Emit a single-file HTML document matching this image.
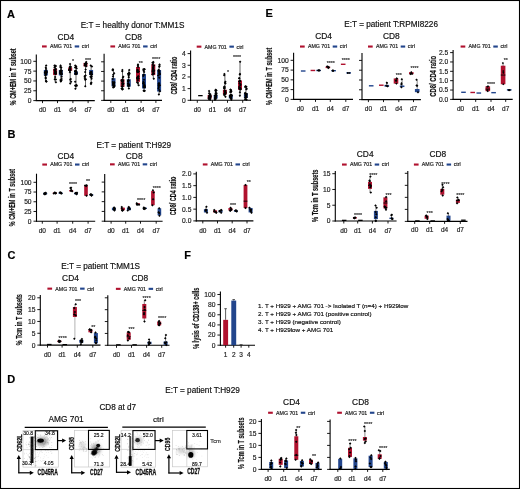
<!DOCTYPE html>
<html><head><meta charset="utf-8"><style>
html,body{margin:0;padding:0;background:#fff;}
svg{display:block;font-family:"Liberation Sans", sans-serif;will-change:transform;}
</style></head><body>
<svg width="520" height="489" viewBox="0 0 520 489">
<rect x="0.5" y="0.5" width="519" height="488" fill="none" stroke="#000" stroke-width="1.1"/>
<text x="7.00" y="17.80" font-size="11" text-anchor="start" font-weight="bold" fill="#000" stroke="#000" stroke-width="0.18">A</text>
<text x="132.50" y="28.00" font-size="8.2" text-anchor="middle" fill="#111" stroke="#111" stroke-width="0.18">E:T = healthy donor T:MM1S</text>
<text x="65.80" y="39.90" font-size="8.4" text-anchor="middle" fill="#111" stroke="#111" stroke-width="0.18">CD4</text>
<text x="133.50" y="39.90" font-size="8.4" text-anchor="middle" fill="#111" stroke="#111" stroke-width="0.18">CD8</text>
<rect x="42.00" y="45.40" width="4.70" height="2.10" fill="#b0112e"/>
<text x="49.90" y="48.30" font-size="5.25" text-anchor="start" fill="#222" stroke="#222" stroke-width="0.18">AMG 701</text>
<rect x="74.70" y="45.40" width="4.50" height="2.10" fill="#22458c"/>
<text x="81.80" y="48.30" font-size="5.25" text-anchor="start" fill="#222" stroke="#222" stroke-width="0.18">ctrl</text>
<rect x="110.40" y="45.40" width="4.70" height="2.10" fill="#b0112e"/>
<text x="118.30" y="48.30" font-size="5.25" text-anchor="start" fill="#222" stroke="#222" stroke-width="0.18">AMG 701</text>
<rect x="143.10" y="45.40" width="4.50" height="2.10" fill="#22458c"/>
<text x="150.20" y="48.30" font-size="5.25" text-anchor="start" fill="#222" stroke="#222" stroke-width="0.18">ctrl</text>
<rect x="196.70" y="45.60" width="4.70" height="2.10" fill="#b0112e"/>
<text x="204.60" y="48.50" font-size="5.25" text-anchor="start" fill="#222" stroke="#222" stroke-width="0.18">AMG 701</text>
<rect x="229.40" y="45.60" width="4.50" height="2.10" fill="#22458c"/>
<text x="236.50" y="48.50" font-size="5.25" text-anchor="start" fill="#222" stroke="#222" stroke-width="0.18">ctrl</text>
<text x="0.00" y="0.00" font-size="8.4" text-anchor="middle" font-weight="bold" fill="#111" transform="translate(15.52,76.80) rotate(-90) scale(0.655,1)" stroke="#111" stroke-width="0.18">% CM+EM in T subset</text>
<line x1="36.30" y1="54.40" x2="36.30" y2="101.10" stroke="#000" stroke-width="1.1"/>
<line x1="35.75" y1="100.60" x2="94.80" y2="100.60" stroke="#000" stroke-width="1.1"/>
<line x1="33.30" y1="100.60" x2="36.30" y2="100.60" stroke="#000" stroke-width="0.9"/>
<text x="31.40" y="103.01" font-size="6.7" text-anchor="end" fill="#222" stroke="#222" stroke-width="0.18">0</text>
<line x1="33.30" y1="90.77" x2="36.30" y2="90.77" stroke="#000" stroke-width="0.9"/>
<text x="31.40" y="93.19" font-size="6.7" text-anchor="end" fill="#222" stroke="#222" stroke-width="0.18">25</text>
<line x1="33.30" y1="80.95" x2="36.30" y2="80.95" stroke="#000" stroke-width="0.9"/>
<text x="31.40" y="83.36" font-size="6.7" text-anchor="end" fill="#222" stroke="#222" stroke-width="0.18">50</text>
<line x1="33.30" y1="71.12" x2="36.30" y2="71.12" stroke="#000" stroke-width="0.9"/>
<text x="31.40" y="73.54" font-size="6.7" text-anchor="end" fill="#222" stroke="#222" stroke-width="0.18">75</text>
<line x1="33.30" y1="61.30" x2="36.30" y2="61.30" stroke="#000" stroke-width="0.9"/>
<text x="31.40" y="63.71" font-size="6.7" text-anchor="end" fill="#222" stroke="#222" stroke-width="0.18">100</text>
<line x1="42.50" y1="100.60" x2="42.50" y2="103.10" stroke="#000" stroke-width="0.9"/>
<text x="42.50" y="112.00" font-size="6.5" text-anchor="middle" fill="#222" stroke="#222" stroke-width="0.18">d0</text>
<line x1="57.50" y1="100.60" x2="57.50" y2="103.10" stroke="#000" stroke-width="0.9"/>
<text x="57.50" y="112.00" font-size="6.5" text-anchor="middle" fill="#222" stroke="#222" stroke-width="0.18">d1</text>
<line x1="72.90" y1="100.60" x2="72.90" y2="103.10" stroke="#000" stroke-width="0.9"/>
<text x="72.90" y="112.00" font-size="6.5" text-anchor="middle" fill="#222" stroke="#222" stroke-width="0.18">d4</text>
<line x1="88.10" y1="100.60" x2="88.10" y2="103.10" stroke="#000" stroke-width="0.9"/>
<text x="88.10" y="112.00" font-size="6.5" text-anchor="middle" fill="#222" stroke="#222" stroke-width="0.18">d7</text>
<line x1="45.80" y1="65.62" x2="45.80" y2="81.50" stroke="#333" stroke-width="0.75"/>
<rect x="43.80" y="69.95" width="4.00" height="5.50" fill="#22458c"/>
<path d="M44.95 81.50L46.20 80.25L47.45 81.50L46.20 82.75Z" fill="#000"/>
<path d="M44.93 65.62L46.18 64.37L47.43 65.62L46.18 66.87Z" fill="#000"/>
<path d="M45.34 71.21L46.59 69.96L47.84 71.21L46.59 72.46Z" fill="#000"/>
<path d="M44.41 77.45L45.66 76.20L46.91 77.45L45.66 78.70Z" fill="#000"/>
<path d="M45.14 72.46L46.39 71.21L47.64 72.46L46.39 73.71Z" fill="#000"/>
<path d="M44.86 68.98L46.11 67.73L47.36 68.98L46.11 70.23Z" fill="#000"/>
<path d="M44.20 73.79L45.45 72.54L46.70 73.79L45.45 75.04Z" fill="#000"/>
<path d="M44.71 74.63L45.96 73.38L47.21 74.63L45.96 75.88Z" fill="#000"/>
<path d="M45.24 81.47L46.49 80.22L47.74 81.47L46.49 82.72Z" fill="#000"/>
<path d="M45.17 71.61L46.42 70.36L47.67 71.61L46.42 72.86Z" fill="#000"/>
<path d="M44.56 70.90L45.81 69.65L47.06 70.90L45.81 72.15Z" fill="#000"/>
<path d="M44.71 81.01L45.96 79.76L47.21 81.01L45.96 82.26Z" fill="#000"/>
<path d="M43.71 72.17L44.96 70.92L46.21 72.17L44.96 73.42Z" fill="#000"/>
<path d="M44.09 75.45L45.34 74.20L46.59 75.45L45.34 76.70Z" fill="#000"/>
<path d="M45.09 72.55L46.34 71.30L47.59 72.55L46.34 73.80Z" fill="#000"/>
<path d="M44.40 73.18L45.65 71.93L46.90 73.18L45.65 74.43Z" fill="#000"/>
<path d="M43.96 72.32L45.21 71.07L46.46 72.32L45.21 73.57Z" fill="#000"/>
<path d="M44.64 73.15L45.89 71.90L47.14 73.15L45.89 74.40Z" fill="#000"/>
<path d="M44.92 72.43L46.17 71.18L47.42 72.43L46.17 73.68Z" fill="#000"/>
<path d="M44.86 73.81L46.11 72.56L47.36 73.81L46.11 75.06Z" fill="#000"/>
<path d="M44.32 72.67L45.57 71.42L46.82 72.67L45.57 73.92Z" fill="#000"/>
<path d="M44.44 78.55L45.69 77.30L46.94 78.55L45.69 79.80Z" fill="#000"/>
<path d="M44.57 67.85L45.82 66.60L47.07 67.85L45.82 69.10Z" fill="#000"/>
<path d="M45.05 72.83L46.30 71.58L47.55 72.83L46.30 74.08Z" fill="#000"/>
<line x1="55.10" y1="65.62" x2="55.10" y2="82.13" stroke="#333" stroke-width="0.75"/>
<rect x="53.10" y="68.77" width="4.00" height="6.29" fill="#b0112e"/>
<path d="M54.68 82.13L55.93 80.88L57.18 82.13L55.93 83.38Z" fill="#000"/>
<path d="M53.24 65.62L54.49 64.37L55.74 65.62L54.49 66.87Z" fill="#000"/>
<path d="M54.31 66.48L55.56 65.23L56.81 66.48L55.56 67.73Z" fill="#000"/>
<path d="M54.24 73.54L55.49 72.29L56.74 73.54L55.49 74.79Z" fill="#000"/>
<path d="M53.78 69.98L55.03 68.73L56.28 69.98L55.03 71.23Z" fill="#000"/>
<path d="M53.90 77.04L55.15 75.79L56.40 77.04L55.15 78.29Z" fill="#000"/>
<path d="M53.83 72.11L55.08 70.86L56.33 72.11L55.08 73.36Z" fill="#000"/>
<path d="M54.61 79.51L55.86 78.26L57.11 79.51L55.86 80.76Z" fill="#000"/>
<path d="M53.85 72.33L55.10 71.08L56.35 72.33L55.10 73.58Z" fill="#000"/>
<path d="M54.45 65.71L55.70 64.46L56.95 65.71L55.70 66.96Z" fill="#000"/>
<path d="M53.59 73.15L54.84 71.90L56.09 73.15L54.84 74.40Z" fill="#000"/>
<path d="M54.54 72.82L55.79 71.57L57.04 72.82L55.79 74.07Z" fill="#000"/>
<path d="M54.57 73.77L55.82 72.52L57.07 73.77L55.82 75.02Z" fill="#000"/>
<path d="M53.78 72.62L55.03 71.37L56.28 72.62L55.03 73.87Z" fill="#000"/>
<path d="M53.97 70.37L55.22 69.12L56.47 70.37L55.22 71.62Z" fill="#000"/>
<path d="M54.61 71.67L55.86 70.42L57.11 71.67L55.86 72.92Z" fill="#000"/>
<path d="M54.25 73.78L55.50 72.53L56.75 73.78L55.50 75.03Z" fill="#000"/>
<path d="M53.83 73.34L55.08 72.09L56.33 73.34L55.08 74.59Z" fill="#000"/>
<path d="M53.35 69.95L54.60 68.70L55.85 69.95L54.60 71.20Z" fill="#000"/>
<path d="M53.53 79.13L54.78 77.88L56.03 79.13L54.78 80.38Z" fill="#000"/>
<path d="M54.21 68.98L55.46 67.73L56.71 68.98L55.46 70.23Z" fill="#000"/>
<path d="M53.25 67.16L54.50 65.91L55.75 67.16L54.50 68.41Z" fill="#000"/>
<path d="M54.58 69.09L55.83 67.84L57.08 69.09L55.83 70.34Z" fill="#000"/>
<path d="M53.43 70.02L54.68 68.77L55.93 70.02L54.68 71.27Z" fill="#000"/>
<line x1="60.80" y1="65.62" x2="60.80" y2="81.50" stroke="#333" stroke-width="0.75"/>
<rect x="58.80" y="69.95" width="4.00" height="5.50" fill="#22458c"/>
<path d="M59.56 81.50L60.81 80.25L62.06 81.50L60.81 82.75Z" fill="#000"/>
<path d="M59.34 65.62L60.59 64.37L61.84 65.62L60.59 66.87Z" fill="#000"/>
<path d="M59.28 71.74L60.53 70.49L61.78 71.74L60.53 72.99Z" fill="#000"/>
<path d="M59.70 71.50L60.95 70.25L62.20 71.50L60.95 72.75Z" fill="#000"/>
<path d="M59.70 80.46L60.95 79.21L62.20 80.46L60.95 81.71Z" fill="#000"/>
<path d="M60.28 70.58L61.53 69.33L62.78 70.58L61.53 71.83Z" fill="#000"/>
<path d="M59.88 72.96L61.13 71.71L62.38 72.96L61.13 74.21Z" fill="#000"/>
<path d="M60.32 74.03L61.57 72.78L62.82 74.03L61.57 75.28Z" fill="#000"/>
<path d="M60.19 73.94L61.44 72.69L62.69 73.94L61.44 75.19Z" fill="#000"/>
<path d="M60.43 79.11L61.68 77.86L62.93 79.11L61.68 80.36Z" fill="#000"/>
<path d="M59.86 67.72L61.11 66.47L62.36 67.72L61.11 68.97Z" fill="#000"/>
<path d="M58.94 70.96L60.19 69.71L61.44 70.96L60.19 72.21Z" fill="#000"/>
<path d="M60.20 80.48L61.45 79.23L62.70 80.48L61.45 81.73Z" fill="#000"/>
<path d="M60.39 72.12L61.64 70.87L62.89 72.12L61.64 73.37Z" fill="#000"/>
<path d="M60.28 73.75L61.53 72.50L62.78 73.75L61.53 75.00Z" fill="#000"/>
<path d="M59.67 73.99L60.92 72.74L62.17 73.99L60.92 75.24Z" fill="#000"/>
<path d="M59.93 67.55L61.18 66.30L62.43 67.55L61.18 68.80Z" fill="#000"/>
<path d="M59.03 66.88L60.28 65.63L61.53 66.88L60.28 68.13Z" fill="#000"/>
<path d="M60.15 70.73L61.40 69.48L62.65 70.73L61.40 71.98Z" fill="#000"/>
<path d="M59.68 70.20L60.93 68.95L62.18 70.20L60.93 71.45Z" fill="#000"/>
<path d="M59.16 79.95L60.41 78.70L61.66 79.95L60.41 81.20Z" fill="#000"/>
<path d="M58.76 73.02L60.01 71.77L61.26 73.02L60.01 74.27Z" fill="#000"/>
<path d="M60.19 74.58L61.44 73.33L62.69 74.58L61.44 75.83Z" fill="#000"/>
<path d="M60.43 76.72L61.68 75.47L62.93 76.72L61.68 77.97Z" fill="#000"/>
<line x1="70.20" y1="64.05" x2="70.20" y2="83.39" stroke="#333" stroke-width="0.75"/>
<rect x="68.20" y="67.59" width="4.00" height="3.14" fill="#b0112e"/>
<path d="M68.97 83.39L70.22 82.14L71.47 83.39L70.22 84.64Z" fill="#000"/>
<path d="M68.80 64.05L70.05 62.80L71.30 64.05L70.05 65.30Z" fill="#000"/>
<path d="M69.13 70.33L70.38 69.08L71.63 70.33L70.38 71.58Z" fill="#000"/>
<path d="M68.83 70.12L70.08 68.87L71.33 70.12L70.08 71.37Z" fill="#000"/>
<path d="M68.34 69.15L69.59 67.90L70.84 69.15L69.59 70.40Z" fill="#000"/>
<path d="M68.60 67.91L69.85 66.66L71.10 67.91L69.85 69.16Z" fill="#000"/>
<path d="M69.51 79.10L70.76 77.85L72.01 79.10L70.76 80.35Z" fill="#000"/>
<path d="M68.13 69.64L69.38 68.39L70.63 69.64L69.38 70.89Z" fill="#000"/>
<path d="M68.13 70.31L69.38 69.06L70.63 70.31L69.38 71.56Z" fill="#000"/>
<path d="M69.18 67.09L70.43 65.84L71.68 67.09L70.43 68.34Z" fill="#000"/>
<path d="M68.55 67.79L69.80 66.54L71.05 67.79L69.80 69.04Z" fill="#000"/>
<path d="M69.01 79.65L70.26 78.40L71.51 79.65L70.26 80.90Z" fill="#000"/>
<path d="M68.90 68.27L70.15 67.02L71.40 68.27L70.15 69.52Z" fill="#000"/>
<path d="M68.67 66.86L69.92 65.61L71.17 66.86L69.92 68.11Z" fill="#000"/>
<path d="M69.85 81.71L71.10 80.46L72.35 81.71L71.10 82.96Z" fill="#000"/>
<path d="M68.40 70.40L69.65 69.15L70.90 70.40L69.65 71.65Z" fill="#000"/>
<path d="M68.79 70.03L70.04 68.78L71.29 70.03L70.04 71.28Z" fill="#000"/>
<path d="M68.41 70.38L69.66 69.13L70.91 70.38L69.66 71.63Z" fill="#000"/>
<path d="M69.19 66.65L70.44 65.40L71.69 66.65L70.44 67.90Z" fill="#000"/>
<path d="M68.55 69.55L69.80 68.30L71.05 69.55L69.80 70.80Z" fill="#000"/>
<path d="M68.69 72.32L69.94 71.07L71.19 72.32L69.94 73.57Z" fill="#000"/>
<path d="M69.39 66.99L70.64 65.74L71.89 66.99L70.64 68.24Z" fill="#000"/>
<line x1="76.00" y1="65.62" x2="76.00" y2="88.69" stroke="#333" stroke-width="0.75"/>
<rect x="74.00" y="71.52" width="4.00" height="3.14" fill="#22458c"/>
<path d="M74.11 88.69L75.36 87.44L76.61 88.69L75.36 89.94Z" fill="#000"/>
<path d="M73.97 65.62L75.22 64.37L76.47 65.62L75.22 66.87Z" fill="#000"/>
<path d="M74.39 71.58L75.64 70.33L76.89 71.58L75.64 72.83Z" fill="#000"/>
<path d="M74.94 66.95L76.19 65.70L77.44 66.95L76.19 68.20Z" fill="#000"/>
<path d="M73.86 67.41L75.11 66.16L76.36 67.41L75.11 68.66Z" fill="#000"/>
<path d="M75.07 72.83L76.32 71.58L77.57 72.83L76.32 74.08Z" fill="#000"/>
<path d="M74.46 73.72L75.71 72.47L76.96 73.72L75.71 74.97Z" fill="#000"/>
<path d="M74.41 86.08L75.66 84.83L76.91 86.08L75.66 87.33Z" fill="#000"/>
<path d="M75.32 73.69L76.57 72.44L77.82 73.69L76.57 74.94Z" fill="#000"/>
<path d="M74.72 72.41L75.97 71.16L77.22 72.41L75.97 73.66Z" fill="#000"/>
<path d="M74.42 73.81L75.67 72.56L76.92 73.81L75.67 75.06Z" fill="#000"/>
<path d="M74.72 71.06L75.97 69.81L77.22 71.06L75.97 72.31Z" fill="#000"/>
<path d="M75.12 85.01L76.37 83.76L77.62 85.01L76.37 86.26Z" fill="#000"/>
<path d="M73.95 85.49L75.20 84.24L76.45 85.49L75.20 86.74Z" fill="#000"/>
<path d="M75.61 85.77L76.86 84.52L78.11 85.77L76.86 87.02Z" fill="#000"/>
<path d="M73.89 71.24L75.14 69.99L76.39 71.24L75.14 72.49Z" fill="#000"/>
<path d="M75.20 73.82L76.45 72.57L77.70 73.82L76.45 75.07Z" fill="#000"/>
<path d="M75.37 68.57L76.62 67.32L77.87 68.57L76.62 69.82Z" fill="#000"/>
<path d="M73.88 70.88L75.13 69.63L76.38 70.88L75.13 72.13Z" fill="#000"/>
<path d="M75.27 72.00L76.52 70.75L77.77 72.00L76.52 73.25Z" fill="#000"/>
<path d="M74.51 70.96L75.76 69.71L77.01 70.96L75.76 72.21Z" fill="#000"/>
<path d="M74.89 66.39L76.14 65.14L77.39 66.39L76.14 67.64Z" fill="#000"/>
<path d="M73.87 81.80L75.12 80.55L76.37 81.80L75.12 83.05Z" fill="#000"/>
<path d="M73.93 74.01L75.18 72.76L76.43 74.01L75.18 75.26Z" fill="#000"/>
<line x1="85.50" y1="61.89" x2="85.50" y2="86.22" stroke="#333" stroke-width="0.75"/>
<rect x="83.50" y="62.87" width="4.00" height="3.54" fill="#b0112e"/>
<path d="M84.00 86.22L85.25 84.97L86.50 86.22L85.25 87.47Z" fill="#000"/>
<path d="M85.03 61.89L86.28 60.64L87.53 61.89L86.28 63.14Z" fill="#000"/>
<path d="M84.99 66.22L86.24 64.97L87.49 66.22L86.24 67.47Z" fill="#000"/>
<path d="M84.28 65.19L85.53 63.94L86.78 65.19L85.53 66.44Z" fill="#000"/>
<path d="M84.51 63.93L85.76 62.68L87.01 63.93L85.76 65.18Z" fill="#000"/>
<path d="M84.61 63.63L85.86 62.38L87.11 63.63L85.86 64.88Z" fill="#000"/>
<path d="M84.80 63.59L86.05 62.34L87.30 63.59L86.05 64.84Z" fill="#000"/>
<path d="M85.11 63.49L86.36 62.24L87.61 63.49L86.36 64.74Z" fill="#000"/>
<path d="M83.40 76.14L84.65 74.89L85.90 76.14L84.65 77.39Z" fill="#000"/>
<path d="M84.00 63.87L85.25 62.62L86.50 63.87L85.25 65.12Z" fill="#000"/>
<path d="M84.43 64.28L85.68 63.03L86.93 64.28L85.68 65.53Z" fill="#000"/>
<path d="M83.90 79.76L85.15 78.51L86.40 79.76L85.15 81.01Z" fill="#000"/>
<path d="M84.41 69.54L85.66 68.29L86.91 69.54L85.66 70.79Z" fill="#000"/>
<path d="M83.51 78.05L84.76 76.80L86.01 78.05L84.76 79.30Z" fill="#000"/>
<path d="M84.93 63.50L86.18 62.25L87.43 63.50L86.18 64.75Z" fill="#000"/>
<path d="M84.30 75.39L85.55 74.14L86.80 75.39L85.55 76.64Z" fill="#000"/>
<path d="M83.56 65.40L84.81 64.15L86.06 65.40L84.81 66.65Z" fill="#000"/>
<path d="M84.54 79.13L85.79 77.88L87.04 79.13L85.79 80.38Z" fill="#000"/>
<path d="M83.91 71.90L85.16 70.65L86.41 71.90L85.16 73.15Z" fill="#000"/>
<path d="M83.70 63.96L84.95 62.71L86.20 63.96L84.95 65.21Z" fill="#000"/>
<line x1="91.10" y1="65.62" x2="91.10" y2="84.09" stroke="#333" stroke-width="0.75"/>
<rect x="89.10" y="69.95" width="4.00" height="5.11" fill="#22458c"/>
<path d="M89.77 84.09L91.02 82.84L92.27 84.09L91.02 85.34Z" fill="#000"/>
<path d="M89.49 65.62L90.74 64.37L91.99 65.62L90.74 66.87Z" fill="#000"/>
<path d="M90.38 74.19L91.63 72.94L92.88 74.19L91.63 75.44Z" fill="#000"/>
<path d="M90.21 82.76L91.46 81.51L92.71 82.76L91.46 84.01Z" fill="#000"/>
<path d="M89.39 73.51L90.64 72.26L91.89 73.51L90.64 74.76Z" fill="#000"/>
<path d="M89.98 73.07L91.23 71.82L92.48 73.07L91.23 74.32Z" fill="#000"/>
<path d="M89.90 73.30L91.15 72.05L92.40 73.30L91.15 74.55Z" fill="#000"/>
<path d="M90.53 74.38L91.78 73.13L93.03 74.38L91.78 75.63Z" fill="#000"/>
<path d="M90.26 72.06L91.51 70.81L92.76 72.06L91.51 73.31Z" fill="#000"/>
<path d="M89.47 73.96L90.72 72.71L91.97 73.96L90.72 75.21Z" fill="#000"/>
<path d="M90.71 66.59L91.96 65.34L93.21 66.59L91.96 67.84Z" fill="#000"/>
<path d="M89.16 76.77L90.41 75.52L91.66 76.77L90.41 78.02Z" fill="#000"/>
<path d="M89.70 83.23L90.95 81.98L92.20 83.23L90.95 84.48Z" fill="#000"/>
<path d="M90.31 78.74L91.56 77.49L92.81 78.74L91.56 79.99Z" fill="#000"/>
<path d="M89.22 74.29L90.47 73.04L91.72 74.29L90.47 75.54Z" fill="#000"/>
<path d="M89.83 72.10L91.08 70.85L92.33 72.10L91.08 73.35Z" fill="#000"/>
<path d="M89.02 72.83L90.27 71.58L91.52 72.83L90.27 74.08Z" fill="#000"/>
<path d="M90.15 77.22L91.40 75.97L92.65 77.22L91.40 78.47Z" fill="#000"/>
<path d="M90.33 74.46L91.58 73.21L92.83 74.46L91.58 75.71Z" fill="#000"/>
<path d="M89.98 74.01L91.23 72.76L92.48 74.01L91.23 75.26Z" fill="#000"/>
<path d="M90.53 76.20L91.78 74.95L93.03 76.20L91.78 77.45Z" fill="#000"/>
<path d="M89.51 72.82L90.76 71.57L92.01 72.82L90.76 74.07Z" fill="#000"/>
<text x="73.10" y="62.70" font-size="5.3" text-anchor="middle" fill="#333" stroke="#333" stroke-width="0.18">*</text>
<text x="88.10" y="61.60" font-size="5.3" text-anchor="middle" fill="#333" stroke="#333" stroke-width="0.18">***</text>
<line x1="104.10" y1="53.80" x2="104.10" y2="100.90" stroke="#000" stroke-width="1.1"/>
<line x1="103.55" y1="100.40" x2="162.00" y2="100.40" stroke="#000" stroke-width="1.1"/>
<line x1="101.10" y1="100.40" x2="104.10" y2="100.40" stroke="#000" stroke-width="0.9"/>
<line x1="101.10" y1="90.75" x2="104.10" y2="90.75" stroke="#000" stroke-width="0.9"/>
<line x1="101.10" y1="81.10" x2="104.10" y2="81.10" stroke="#000" stroke-width="0.9"/>
<line x1="101.10" y1="71.45" x2="104.10" y2="71.45" stroke="#000" stroke-width="0.9"/>
<line x1="101.10" y1="61.80" x2="104.10" y2="61.80" stroke="#000" stroke-width="0.9"/>
<line x1="110.80" y1="100.40" x2="110.80" y2="102.90" stroke="#000" stroke-width="0.9"/>
<text x="110.80" y="112.00" font-size="6.5" text-anchor="middle" fill="#222" stroke="#222" stroke-width="0.18">d0</text>
<line x1="125.60" y1="100.40" x2="125.60" y2="102.90" stroke="#000" stroke-width="0.9"/>
<text x="125.60" y="112.00" font-size="6.5" text-anchor="middle" fill="#222" stroke="#222" stroke-width="0.18">d1</text>
<line x1="141.10" y1="100.40" x2="141.10" y2="102.90" stroke="#000" stroke-width="0.9"/>
<text x="141.10" y="112.00" font-size="6.5" text-anchor="middle" fill="#222" stroke="#222" stroke-width="0.18">d4</text>
<line x1="155.90" y1="100.40" x2="155.90" y2="102.90" stroke="#000" stroke-width="0.9"/>
<text x="155.90" y="112.00" font-size="6.5" text-anchor="middle" fill="#222" stroke="#222" stroke-width="0.18">d7</text>
<line x1="113.50" y1="69.52" x2="113.50" y2="87.43" stroke="#333" stroke-width="0.75"/>
<rect x="111.50" y="78.17" width="4.00" height="8.18" fill="#22458c"/>
<path d="M111.92 87.43L113.17 86.18L114.42 87.43L113.17 88.68Z" fill="#000"/>
<path d="M111.76 69.52L113.01 68.27L114.26 69.52L113.01 70.77Z" fill="#000"/>
<path d="M111.87 83.48L113.12 82.23L114.37 83.48L113.12 84.73Z" fill="#000"/>
<path d="M111.48 79.09L112.73 77.84L113.98 79.09L112.73 80.34Z" fill="#000"/>
<path d="M112.73 83.33L113.98 82.08L115.23 83.33L113.98 84.58Z" fill="#000"/>
<path d="M112.07 83.74L113.32 82.49L114.57 83.74L113.32 84.99Z" fill="#000"/>
<path d="M112.87 73.23L114.12 71.98L115.37 73.23L114.12 74.48Z" fill="#000"/>
<path d="M112.05 84.86L113.30 83.61L114.55 84.86L113.30 86.11Z" fill="#000"/>
<path d="M113.07 82.13L114.32 80.88L115.57 82.13L114.32 83.38Z" fill="#000"/>
<path d="M112.88 86.68L114.13 85.43L115.38 86.68L114.13 87.93Z" fill="#000"/>
<path d="M111.35 70.15L112.60 68.90L113.85 70.15L112.60 71.40Z" fill="#000"/>
<path d="M111.73 76.41L112.98 75.16L114.23 76.41L112.98 77.66Z" fill="#000"/>
<path d="M112.99 86.42L114.24 85.17L115.49 86.42L114.24 87.67Z" fill="#000"/>
<path d="M112.20 86.18L113.45 84.93L114.70 86.18L113.45 87.43Z" fill="#000"/>
<path d="M113.11 85.20L114.36 83.95L115.61 85.20L114.36 86.45Z" fill="#000"/>
<path d="M112.07 84.00L113.32 82.75L114.57 84.00L113.32 85.25Z" fill="#000"/>
<path d="M111.48 81.95L112.73 80.70L113.98 81.95L112.73 83.20Z" fill="#000"/>
<path d="M112.48 83.04L113.73 81.79L114.98 83.04L113.73 84.29Z" fill="#000"/>
<path d="M112.75 82.92L114.00 81.67L115.25 82.92L114.00 84.17Z" fill="#000"/>
<path d="M111.84 85.00L113.09 83.75L114.34 85.00L113.09 86.25Z" fill="#000"/>
<path d="M111.51 69.60L112.76 68.35L114.01 69.60L112.76 70.85Z" fill="#000"/>
<path d="M111.95 74.75L113.20 73.50L114.45 74.75L113.20 76.00Z" fill="#000"/>
<line x1="122.50" y1="70.10" x2="122.50" y2="89.44" stroke="#333" stroke-width="0.75"/>
<rect x="120.50" y="79.25" width="4.00" height="7.60" fill="#b0112e"/>
<path d="M121.07 89.44L122.32 88.19L123.57 89.44L122.32 90.69Z" fill="#000"/>
<path d="M121.10 70.10L122.35 68.85L123.60 70.10L122.35 71.35Z" fill="#000"/>
<path d="M121.42 81.85L122.67 80.60L123.92 81.85L122.67 83.10Z" fill="#000"/>
<path d="M121.21 86.68L122.46 85.43L123.71 86.68L122.46 87.93Z" fill="#000"/>
<path d="M121.04 84.00L122.29 82.75L123.54 84.00L122.29 85.25Z" fill="#000"/>
<path d="M120.40 80.69L121.65 79.44L122.90 80.69L121.65 81.94Z" fill="#000"/>
<path d="M121.66 77.81L122.91 76.56L124.16 77.81L122.91 79.06Z" fill="#000"/>
<path d="M122.09 76.65L123.34 75.40L124.59 76.65L123.34 77.90Z" fill="#000"/>
<path d="M122.11 83.51L123.36 82.26L124.61 83.51L123.36 84.76Z" fill="#000"/>
<path d="M121.54 79.96L122.79 78.71L124.04 79.96L122.79 81.21Z" fill="#000"/>
<path d="M120.99 80.62L122.24 79.37L123.49 80.62L122.24 81.87Z" fill="#000"/>
<path d="M121.00 81.63L122.25 80.38L123.50 81.63L122.25 82.88Z" fill="#000"/>
<path d="M121.59 83.77L122.84 82.52L124.09 83.77L122.84 85.02Z" fill="#000"/>
<path d="M121.56 89.08L122.81 87.83L124.06 89.08L122.81 90.33Z" fill="#000"/>
<path d="M120.55 79.89L121.80 78.64L123.05 79.89L121.80 81.14Z" fill="#000"/>
<path d="M120.77 86.16L122.02 84.91L123.27 86.16L122.02 87.41Z" fill="#000"/>
<path d="M121.00 71.13L122.25 69.88L123.50 71.13L122.25 72.38Z" fill="#000"/>
<path d="M121.27 83.63L122.52 82.38L123.77 83.63L122.52 84.88Z" fill="#000"/>
<path d="M121.81 84.47L123.06 83.22L124.31 84.47L123.06 85.72Z" fill="#000"/>
<path d="M121.25 86.28L122.50 85.03L123.75 86.28L122.50 87.53Z" fill="#000"/>
<path d="M120.40 88.44L121.65 87.19L122.90 88.44L121.65 89.69Z" fill="#000"/>
<path d="M121.83 80.65L123.08 79.40L124.33 80.65L123.08 81.90Z" fill="#000"/>
<line x1="128.80" y1="70.10" x2="128.80" y2="88.43" stroke="#333" stroke-width="0.75"/>
<rect x="126.80" y="79.25" width="4.00" height="7.45" fill="#22458c"/>
<path d="M127.65 88.43L128.90 87.18L130.15 88.43L128.90 89.68Z" fill="#000"/>
<path d="M128.00 70.10L129.25 68.85L130.50 70.10L129.25 71.35Z" fill="#000"/>
<path d="M126.89 81.59L128.14 80.34L129.39 81.59L128.14 82.84Z" fill="#000"/>
<path d="M127.87 72.86L129.12 71.61L130.37 72.86L129.12 74.11Z" fill="#000"/>
<path d="M127.45 84.98L128.70 83.73L129.95 84.98L128.70 86.23Z" fill="#000"/>
<path d="M126.97 85.02L128.22 83.77L129.47 85.02L128.22 86.27Z" fill="#000"/>
<path d="M127.01 86.05L128.26 84.80L129.51 86.05L128.26 87.30Z" fill="#000"/>
<path d="M127.59 85.10L128.84 83.85L130.09 85.10L128.84 86.35Z" fill="#000"/>
<path d="M127.11 83.48L128.36 82.23L129.61 83.48L128.36 84.73Z" fill="#000"/>
<path d="M127.48 77.28L128.73 76.03L129.98 77.28L128.73 78.53Z" fill="#000"/>
<path d="M127.74 84.64L128.99 83.39L130.24 84.64L128.99 85.89Z" fill="#000"/>
<path d="M127.36 80.21L128.61 78.96L129.86 80.21L128.61 81.46Z" fill="#000"/>
<path d="M126.89 73.66L128.14 72.41L129.39 73.66L128.14 74.91Z" fill="#000"/>
<path d="M127.53 74.78L128.78 73.53L130.03 74.78L128.78 76.03Z" fill="#000"/>
<path d="M127.07 73.88L128.32 72.63L129.57 73.88L128.32 75.13Z" fill="#000"/>
<path d="M127.07 80.37L128.32 79.12L129.57 80.37L128.32 81.62Z" fill="#000"/>
<path d="M127.00 81.07L128.25 79.82L129.50 81.07L128.25 82.32Z" fill="#000"/>
<path d="M127.31 80.56L128.56 79.31L129.81 80.56L128.56 81.81Z" fill="#000"/>
<path d="M126.78 83.49L128.03 82.24L129.28 83.49L128.03 84.74Z" fill="#000"/>
<path d="M127.82 85.82L129.07 84.57L130.32 85.82L129.07 87.07Z" fill="#000"/>
<path d="M128.37 73.80L129.62 72.55L130.87 73.80L129.62 75.05Z" fill="#000"/>
<path d="M127.35 75.77L128.60 74.52L129.85 75.77L128.60 77.02Z" fill="#000"/>
<line x1="138.00" y1="64.39" x2="138.00" y2="85.35" stroke="#333" stroke-width="0.75"/>
<rect x="136.00" y="66.97" width="4.00" height="14.78" fill="#b0112e"/>
<path d="M137.42 85.35L138.67 84.10L139.92 85.35L138.67 86.60Z" fill="#000"/>
<path d="M136.77 64.39L138.02 63.14L139.27 64.39L138.02 65.64Z" fill="#000"/>
<path d="M136.20 71.37L137.45 70.12L138.70 71.37L137.45 72.62Z" fill="#000"/>
<path d="M136.66 65.64L137.91 64.39L139.16 65.64L137.91 66.89Z" fill="#000"/>
<path d="M136.24 77.97L137.49 76.72L138.74 77.97L137.49 79.22Z" fill="#000"/>
<path d="M137.29 71.55L138.54 70.30L139.79 71.55L138.54 72.80Z" fill="#000"/>
<path d="M136.75 71.64L138.00 70.39L139.25 71.64L138.00 72.89Z" fill="#000"/>
<path d="M136.03 70.26L137.28 69.01L138.53 70.26L137.28 71.51Z" fill="#000"/>
<path d="M137.32 78.46L138.57 77.21L139.82 78.46L138.57 79.71Z" fill="#000"/>
<path d="M136.01 77.84L137.26 76.59L138.51 77.84L137.26 79.09Z" fill="#000"/>
<path d="M136.36 69.87L137.61 68.62L138.86 69.87L137.61 71.12Z" fill="#000"/>
<path d="M135.90 82.21L137.15 80.96L138.40 82.21L137.15 83.46Z" fill="#000"/>
<path d="M137.18 71.43L138.43 70.18L139.68 71.43L138.43 72.68Z" fill="#000"/>
<path d="M136.05 72.12L137.30 70.87L138.55 72.12L137.30 73.37Z" fill="#000"/>
<path d="M136.80 76.77L138.05 75.52L139.30 76.77L138.05 78.02Z" fill="#000"/>
<path d="M136.02 78.73L137.27 77.48L138.52 78.73L137.27 79.98Z" fill="#000"/>
<path d="M136.71 76.89L137.96 75.64L139.21 76.89L137.96 78.14Z" fill="#000"/>
<path d="M137.08 76.15L138.33 74.90L139.58 76.15L138.33 77.40Z" fill="#000"/>
<path d="M136.81 67.06L138.06 65.81L139.31 67.06L138.06 68.31Z" fill="#000"/>
<path d="M136.67 83.01L137.92 81.76L139.17 83.01L137.92 84.26Z" fill="#000"/>
<path d="M136.72 72.06L137.97 70.81L139.22 72.06L137.97 73.31Z" fill="#000"/>
<path d="M136.64 80.36L137.89 79.11L139.14 80.36L137.89 81.61Z" fill="#000"/>
<line x1="144.00" y1="69.13" x2="144.00" y2="91.02" stroke="#333" stroke-width="0.75"/>
<rect x="142.00" y="74.07" width="4.00" height="14.36" fill="#22458c"/>
<path d="M143.09 91.02L144.34 89.77L145.59 91.02L144.34 92.27Z" fill="#000"/>
<path d="M143.14 69.13L144.39 67.88L145.64 69.13L144.39 70.38Z" fill="#000"/>
<path d="M142.37 90.77L143.62 89.52L144.87 90.77L143.62 92.02Z" fill="#000"/>
<path d="M142.74 87.56L143.99 86.31L145.24 87.56L143.99 88.81Z" fill="#000"/>
<path d="M143.45 90.65L144.70 89.40L145.95 90.65L144.70 91.90Z" fill="#000"/>
<path d="M142.03 76.11L143.28 74.86L144.53 76.11L143.28 77.36Z" fill="#000"/>
<path d="M142.06 69.14L143.31 67.89L144.56 69.14L143.31 70.39Z" fill="#000"/>
<path d="M141.94 83.58L143.19 82.33L144.44 83.58L143.19 84.83Z" fill="#000"/>
<path d="M142.69 84.88L143.94 83.63L145.19 84.88L143.94 86.13Z" fill="#000"/>
<path d="M143.36 85.15L144.61 83.90L145.86 85.15L144.61 86.40Z" fill="#000"/>
<path d="M142.85 71.88L144.10 70.63L145.35 71.88L144.10 73.13Z" fill="#000"/>
<path d="M142.57 86.13L143.82 84.88L145.07 86.13L143.82 87.38Z" fill="#000"/>
<path d="M142.75 79.83L144.00 78.58L145.25 79.83L144.00 81.08Z" fill="#000"/>
<path d="M142.17 81.89L143.42 80.64L144.67 81.89L143.42 83.14Z" fill="#000"/>
<path d="M143.56 87.30L144.81 86.05L146.06 87.30L144.81 88.55Z" fill="#000"/>
<path d="M142.49 83.14L143.74 81.89L144.99 83.14L143.74 84.39Z" fill="#000"/>
<path d="M142.27 70.66L143.52 69.41L144.77 70.66L143.52 71.91Z" fill="#000"/>
<path d="M142.41 82.15L143.66 80.90L144.91 82.15L143.66 83.40Z" fill="#000"/>
<path d="M143.33 69.24L144.58 67.99L145.83 69.24L144.58 70.49Z" fill="#000"/>
<path d="M142.42 74.86L143.67 73.61L144.92 74.86L143.67 76.11Z" fill="#000"/>
<path d="M143.48 86.42L144.73 85.17L145.98 86.42L144.73 87.67Z" fill="#000"/>
<path d="M142.46 74.96L143.71 73.71L144.96 74.96L143.71 76.21Z" fill="#000"/>
<line x1="153.30" y1="61.92" x2="153.30" y2="78.78" stroke="#333" stroke-width="0.75"/>
<rect x="151.30" y="64.39" width="4.00" height="10.69" fill="#b0112e"/>
<path d="M152.57 78.78L153.82 77.53L155.07 78.78L153.82 80.03Z" fill="#000"/>
<path d="M152.09 61.92L153.34 60.67L154.59 61.92L153.34 63.17Z" fill="#000"/>
<path d="M151.57 69.94L152.82 68.69L154.07 69.94L152.82 71.19Z" fill="#000"/>
<path d="M151.43 70.30L152.68 69.05L153.93 70.30L152.68 71.55Z" fill="#000"/>
<path d="M151.70 68.05L152.95 66.80L154.20 68.05L152.95 69.30Z" fill="#000"/>
<path d="M151.98 68.29L153.23 67.04L154.48 68.29L153.23 69.54Z" fill="#000"/>
<path d="M151.27 71.85L152.52 70.60L153.77 71.85L152.52 73.10Z" fill="#000"/>
<path d="M152.41 73.56L153.66 72.31L154.91 73.56L153.66 74.81Z" fill="#000"/>
<path d="M152.46 73.55L153.71 72.30L154.96 73.55L153.71 74.80Z" fill="#000"/>
<path d="M151.17 62.65L152.42 61.40L153.67 62.65L152.42 63.90Z" fill="#000"/>
<path d="M152.67 65.52L153.92 64.27L155.17 65.52L153.92 66.77Z" fill="#000"/>
<path d="M152.03 67.53L153.28 66.28L154.53 67.53L153.28 68.78Z" fill="#000"/>
<path d="M152.80 70.19L154.05 68.94L155.30 70.19L154.05 71.44Z" fill="#000"/>
<path d="M152.01 73.79L153.26 72.54L154.51 73.79L153.26 75.04Z" fill="#000"/>
<path d="M152.58 71.77L153.83 70.52L155.08 71.77L153.83 73.02Z" fill="#000"/>
<path d="M151.97 66.65L153.22 65.40L154.47 66.65L153.22 67.90Z" fill="#000"/>
<path d="M152.25 70.55L153.50 69.30L154.75 70.55L153.50 71.80Z" fill="#000"/>
<path d="M152.05 62.79L153.30 61.54L154.55 62.79L153.30 64.04Z" fill="#000"/>
<path d="M151.19 74.61L152.44 73.36L153.69 74.61L152.44 75.86Z" fill="#000"/>
<path d="M151.41 64.74L152.66 63.49L153.91 64.74L152.66 65.99Z" fill="#000"/>
<line x1="159.10" y1="64.39" x2="159.10" y2="94.53" stroke="#333" stroke-width="0.75"/>
<rect x="157.10" y="70.06" width="4.00" height="21.46" fill="#22458c"/>
<path d="M157.62 94.53L158.87 93.28L160.12 94.53L158.87 95.78Z" fill="#000"/>
<path d="M158.34 64.39L159.59 63.14L160.84 64.39L159.59 65.64Z" fill="#000"/>
<path d="M158.51 74.21L159.76 72.96L161.01 74.21L159.76 75.46Z" fill="#000"/>
<path d="M157.38 85.80L158.63 84.55L159.88 85.80L158.63 87.05Z" fill="#000"/>
<path d="M157.95 73.30L159.20 72.05L160.45 73.30L159.20 74.55Z" fill="#000"/>
<path d="M158.67 91.21L159.92 89.96L161.17 91.21L159.92 92.46Z" fill="#000"/>
<path d="M157.90 83.28L159.15 82.03L160.40 83.28L159.15 84.53Z" fill="#000"/>
<path d="M157.60 86.92L158.85 85.67L160.10 86.92L158.85 88.17Z" fill="#000"/>
<path d="M157.43 84.71L158.68 83.46L159.93 84.71L158.68 85.96Z" fill="#000"/>
<path d="M158.37 66.04L159.62 64.79L160.87 66.04L159.62 67.29Z" fill="#000"/>
<path d="M157.30 70.09L158.55 68.84L159.80 70.09L158.55 71.34Z" fill="#000"/>
<path d="M158.04 74.08L159.29 72.83L160.54 74.08L159.29 75.33Z" fill="#000"/>
<path d="M157.95 89.98L159.20 88.73L160.45 89.98L159.20 91.23Z" fill="#000"/>
<path d="M157.95 77.68L159.20 76.43L160.45 77.68L159.20 78.93Z" fill="#000"/>
<path d="M157.18 88.20L158.43 86.95L159.68 88.20L158.43 89.45Z" fill="#000"/>
<path d="M158.14 72.58L159.39 71.33L160.64 72.58L159.39 73.83Z" fill="#000"/>
<path d="M158.60 85.21L159.85 83.96L161.10 85.21L159.85 86.46Z" fill="#000"/>
<path d="M157.52 71.35L158.77 70.10L160.02 71.35L158.77 72.60Z" fill="#000"/>
<path d="M157.55 70.14L158.80 68.89L160.05 70.14L158.80 71.39Z" fill="#000"/>
<path d="M158.59 74.09L159.84 72.84L161.09 74.09L159.84 75.34Z" fill="#000"/>
<path d="M157.99 66.80L159.24 65.55L160.49 66.80L159.24 68.05Z" fill="#000"/>
<path d="M157.44 83.53L158.69 82.28L159.94 83.53L158.69 84.78Z" fill="#000"/>
<path d="M156.97 75.38L158.22 74.13L159.47 75.38L158.22 76.63Z" fill="#000"/>
<path d="M158.31 70.93L159.56 69.68L160.81 70.93L159.56 72.18Z" fill="#000"/>
<text x="140.70" y="64.90" font-size="5.3" text-anchor="middle" fill="#333" stroke="#333" stroke-width="0.18">**</text>
<text x="156.10" y="60.80" font-size="5.3" text-anchor="middle" fill="#333" stroke="#333" stroke-width="0.18">****</text>
<text x="0.00" y="0.00" font-size="8.4" text-anchor="middle" font-weight="bold" fill="#111" transform="translate(176.72,75.60) rotate(-90) scale(0.643,1)" stroke="#111" stroke-width="0.18">CD8/ CD4 ratio</text>
<line x1="190.60" y1="50.60" x2="190.60" y2="100.80" stroke="#000" stroke-width="1.1"/>
<line x1="190.05" y1="100.30" x2="251.00" y2="100.30" stroke="#000" stroke-width="1.1"/>
<line x1="187.60" y1="100.30" x2="190.60" y2="100.30" stroke="#000" stroke-width="0.9"/>
<text x="185.70" y="102.71" font-size="6.7" text-anchor="end" fill="#222" stroke="#222" stroke-width="0.18">0</text>
<line x1="187.60" y1="88.62" x2="190.60" y2="88.62" stroke="#000" stroke-width="0.9"/>
<text x="185.70" y="91.04" font-size="6.7" text-anchor="end" fill="#222" stroke="#222" stroke-width="0.18">1</text>
<line x1="187.60" y1="76.95" x2="190.60" y2="76.95" stroke="#000" stroke-width="0.9"/>
<text x="185.70" y="79.36" font-size="6.7" text-anchor="end" fill="#222" stroke="#222" stroke-width="0.18">2</text>
<line x1="187.60" y1="65.28" x2="190.60" y2="65.28" stroke="#000" stroke-width="0.9"/>
<text x="185.70" y="67.69" font-size="6.7" text-anchor="end" fill="#222" stroke="#222" stroke-width="0.18">3</text>
<line x1="187.60" y1="53.60" x2="190.60" y2="53.60" stroke="#000" stroke-width="0.9"/>
<text x="185.70" y="56.01" font-size="6.7" text-anchor="end" fill="#222" stroke="#222" stroke-width="0.18">4</text>
<line x1="197.30" y1="100.30" x2="197.30" y2="102.80" stroke="#000" stroke-width="0.9"/>
<text x="197.30" y="112.00" font-size="6.5" text-anchor="middle" fill="#222" stroke="#222" stroke-width="0.18">d0</text>
<line x1="212.40" y1="100.30" x2="212.40" y2="102.80" stroke="#000" stroke-width="0.9"/>
<text x="212.40" y="112.00" font-size="6.5" text-anchor="middle" fill="#222" stroke="#222" stroke-width="0.18">d1</text>
<line x1="227.50" y1="100.30" x2="227.50" y2="102.80" stroke="#000" stroke-width="0.9"/>
<text x="227.50" y="112.00" font-size="6.5" text-anchor="middle" fill="#222" stroke="#222" stroke-width="0.18">d4</text>
<line x1="242.70" y1="100.30" x2="242.70" y2="102.80" stroke="#000" stroke-width="0.9"/>
<text x="242.70" y="112.00" font-size="6.5" text-anchor="middle" fill="#222" stroke="#222" stroke-width="0.18">d7</text>
<line x1="198.15" y1="95.63" x2="202.65" y2="95.63" stroke="#000" stroke-width="1.3"/>
<line x1="209.60" y1="90.96" x2="209.60" y2="99.72" stroke="#333" stroke-width="0.75"/>
<rect x="207.60" y="95.05" width="4.00" height="3.50" fill="#b0112e"/>
<path d="M208.85 99.72L210.10 98.47L211.35 99.72L210.10 100.97Z" fill="#000"/>
<path d="M207.83 90.96L209.08 89.71L210.33 90.96L209.08 92.21Z" fill="#000"/>
<path d="M209.19 96.13L210.44 94.88L211.69 96.13L210.44 97.38Z" fill="#000"/>
<path d="M209.06 95.52L210.31 94.27L211.56 95.52L210.31 96.77Z" fill="#000"/>
<path d="M208.81 95.77L210.06 94.52L211.31 95.77L210.06 97.02Z" fill="#000"/>
<path d="M208.82 95.23L210.07 93.98L211.32 95.23L210.07 96.48Z" fill="#000"/>
<path d="M208.50 97.72L209.75 96.47L211.00 97.72L209.75 98.97Z" fill="#000"/>
<path d="M208.76 97.25L210.01 96.00L211.26 97.25L210.01 98.50Z" fill="#000"/>
<path d="M207.67 99.11L208.92 97.86L210.17 99.11L208.92 100.36Z" fill="#000"/>
<path d="M208.31 97.68L209.56 96.43L210.81 97.68L209.56 98.93Z" fill="#000"/>
<path d="M208.94 98.40L210.19 97.15L211.44 98.40L210.19 99.65Z" fill="#000"/>
<path d="M207.81 93.25L209.06 92.00L210.31 93.25L209.06 94.50Z" fill="#000"/>
<path d="M209.11 94.32L210.36 93.07L211.61 94.32L210.36 95.57Z" fill="#000"/>
<path d="M209.05 97.40L210.30 96.15L211.55 97.40L210.30 98.65Z" fill="#000"/>
<path d="M208.19 98.14L209.44 96.89L210.69 98.14L209.44 99.39Z" fill="#000"/>
<path d="M208.11 96.49L209.36 95.24L210.61 96.49L209.36 97.74Z" fill="#000"/>
<path d="M208.26 95.69L209.51 94.44L210.76 95.69L209.51 96.94Z" fill="#000"/>
<path d="M208.14 95.30L209.39 94.05L210.64 95.30L209.39 96.55Z" fill="#000"/>
<path d="M209.24 96.62L210.49 95.37L211.74 96.62L210.49 97.87Z" fill="#000"/>
<path d="M208.15 96.85L209.40 95.60L210.65 96.85L209.40 98.10Z" fill="#000"/>
<path d="M207.50 98.42L208.75 97.17L210.00 98.42L208.75 99.67Z" fill="#000"/>
<path d="M207.62 97.66L208.87 96.41L210.12 97.66L208.87 98.91Z" fill="#000"/>
<line x1="215.70" y1="89.79" x2="215.70" y2="99.72" stroke="#333" stroke-width="0.75"/>
<rect x="213.70" y="95.05" width="4.00" height="3.50" fill="#22458c"/>
<path d="M213.64 99.72L214.89 98.47L216.14 99.72L214.89 100.97Z" fill="#000"/>
<path d="M214.51 89.79L215.76 88.54L217.01 89.79L215.76 91.04Z" fill="#000"/>
<path d="M213.61 98.32L214.86 97.07L216.11 98.32L214.86 99.57Z" fill="#000"/>
<path d="M215.22 95.05L216.47 93.80L217.72 95.05L216.47 96.30Z" fill="#000"/>
<path d="M214.46 98.13L215.71 96.88L216.96 98.13L215.71 99.38Z" fill="#000"/>
<path d="M214.48 96.29L215.73 95.04L216.98 96.29L215.73 97.54Z" fill="#000"/>
<path d="M214.29 97.42L215.54 96.17L216.79 97.42L215.54 98.67Z" fill="#000"/>
<path d="M214.74 96.55L215.99 95.30L217.24 96.55L215.99 97.80Z" fill="#000"/>
<path d="M215.20 90.47L216.45 89.22L217.70 90.47L216.45 91.72Z" fill="#000"/>
<path d="M214.10 90.55L215.35 89.30L216.60 90.55L215.35 91.80Z" fill="#000"/>
<path d="M214.22 99.24L215.47 97.99L216.72 99.24L215.47 100.49Z" fill="#000"/>
<path d="M214.60 93.87L215.85 92.62L217.10 93.87L215.85 95.12Z" fill="#000"/>
<path d="M214.09 97.88L215.34 96.63L216.59 97.88L215.34 99.13Z" fill="#000"/>
<path d="M214.62 93.93L215.87 92.68L217.12 93.93L215.87 95.18Z" fill="#000"/>
<path d="M214.53 92.04L215.78 90.79L217.03 92.04L215.78 93.29Z" fill="#000"/>
<path d="M214.33 94.10L215.58 92.85L216.83 94.10L215.58 95.35Z" fill="#000"/>
<path d="M214.76 93.64L216.01 92.39L217.26 93.64L216.01 94.89Z" fill="#000"/>
<path d="M214.50 95.20L215.75 93.95L217.00 95.20L215.75 96.45Z" fill="#000"/>
<path d="M213.71 95.81L214.96 94.56L216.21 95.81L214.96 97.06Z" fill="#000"/>
<path d="M215.34 93.26L216.59 92.01L217.84 93.26L216.59 94.51Z" fill="#000"/>
<path d="M214.19 95.66L215.44 94.41L216.69 95.66L215.44 96.91Z" fill="#000"/>
<path d="M214.33 97.88L215.58 96.63L216.83 97.88L215.58 99.13Z" fill="#000"/>
<line x1="224.90" y1="74.03" x2="224.90" y2="96.80" stroke="#333" stroke-width="0.75"/>
<rect x="222.90" y="89.79" width="4.00" height="4.67" fill="#b0112e"/>
<path d="M224.22 96.80L225.47 95.55L226.72 96.80L225.47 98.05Z" fill="#000"/>
<path d="M223.10 74.03L224.35 72.78L225.60 74.03L224.35 75.28Z" fill="#000"/>
<path d="M222.96 75.20L224.21 73.95L225.46 75.20L224.21 76.45Z" fill="#000"/>
<path d="M222.93 94.90L224.18 93.65L225.43 94.90L224.18 96.15Z" fill="#000"/>
<path d="M222.82 87.15L224.07 85.90L225.32 87.15L224.07 88.40Z" fill="#000"/>
<path d="M223.25 93.85L224.50 92.60L225.75 93.85L224.50 95.10Z" fill="#000"/>
<path d="M223.78 92.39L225.03 91.14L226.28 92.39L225.03 93.64Z" fill="#000"/>
<path d="M224.23 92.34L225.48 91.09L226.73 92.34L225.48 93.59Z" fill="#000"/>
<path d="M223.35 94.06L224.60 92.81L225.85 94.06L224.60 95.31Z" fill="#000"/>
<path d="M223.42 87.21L224.67 85.96L225.92 87.21L224.67 88.46Z" fill="#000"/>
<path d="M223.27 91.03L224.52 89.78L225.77 91.03L224.52 92.28Z" fill="#000"/>
<path d="M223.30 94.19L224.55 92.94L225.80 94.19L224.55 95.44Z" fill="#000"/>
<path d="M224.15 83.39L225.40 82.14L226.65 83.39L225.40 84.64Z" fill="#000"/>
<path d="M223.74 82.66L224.99 81.41L226.24 82.66L224.99 83.91Z" fill="#000"/>
<path d="M223.22 88.54L224.47 87.29L225.72 88.54L224.47 89.79Z" fill="#000"/>
<path d="M222.94 88.40L224.19 87.15L225.44 88.40L224.19 89.65Z" fill="#000"/>
<path d="M224.16 81.76L225.41 80.51L226.66 81.76L225.41 83.01Z" fill="#000"/>
<path d="M224.02 94.06L225.27 92.81L226.52 94.06L225.27 95.31Z" fill="#000"/>
<path d="M224.24 91.11L225.49 89.86L226.74 91.11L225.49 92.36Z" fill="#000"/>
<path d="M223.18 86.61L224.43 85.36L225.68 86.61L224.43 87.86Z" fill="#000"/>
<path d="M223.73 92.65L224.98 91.40L226.23 92.65L224.98 93.90Z" fill="#000"/>
<path d="M224.40 92.95L225.65 91.70L226.90 92.95L225.65 94.20Z" fill="#000"/>
<line x1="230.80" y1="89.79" x2="230.80" y2="99.72" stroke="#333" stroke-width="0.75"/>
<rect x="228.80" y="95.05" width="4.00" height="3.50" fill="#22458c"/>
<path d="M230.20 99.72L231.45 98.47L232.70 99.72L231.45 100.97Z" fill="#000"/>
<path d="M229.13 89.79L230.38 88.54L231.63 89.79L230.38 91.04Z" fill="#000"/>
<path d="M229.99 91.38L231.24 90.13L232.49 91.38L231.24 92.63Z" fill="#000"/>
<path d="M230.31 95.05L231.56 93.80L232.81 95.05L231.56 96.30Z" fill="#000"/>
<path d="M228.82 96.20L230.07 94.95L231.32 96.20L230.07 97.45Z" fill="#000"/>
<path d="M229.54 95.89L230.79 94.64L232.04 95.89L230.79 97.14Z" fill="#000"/>
<path d="M228.93 96.07L230.18 94.82L231.43 96.07L230.18 97.32Z" fill="#000"/>
<path d="M228.91 92.12L230.16 90.87L231.41 92.12L230.16 93.37Z" fill="#000"/>
<path d="M229.51 95.52L230.76 94.27L232.01 95.52L230.76 96.77Z" fill="#000"/>
<path d="M229.86 98.57L231.11 97.32L232.36 98.57L231.11 99.82Z" fill="#000"/>
<path d="M230.40 95.19L231.65 93.94L232.90 95.19L231.65 96.44Z" fill="#000"/>
<path d="M228.89 95.31L230.14 94.06L231.39 95.31L230.14 96.56Z" fill="#000"/>
<path d="M229.56 95.21L230.81 93.96L232.06 95.21L230.81 96.46Z" fill="#000"/>
<path d="M230.45 95.88L231.70 94.63L232.95 95.88L231.70 97.13Z" fill="#000"/>
<path d="M230.03 98.15L231.28 96.90L232.53 98.15L231.28 99.40Z" fill="#000"/>
<path d="M229.61 97.48L230.86 96.23L232.11 97.48L230.86 98.73Z" fill="#000"/>
<path d="M229.09 97.26L230.34 96.01L231.59 97.26L230.34 98.51Z" fill="#000"/>
<path d="M229.79 90.54L231.04 89.29L232.29 90.54L231.04 91.79Z" fill="#000"/>
<path d="M229.12 95.41L230.37 94.16L231.62 95.41L230.37 96.66Z" fill="#000"/>
<path d="M229.81 98.21L231.06 96.96L232.31 98.21L231.06 99.46Z" fill="#000"/>
<path d="M229.82 91.79L231.07 90.54L232.32 91.79L231.07 93.04Z" fill="#000"/>
<path d="M229.35 89.87L230.60 88.62L231.85 89.87L230.60 91.12Z" fill="#000"/>
<line x1="240.00" y1="61.77" x2="240.00" y2="95.63" stroke="#333" stroke-width="0.75"/>
<rect x="238.00" y="80.45" width="4.00" height="9.34" fill="#b0112e"/>
<path d="M238.61 95.63L239.86 94.38L241.11 95.63L239.86 96.88Z" fill="#000"/>
<path d="M238.86 61.77L240.11 60.52L241.36 61.77L240.11 63.02Z" fill="#000"/>
<path d="M238.63 81.14L239.88 79.89L241.13 81.14L239.88 82.39Z" fill="#000"/>
<path d="M238.74 88.38L239.99 87.13L241.24 88.38L239.99 89.63Z" fill="#000"/>
<path d="M238.76 74.08L240.01 72.83L241.26 74.08L240.01 75.33Z" fill="#000"/>
<path d="M238.72 80.89L239.97 79.64L241.22 80.89L239.97 82.14Z" fill="#000"/>
<path d="M237.95 86.94L239.20 85.69L240.45 86.94L239.20 88.19Z" fill="#000"/>
<path d="M239.32 84.30L240.57 83.05L241.82 84.30L240.57 85.55Z" fill="#000"/>
<path d="M238.36 83.38L239.61 82.13L240.86 83.38L239.61 84.63Z" fill="#000"/>
<path d="M237.94 78.28L239.19 77.03L240.44 78.28L239.19 79.53Z" fill="#000"/>
<path d="M238.58 74.47L239.83 73.22L241.08 74.47L239.83 75.72Z" fill="#000"/>
<path d="M239.32 89.50L240.57 88.25L241.82 89.50L240.57 90.75Z" fill="#000"/>
<path d="M238.98 85.41L240.23 84.16L241.48 85.41L240.23 86.66Z" fill="#000"/>
<path d="M238.67 80.70L239.92 79.45L241.17 80.70L239.92 81.95Z" fill="#000"/>
<path d="M238.71 92.30L239.96 91.05L241.21 92.30L239.96 93.55Z" fill="#000"/>
<path d="M238.25 81.60L239.50 80.35L240.75 81.60L239.50 82.85Z" fill="#000"/>
<path d="M238.96 88.29L240.21 87.04L241.46 88.29L240.21 89.54Z" fill="#000"/>
<path d="M238.48 89.14L239.73 87.89L240.98 89.14L239.73 90.39Z" fill="#000"/>
<path d="M237.97 78.20L239.22 76.95L240.47 78.20L239.22 79.45Z" fill="#000"/>
<path d="M238.08 81.62L239.33 80.37L240.58 81.62L239.33 82.87Z" fill="#000"/>
<path d="M238.02 88.19L239.27 86.94L240.52 88.19L239.27 89.44Z" fill="#000"/>
<path d="M239.08 88.15L240.33 86.90L241.58 88.15L240.33 89.40Z" fill="#000"/>
<line x1="245.90" y1="86.29" x2="245.90" y2="99.72" stroke="#333" stroke-width="0.75"/>
<rect x="243.90" y="93.30" width="4.00" height="4.67" fill="#22458c"/>
<path d="M245.34 99.72L246.59 98.47L247.84 99.72L246.59 100.97Z" fill="#000"/>
<path d="M244.20 86.29L245.45 85.04L246.70 86.29L245.45 87.54Z" fill="#000"/>
<path d="M245.44 96.99L246.69 95.74L247.94 96.99L246.69 98.24Z" fill="#000"/>
<path d="M244.44 95.16L245.69 93.91L246.94 95.16L245.69 96.41Z" fill="#000"/>
<path d="M244.52 94.34L245.77 93.09L247.02 94.34L245.77 95.59Z" fill="#000"/>
<path d="M244.68 99.16L245.93 97.91L247.18 99.16L245.93 100.41Z" fill="#000"/>
<path d="M243.86 92.97L245.11 91.72L246.36 92.97L245.11 94.22Z" fill="#000"/>
<path d="M243.88 86.91L245.13 85.66L246.38 86.91L245.13 88.16Z" fill="#000"/>
<path d="M244.73 94.22L245.98 92.97L247.23 94.22L245.98 95.47Z" fill="#000"/>
<path d="M245.04 89.16L246.29 87.91L247.54 89.16L246.29 90.41Z" fill="#000"/>
<path d="M243.83 99.33L245.08 98.08L246.33 99.33L245.08 100.58Z" fill="#000"/>
<path d="M244.48 96.73L245.73 95.48L246.98 96.73L245.73 97.98Z" fill="#000"/>
<path d="M244.42 95.17L245.67 93.92L246.92 95.17L245.67 96.42Z" fill="#000"/>
<path d="M245.16 86.87L246.41 85.62L247.66 86.87L246.41 88.12Z" fill="#000"/>
<path d="M245.53 94.10L246.78 92.85L248.03 94.10L246.78 95.35Z" fill="#000"/>
<path d="M243.91 93.44L245.16 92.19L246.41 93.44L245.16 94.69Z" fill="#000"/>
<path d="M244.73 95.43L245.98 94.18L247.23 95.43L245.98 96.68Z" fill="#000"/>
<path d="M243.94 97.76L245.19 96.51L246.44 97.76L245.19 99.01Z" fill="#000"/>
<path d="M245.16 95.16L246.41 93.91L247.66 95.16L246.41 96.41Z" fill="#000"/>
<path d="M245.45 88.76L246.70 87.51L247.95 88.76L246.70 90.01Z" fill="#000"/>
<path d="M245.02 94.03L246.27 92.78L247.52 94.03L246.27 95.28Z" fill="#000"/>
<path d="M244.80 97.02L246.05 95.77L247.30 97.02L246.05 98.27Z" fill="#000"/>
<text x="228.00" y="74.00" font-size="5.3" text-anchor="middle" fill="#333" stroke="#333" stroke-width="0.18">*</text>
<text x="237.00" y="59.30" font-size="5.3" text-anchor="middle" fill="#333" stroke="#333" stroke-width="0.18">****</text>
<text x="7.50" y="138.30" font-size="11" text-anchor="start" font-weight="bold" fill="#000" stroke="#000" stroke-width="0.18">B</text>
<text x="133.80" y="148.10" font-size="8.2" text-anchor="middle" fill="#111" stroke="#111" stroke-width="0.18">E:T = patient T:H929</text>
<text x="65.80" y="158.70" font-size="8.4" text-anchor="middle" fill="#111" stroke="#111" stroke-width="0.18">CD4</text>
<text x="134.20" y="158.50" font-size="8.4" text-anchor="middle" fill="#111" stroke="#111" stroke-width="0.18">CD8</text>
<rect x="42.30" y="163.50" width="4.70" height="2.10" fill="#b0112e"/>
<text x="50.20" y="166.40" font-size="5.25" text-anchor="start" fill="#222" stroke="#222" stroke-width="0.18">AMG 701</text>
<rect x="75.00" y="163.50" width="4.50" height="2.10" fill="#22458c"/>
<text x="82.10" y="166.40" font-size="5.25" text-anchor="start" fill="#222" stroke="#222" stroke-width="0.18">ctrl</text>
<rect x="110.00" y="163.30" width="4.70" height="2.10" fill="#b0112e"/>
<text x="117.90" y="166.20" font-size="5.25" text-anchor="start" fill="#222" stroke="#222" stroke-width="0.18">AMG 701</text>
<rect x="142.70" y="163.30" width="4.50" height="2.10" fill="#22458c"/>
<text x="149.80" y="166.20" font-size="5.25" text-anchor="start" fill="#222" stroke="#222" stroke-width="0.18">ctrl</text>
<rect x="202.80" y="163.40" width="4.70" height="2.10" fill="#b0112e"/>
<text x="210.70" y="166.30" font-size="5.25" text-anchor="start" fill="#222" stroke="#222" stroke-width="0.18">AMG 701</text>
<rect x="235.50" y="163.40" width="4.50" height="2.10" fill="#22458c"/>
<text x="242.60" y="166.30" font-size="5.25" text-anchor="start" fill="#222" stroke="#222" stroke-width="0.18">ctrl</text>
<text x="0.00" y="0.00" font-size="8.4" text-anchor="middle" font-weight="bold" fill="#111" transform="translate(14.92,197.50) rotate(-90) scale(0.659,1)" stroke="#111" stroke-width="0.18">% CM+EM in T subset</text>
<line x1="36.50" y1="173.70" x2="36.50" y2="221.70" stroke="#000" stroke-width="1.1"/>
<line x1="35.95" y1="221.20" x2="95.20" y2="221.20" stroke="#000" stroke-width="1.1"/>
<line x1="33.50" y1="221.20" x2="36.50" y2="221.20" stroke="#000" stroke-width="0.9"/>
<text x="31.60" y="223.61" font-size="6.7" text-anchor="end" fill="#222" stroke="#222" stroke-width="0.18">0</text>
<line x1="33.50" y1="211.47" x2="36.50" y2="211.47" stroke="#000" stroke-width="0.9"/>
<text x="31.60" y="213.89" font-size="6.7" text-anchor="end" fill="#222" stroke="#222" stroke-width="0.18">25</text>
<line x1="33.50" y1="201.75" x2="36.50" y2="201.75" stroke="#000" stroke-width="0.9"/>
<text x="31.60" y="204.16" font-size="6.7" text-anchor="end" fill="#222" stroke="#222" stroke-width="0.18">50</text>
<line x1="33.50" y1="192.03" x2="36.50" y2="192.03" stroke="#000" stroke-width="0.9"/>
<text x="31.60" y="194.44" font-size="6.7" text-anchor="end" fill="#222" stroke="#222" stroke-width="0.18">75</text>
<line x1="33.50" y1="182.30" x2="36.50" y2="182.30" stroke="#000" stroke-width="0.9"/>
<text x="31.60" y="184.71" font-size="6.7" text-anchor="end" fill="#222" stroke="#222" stroke-width="0.18">100</text>
<line x1="42.30" y1="221.20" x2="42.30" y2="223.70" stroke="#000" stroke-width="0.9"/>
<text x="42.30" y="232.60" font-size="6.5" text-anchor="middle" fill="#222" stroke="#222" stroke-width="0.18">d0</text>
<line x1="57.10" y1="221.20" x2="57.10" y2="223.70" stroke="#000" stroke-width="0.9"/>
<text x="57.10" y="232.60" font-size="6.5" text-anchor="middle" fill="#222" stroke="#222" stroke-width="0.18">d1</text>
<line x1="72.70" y1="221.20" x2="72.70" y2="223.70" stroke="#000" stroke-width="0.9"/>
<text x="72.70" y="232.60" font-size="6.5" text-anchor="middle" fill="#222" stroke="#222" stroke-width="0.18">d4</text>
<line x1="88.10" y1="221.20" x2="88.10" y2="223.70" stroke="#000" stroke-width="0.9"/>
<text x="88.10" y="232.60" font-size="6.5" text-anchor="middle" fill="#222" stroke="#222" stroke-width="0.18">d7</text>
<line x1="45.20" y1="192.80" x2="45.20" y2="194.36" stroke="#666" stroke-width="0.75"/>
<rect x="43.20" y="192.88" width="4.00" height="1.40" fill="#22458c"/>
<path d="M43.10 194.36L44.35 193.11L45.60 194.36L44.35 195.61Z" fill="#000"/>
<path d="M44.53 192.80L45.78 191.55L47.03 192.80L45.78 194.05Z" fill="#000"/>
<path d="M44.34 194.03L45.59 192.78L46.84 194.03L45.59 195.28Z" fill="#000"/>
<path d="M43.08 193.37L44.33 192.12L45.58 193.37L44.33 194.62Z" fill="#000"/>
<path d="M44.04 194.03L45.29 192.78L46.54 194.03L45.29 195.28Z" fill="#000"/>
<path d="M43.82 193.28L45.07 192.03L46.32 193.28L45.07 194.53Z" fill="#000"/>
<line x1="54.80" y1="192.41" x2="54.80" y2="193.58" stroke="#666" stroke-width="0.75"/>
<rect x="52.80" y="192.49" width="4.00" height="1.40" fill="#b0112e"/>
<path d="M52.59 193.58L53.84 192.33L55.09 193.58L53.84 194.83Z" fill="#000"/>
<path d="M53.57 192.41L54.82 191.16L56.07 192.41L54.82 193.66Z" fill="#000"/>
<path d="M54.37 193.41L55.62 192.16L56.87 193.41L55.62 194.66Z" fill="#000"/>
<path d="M53.60 192.88L54.85 191.63L56.10 192.88L54.85 194.13Z" fill="#000"/>
<path d="M54.62 193.02L55.87 191.77L57.12 193.02L55.87 194.27Z" fill="#000"/>
<line x1="60.60" y1="192.41" x2="60.60" y2="193.58" stroke="#666" stroke-width="0.75"/>
<rect x="58.60" y="192.49" width="4.00" height="1.40" fill="#22458c"/>
<path d="M60.33 193.58L61.58 192.33L62.83 193.58L61.58 194.83Z" fill="#000"/>
<path d="M58.60 192.41L59.85 191.16L61.10 192.41L59.85 193.66Z" fill="#000"/>
<path d="M59.71 192.84L60.96 191.59L62.21 192.84L60.96 194.09Z" fill="#000"/>
<path d="M59.63 193.26L60.88 192.01L62.13 193.26L60.88 194.51Z" fill="#000"/>
<path d="M59.36 192.54L60.61 191.29L61.86 192.54L60.61 193.79Z" fill="#000"/>
<line x1="71.20" y1="187.75" x2="71.20" y2="191.25" stroke="#666" stroke-width="0.75"/>
<rect x="69.20" y="190.06" width="4.00" height="1.40" fill="#b0112e"/>
<path d="M70.85 191.25L72.10 190.00L73.35 191.25L72.10 192.50Z" fill="#000"/>
<path d="M69.80 187.75L71.05 186.50L72.30 187.75L71.05 189.00Z" fill="#000"/>
<path d="M69.56 190.64L70.81 189.39L72.06 190.64L70.81 191.89Z" fill="#000"/>
<path d="M69.14 188.10L70.39 186.85L71.64 188.10L70.39 189.35Z" fill="#000"/>
<path d="M69.97 189.97L71.22 188.72L72.47 189.97L71.22 191.22Z" fill="#000"/>
<line x1="76.00" y1="192.80" x2="76.00" y2="194.36" stroke="#666" stroke-width="0.75"/>
<rect x="74.00" y="192.88" width="4.00" height="1.40" fill="#22458c"/>
<path d="M75.36 194.36L76.61 193.11L77.86 194.36L76.61 195.61Z" fill="#000"/>
<path d="M75.78 192.80L77.03 191.55L78.28 192.80L77.03 194.05Z" fill="#000"/>
<path d="M74.21 193.29L75.46 192.04L76.71 193.29L75.46 194.54Z" fill="#000"/>
<path d="M74.43 193.01L75.68 191.76L76.93 193.01L75.68 194.26Z" fill="#000"/>
<path d="M75.27 193.04L76.52 191.79L77.77 193.04L76.52 194.29Z" fill="#000"/>
<path d="M74.95 193.20L76.20 191.95L77.45 193.20L76.20 194.45Z" fill="#000"/>
<line x1="86.00" y1="185.22" x2="86.00" y2="195.80" stroke="#666" stroke-width="0.75"/>
<rect x="84.20" y="185.22" width="3.60" height="10.58" fill="#b0112e"/>
<path d="M85.27 195.80L86.52 194.55L87.77 195.80L86.52 197.05Z" fill="#000"/>
<path d="M85.43 185.22L86.68 183.97L87.93 185.22L86.68 186.47Z" fill="#000"/>
<path d="M83.85 185.40L85.10 184.15L86.35 185.40L85.10 186.65Z" fill="#000"/>
<path d="M84.98 186.08L86.23 184.83L87.48 186.08L86.23 187.33Z" fill="#000"/>
<line x1="91.30" y1="194.16" x2="91.30" y2="195.53" stroke="#666" stroke-width="0.75"/>
<rect x="89.30" y="194.24" width="4.00" height="1.40" fill="#22458c"/>
<path d="M90.36 195.53L91.61 194.28L92.86 195.53L91.61 196.78Z" fill="#000"/>
<path d="M89.74 194.16L90.99 192.91L92.24 194.16L90.99 195.41Z" fill="#000"/>
<path d="M90.12 195.40L91.37 194.15L92.62 195.40L91.37 196.65Z" fill="#000"/>
<path d="M89.11 194.38L90.36 193.13L91.61 194.38L90.36 195.63Z" fill="#000"/>
<path d="M90.49 194.82L91.74 193.57L92.99 194.82L91.74 196.07Z" fill="#000"/>
<text x="73.00" y="186.30" font-size="5.3" text-anchor="middle" fill="#333" stroke="#333" stroke-width="0.18">****</text>
<text x="88.00" y="183.00" font-size="5.3" text-anchor="middle" fill="#333" stroke="#333" stroke-width="0.18">**</text>
<line x1="104.70" y1="174.00" x2="104.70" y2="221.70" stroke="#000" stroke-width="1.1"/>
<line x1="104.15" y1="221.20" x2="162.60" y2="221.20" stroke="#000" stroke-width="1.1"/>
<line x1="101.70" y1="221.20" x2="104.70" y2="221.20" stroke="#000" stroke-width="0.9"/>
<line x1="101.70" y1="211.42" x2="104.70" y2="211.42" stroke="#000" stroke-width="0.9"/>
<line x1="101.70" y1="201.65" x2="104.70" y2="201.65" stroke="#000" stroke-width="0.9"/>
<line x1="101.70" y1="191.88" x2="104.70" y2="191.88" stroke="#000" stroke-width="0.9"/>
<line x1="101.70" y1="182.10" x2="104.70" y2="182.10" stroke="#000" stroke-width="0.9"/>
<line x1="111.10" y1="221.20" x2="111.10" y2="223.70" stroke="#000" stroke-width="0.9"/>
<text x="111.10" y="232.60" font-size="6.5" text-anchor="middle" fill="#222" stroke="#222" stroke-width="0.18">d0</text>
<line x1="125.70" y1="221.20" x2="125.70" y2="223.70" stroke="#000" stroke-width="0.9"/>
<text x="125.70" y="232.60" font-size="6.5" text-anchor="middle" fill="#222" stroke="#222" stroke-width="0.18">d1</text>
<line x1="140.50" y1="221.20" x2="140.50" y2="223.70" stroke="#000" stroke-width="0.9"/>
<text x="140.50" y="232.60" font-size="6.5" text-anchor="middle" fill="#222" stroke="#222" stroke-width="0.18">d4</text>
<line x1="156.20" y1="221.20" x2="156.20" y2="223.70" stroke="#000" stroke-width="0.9"/>
<text x="156.20" y="232.60" font-size="6.5" text-anchor="middle" fill="#222" stroke="#222" stroke-width="0.18">d7</text>
<line x1="113.90" y1="207.51" x2="113.90" y2="210.49" stroke="#666" stroke-width="0.75"/>
<rect x="111.90" y="207.67" width="4.00" height="2.58" fill="#22458c"/>
<path d="M113.21 210.49L114.46 209.24L115.71 210.49L114.46 211.74Z" fill="#000"/>
<path d="M112.83 207.51L114.08 206.26L115.33 207.51L114.08 208.76Z" fill="#000"/>
<path d="M113.32 209.66L114.57 208.41L115.82 209.66L114.57 210.91Z" fill="#000"/>
<path d="M113.04 207.89L114.29 206.64L115.54 207.89L114.29 209.14Z" fill="#000"/>
<path d="M113.46 208.44L114.71 207.19L115.96 208.44L114.71 209.69Z" fill="#000"/>
<path d="M112.50 209.35L113.75 208.10L115.00 209.35L113.75 210.60Z" fill="#000"/>
<line x1="122.90" y1="207.12" x2="122.90" y2="210.49" stroke="#666" stroke-width="0.75"/>
<rect x="120.90" y="207.67" width="4.00" height="2.58" fill="#b0112e"/>
<path d="M121.46 210.49L122.71 209.24L123.96 210.49L122.71 211.74Z" fill="#000"/>
<path d="M120.52 207.12L121.77 205.87L123.02 207.12L121.77 208.37Z" fill="#000"/>
<path d="M120.97 210.40L122.22 209.15L123.47 210.40L122.22 211.65Z" fill="#000"/>
<path d="M121.66 209.68L122.91 208.43L124.16 209.68L122.91 210.93Z" fill="#000"/>
<path d="M120.51 208.21L121.76 206.96L123.01 208.21L121.76 209.46Z" fill="#000"/>
<path d="M120.93 210.19L122.18 208.94L123.43 210.19L122.18 211.44Z" fill="#000"/>
<line x1="128.90" y1="207.12" x2="128.90" y2="210.49" stroke="#666" stroke-width="0.75"/>
<rect x="126.90" y="207.51" width="4.00" height="2.74" fill="#22458c"/>
<path d="M126.50 210.49L127.75 209.24L129.00 210.49L127.75 211.74Z" fill="#000"/>
<path d="M127.49 207.12L128.74 205.87L129.99 207.12L128.74 208.37Z" fill="#000"/>
<path d="M127.34 208.35L128.59 207.10L129.84 208.35L128.59 209.60Z" fill="#000"/>
<path d="M128.50 208.99L129.75 207.74L131.00 208.99L129.75 210.24Z" fill="#000"/>
<path d="M127.76 207.82L129.01 206.57L130.26 207.82L129.01 209.07Z" fill="#000"/>
<path d="M128.26 208.89L129.51 207.64L130.76 208.89L129.51 210.14Z" fill="#000"/>
<line x1="137.90" y1="203.21" x2="137.90" y2="204.78" stroke="#666" stroke-width="0.75"/>
<rect x="135.90" y="203.21" width="4.00" height="1.56" fill="#b0112e"/>
<path d="M135.73 204.78L136.98 203.53L138.23 204.78L136.98 206.03Z" fill="#000"/>
<path d="M135.47 203.21L136.72 201.96L137.97 203.21L136.72 204.46Z" fill="#000"/>
<path d="M135.83 203.93L137.08 202.68L138.33 203.93L137.08 205.18Z" fill="#000"/>
<path d="M136.68 204.50L137.93 203.25L139.18 204.50L137.93 205.75Z" fill="#000"/>
<path d="M137.82 204.73L139.07 203.48L140.32 204.73L139.07 205.98Z" fill="#000"/>
<line x1="144.80" y1="207.51" x2="144.80" y2="209.08" stroke="#666" stroke-width="0.75"/>
<rect x="142.80" y="207.60" width="4.00" height="1.40" fill="#22458c"/>
<path d="M143.03 209.08L144.28 207.83L145.53 209.08L144.28 210.33Z" fill="#000"/>
<path d="M142.63 207.51L143.88 206.26L145.13 207.51L143.88 208.76Z" fill="#000"/>
<path d="M143.10 208.31L144.35 207.06L145.60 208.31L144.35 209.56Z" fill="#000"/>
<path d="M144.13 208.49L145.38 207.24L146.63 208.49L145.38 209.74Z" fill="#000"/>
<path d="M142.44 208.87L143.69 207.62L144.94 208.87L143.69 210.12Z" fill="#000"/>
<line x1="152.90" y1="190.31" x2="152.90" y2="205.17" stroke="#666" stroke-width="0.75"/>
<rect x="151.10" y="191.09" width="3.60" height="14.08" fill="#b0112e"/>
<path d="M151.16 205.17L152.41 203.92L153.66 205.17L152.41 206.42Z" fill="#000"/>
<path d="M151.68 190.31L152.93 189.06L154.18 190.31L152.93 191.56Z" fill="#000"/>
<path d="M151.80 199.23L153.05 197.98L154.30 199.23L153.05 200.48Z" fill="#000"/>
<path d="M152.45 192.39L153.70 191.14L154.95 192.39L153.70 193.64Z" fill="#000"/>
<line x1="159.40" y1="208.30" x2="159.40" y2="215.73" stroke="#666" stroke-width="0.75"/>
<rect x="157.60" y="208.30" width="3.60" height="7.04" fill="#22458c"/>
<path d="M158.17 215.73L159.42 214.48L160.67 215.73L159.42 216.98Z" fill="#000"/>
<path d="M157.96 208.30L159.21 207.05L160.46 208.30L159.21 209.55Z" fill="#000"/>
<path d="M157.32 212.31L158.57 211.06L159.82 212.31L158.57 213.56Z" fill="#000"/>
<path d="M158.00 212.92L159.25 211.67L160.50 212.92L159.25 214.17Z" fill="#000"/>
<text x="141.10" y="201.70" font-size="5.3" text-anchor="middle" fill="#333" stroke="#333" stroke-width="0.18">****</text>
<text x="156.80" y="190.10" font-size="5.3" text-anchor="middle" fill="#333" stroke="#333" stroke-width="0.18">****</text>
<text x="0.00" y="0.00" font-size="8.4" text-anchor="middle" font-weight="bold" fill="#111" transform="translate(176.32,196.00) rotate(-90) scale(0.658,1)" stroke="#111" stroke-width="0.18">CD8/ CD4 ratio</text>
<line x1="196.30" y1="171.70" x2="196.30" y2="221.40" stroke="#000" stroke-width="1.1"/>
<line x1="195.75" y1="220.90" x2="253.40" y2="220.90" stroke="#000" stroke-width="1.1"/>
<line x1="193.30" y1="220.90" x2="196.30" y2="220.90" stroke="#000" stroke-width="0.9"/>
<text x="191.40" y="223.31" font-size="6.7" text-anchor="end" fill="#222" stroke="#222" stroke-width="0.18">0.0</text>
<line x1="193.30" y1="209.15" x2="196.30" y2="209.15" stroke="#000" stroke-width="0.9"/>
<text x="191.40" y="211.56" font-size="6.7" text-anchor="end" fill="#222" stroke="#222" stroke-width="0.18">0.5</text>
<line x1="193.30" y1="197.40" x2="196.30" y2="197.40" stroke="#000" stroke-width="0.9"/>
<text x="191.40" y="199.81" font-size="6.7" text-anchor="end" fill="#222" stroke="#222" stroke-width="0.18">1.0</text>
<line x1="193.30" y1="185.65" x2="196.30" y2="185.65" stroke="#000" stroke-width="0.9"/>
<text x="191.40" y="188.06" font-size="6.7" text-anchor="end" fill="#222" stroke="#222" stroke-width="0.18">1.5</text>
<line x1="193.30" y1="173.90" x2="196.30" y2="173.90" stroke="#000" stroke-width="0.9"/>
<text x="191.40" y="176.31" font-size="6.7" text-anchor="end" fill="#222" stroke="#222" stroke-width="0.18">2.0</text>
<line x1="202.80" y1="220.90" x2="202.80" y2="223.40" stroke="#000" stroke-width="0.9"/>
<text x="202.80" y="232.60" font-size="6.5" text-anchor="middle" fill="#222" stroke="#222" stroke-width="0.18">d0</text>
<line x1="217.50" y1="220.90" x2="217.50" y2="223.40" stroke="#000" stroke-width="0.9"/>
<text x="217.50" y="232.60" font-size="6.5" text-anchor="middle" fill="#222" stroke="#222" stroke-width="0.18">d1</text>
<line x1="232.20" y1="220.90" x2="232.20" y2="223.40" stroke="#000" stroke-width="0.9"/>
<text x="232.20" y="232.60" font-size="6.5" text-anchor="middle" fill="#222" stroke="#222" stroke-width="0.18">d4</text>
<line x1="247.00" y1="220.90" x2="247.00" y2="223.40" stroke="#000" stroke-width="0.9"/>
<text x="247.00" y="232.60" font-size="6.5" text-anchor="middle" fill="#222" stroke="#222" stroke-width="0.18">d7</text>
<line x1="205.90" y1="206.80" x2="205.90" y2="212.68" stroke="#666" stroke-width="0.75"/>
<rect x="203.90" y="209.15" width="4.00" height="3.29" fill="#22458c"/>
<path d="M205.77 212.68L207.02 211.43L208.27 212.68L207.02 213.93Z" fill="#000"/>
<path d="M205.21 206.80L206.46 205.55L207.71 206.80L206.46 208.05Z" fill="#000"/>
<path d="M204.77 210.79L206.02 209.54L207.27 210.79L206.02 212.04Z" fill="#000"/>
<path d="M204.96 209.74L206.21 208.49L207.46 209.74L206.21 210.99Z" fill="#000"/>
<path d="M204.86 210.62L206.11 209.37L207.36 210.62L206.11 211.87Z" fill="#000"/>
<path d="M204.31 210.34L205.56 209.09L206.81 210.34L205.56 211.59Z" fill="#000"/>
<line x1="215.10" y1="210.09" x2="215.10" y2="212.68" stroke="#666" stroke-width="0.75"/>
<rect x="213.10" y="210.33" width="4.00" height="2.11" fill="#b0112e"/>
<path d="M214.86 212.68L216.11 211.43L217.36 212.68L216.11 213.93Z" fill="#000"/>
<path d="M213.03 210.09L214.28 208.84L215.53 210.09L214.28 211.34Z" fill="#000"/>
<path d="M215.04 212.53L216.29 211.28L217.54 212.53L216.29 213.78Z" fill="#000"/>
<path d="M213.64 211.42L214.89 210.17L216.14 211.42L214.89 212.67Z" fill="#000"/>
<path d="M213.09 211.62L214.34 210.37L215.59 211.62L214.34 212.87Z" fill="#000"/>
<line x1="220.60" y1="210.09" x2="220.60" y2="212.68" stroke="#666" stroke-width="0.75"/>
<rect x="218.60" y="210.33" width="4.00" height="2.11" fill="#22458c"/>
<path d="M219.91 212.68L221.16 211.43L222.41 212.68L221.16 213.93Z" fill="#000"/>
<path d="M219.90 210.09L221.15 208.84L222.40 210.09L221.15 211.34Z" fill="#000"/>
<path d="M220.21 210.37L221.46 209.12L222.71 210.37L221.46 211.62Z" fill="#000"/>
<path d="M218.24 210.94L219.49 209.69L220.74 210.94L219.49 212.19Z" fill="#000"/>
<path d="M218.56 211.33L219.81 210.08L221.06 211.33L219.81 212.58Z" fill="#000"/>
<line x1="230.40" y1="207.74" x2="230.40" y2="210.80" stroke="#666" stroke-width="0.75"/>
<rect x="228.40" y="207.97" width="4.00" height="2.59" fill="#b0112e"/>
<path d="M229.02 210.80L230.27 209.55L231.52 210.80L230.27 212.05Z" fill="#000"/>
<path d="M229.34 207.74L230.59 206.49L231.84 207.74L230.59 208.99Z" fill="#000"/>
<path d="M228.87 210.38L230.12 209.13L231.37 210.38L230.12 211.63Z" fill="#000"/>
<path d="M230.14 209.32L231.39 208.07L232.64 209.32L231.39 210.57Z" fill="#000"/>
<path d="M230.06 209.63L231.31 208.38L232.56 209.63L231.31 210.88Z" fill="#000"/>
<line x1="235.90" y1="210.56" x2="235.90" y2="211.50" stroke="#666" stroke-width="0.75"/>
<rect x="233.90" y="210.33" width="4.00" height="1.40" fill="#22458c"/>
<path d="M235.47 211.50L236.72 210.25L237.97 211.50L236.72 212.75Z" fill="#000"/>
<path d="M235.24 210.56L236.49 209.31L237.74 210.56L236.49 211.81Z" fill="#000"/>
<path d="M234.17 210.61L235.42 209.36L236.67 210.61L235.42 211.86Z" fill="#000"/>
<path d="M234.29 210.80L235.54 209.55L236.79 210.80L235.54 212.05Z" fill="#000"/>
<line x1="245.50" y1="184.94" x2="245.50" y2="207.97" stroke="#666" stroke-width="0.75"/>
<rect x="243.60" y="184.94" width="3.80" height="23.03" fill="#b0112e"/>
<line x1="243.60" y1="201.16" x2="247.40" y2="201.16" stroke="#000" stroke-width="0.9"/>
<path d="M244.20 207.97L245.50 206.67L246.80 207.97L245.50 209.28Z" fill="#000"/>
<path d="M244.20 184.94L245.50 183.64L246.80 184.94L245.50 186.25Z" fill="#000"/>
<line x1="250.60" y1="207.74" x2="250.60" y2="212.68" stroke="#666" stroke-width="0.75"/>
<rect x="248.60" y="207.97" width="4.00" height="4.47" fill="#22458c"/>
<path d="M250.27 212.68L251.52 211.43L252.77 212.68L251.52 213.93Z" fill="#000"/>
<path d="M248.20 207.74L249.45 206.49L250.70 207.74L249.45 208.99Z" fill="#000"/>
<path d="M249.92 209.81L251.17 208.56L252.42 209.81L251.17 211.06Z" fill="#000"/>
<path d="M249.39 210.14L250.64 208.89L251.89 210.14L250.64 211.39Z" fill="#000"/>
<path d="M249.60 211.24L250.85 209.99L252.10 211.24L250.85 212.49Z" fill="#000"/>
<path d="M249.06 209.54L250.31 208.29L251.56 209.54L250.31 210.79Z" fill="#000"/>
<text x="233.10" y="206.60" font-size="5.3" text-anchor="middle" fill="#333" stroke="#333" stroke-width="0.18">***</text>
<text x="248.80" y="184.30" font-size="5.3" text-anchor="middle" fill="#333" stroke="#333" stroke-width="0.18">**</text>
<text x="7.50" y="258.70" font-size="11" text-anchor="start" font-weight="bold" fill="#000" stroke="#000" stroke-width="0.18">C</text>
<text x="61.30" y="269.10" font-size="8.2" text-anchor="start" fill="#111" stroke="#111" stroke-width="0.18">E:T = patient T:MM1S</text>
<text x="70.50" y="281.40" font-size="8.4" text-anchor="middle" fill="#111" stroke="#111" stroke-width="0.18">CD4</text>
<text x="139.80" y="281.30" font-size="8.4" text-anchor="middle" fill="#111" stroke="#111" stroke-width="0.18">CD8</text>
<rect x="47.40" y="287.60" width="4.70" height="2.10" fill="#b0112e"/>
<text x="55.30" y="290.50" font-size="5.25" text-anchor="start" fill="#222" stroke="#222" stroke-width="0.18">AMG 701</text>
<rect x="80.10" y="287.60" width="4.50" height="2.10" fill="#22458c"/>
<text x="87.20" y="290.50" font-size="5.25" text-anchor="start" fill="#222" stroke="#222" stroke-width="0.18">ctrl</text>
<rect x="115.90" y="287.80" width="4.70" height="2.10" fill="#b0112e"/>
<text x="123.80" y="290.70" font-size="5.25" text-anchor="start" fill="#222" stroke="#222" stroke-width="0.18">AMG 701</text>
<rect x="148.60" y="287.80" width="4.50" height="2.10" fill="#22458c"/>
<text x="155.70" y="290.70" font-size="5.25" text-anchor="start" fill="#222" stroke="#222" stroke-width="0.18">ctrl</text>
<text x="0.00" y="0.00" font-size="8.4" text-anchor="middle" font-weight="bold" fill="#111" transform="translate(21.82,319.70) rotate(-90) scale(0.658,1)" stroke="#111" stroke-width="0.18">% Tcm in T subsets</text>
<line x1="40.30" y1="295.10" x2="40.30" y2="345.60" stroke="#000" stroke-width="1.1"/>
<line x1="39.75" y1="345.10" x2="100.50" y2="345.10" stroke="#000" stroke-width="1.1"/>
<line x1="37.30" y1="345.10" x2="40.30" y2="345.10" stroke="#000" stroke-width="0.9"/>
<text x="35.40" y="347.51" font-size="6.7" text-anchor="end" fill="#222" stroke="#222" stroke-width="0.18">0</text>
<line x1="37.30" y1="333.28" x2="40.30" y2="333.28" stroke="#000" stroke-width="0.9"/>
<text x="35.40" y="335.69" font-size="6.7" text-anchor="end" fill="#222" stroke="#222" stroke-width="0.18">5</text>
<line x1="37.30" y1="321.45" x2="40.30" y2="321.45" stroke="#000" stroke-width="0.9"/>
<text x="35.40" y="323.86" font-size="6.7" text-anchor="end" fill="#222" stroke="#222" stroke-width="0.18">10</text>
<line x1="37.30" y1="309.62" x2="40.30" y2="309.62" stroke="#000" stroke-width="0.9"/>
<text x="35.40" y="312.04" font-size="6.7" text-anchor="end" fill="#222" stroke="#222" stroke-width="0.18">15</text>
<line x1="37.30" y1="297.80" x2="40.30" y2="297.80" stroke="#000" stroke-width="0.9"/>
<text x="35.40" y="300.21" font-size="6.7" text-anchor="end" fill="#222" stroke="#222" stroke-width="0.18">20</text>
<line x1="47.50" y1="345.10" x2="47.50" y2="347.60" stroke="#000" stroke-width="0.9"/>
<text x="47.50" y="357.00" font-size="6.5" text-anchor="middle" fill="#222" stroke="#222" stroke-width="0.18">d0</text>
<line x1="62.10" y1="345.10" x2="62.10" y2="347.60" stroke="#000" stroke-width="0.9"/>
<text x="62.10" y="357.00" font-size="6.5" text-anchor="middle" fill="#222" stroke="#222" stroke-width="0.18">d1</text>
<line x1="77.30" y1="345.10" x2="77.30" y2="347.60" stroke="#000" stroke-width="0.9"/>
<text x="77.30" y="357.00" font-size="6.5" text-anchor="middle" fill="#222" stroke="#222" stroke-width="0.18">d4</text>
<line x1="92.80" y1="345.10" x2="92.80" y2="347.60" stroke="#000" stroke-width="0.9"/>
<text x="92.80" y="357.00" font-size="6.5" text-anchor="middle" fill="#222" stroke="#222" stroke-width="0.18">d7</text>
<line x1="47.05" y1="344.51" x2="51.55" y2="344.51" stroke="#000" stroke-width="1.3"/>
<line x1="59.40" y1="340.61" x2="59.40" y2="342.03" stroke="#666" stroke-width="0.75"/>
<rect x="57.40" y="340.68" width="4.00" height="1.40" fill="#b0112e"/>
<path d="M57.92 342.03L59.17 340.78L60.42 342.03L59.17 343.28Z" fill="#000"/>
<path d="M57.74 340.61L58.99 339.36L60.24 340.61L58.99 341.86Z" fill="#000"/>
<path d="M57.35 341.31L58.60 340.06L59.85 341.31L58.60 342.56Z" fill="#000"/>
<path d="M58.47 341.57L59.72 340.32L60.97 341.57L59.72 342.82Z" fill="#000"/>
<path d="M59.10 341.17L60.35 339.92L61.60 341.17L60.35 342.42Z" fill="#000"/>
<path d="M58.60 341.52L59.85 340.27L61.10 341.52L59.85 342.77Z" fill="#000"/>
<line x1="62.55" y1="344.63" x2="67.05" y2="344.63" stroke="#000" stroke-width="1.3"/>
<line x1="74.90" y1="304.19" x2="74.90" y2="338.71" stroke="#999" stroke-width="0.75"/>
<rect x="72.90" y="307.02" width="4.00" height="9.93" fill="#b0112e"/>
<path d="M73.04 338.71L74.29 337.46L75.54 338.71L74.29 339.96Z" fill="#000"/>
<path d="M74.48 304.19L75.73 302.94L76.98 304.19L75.73 305.44Z" fill="#000"/>
<path d="M74.52 315.24L75.77 313.99L77.02 315.24L75.77 316.49Z" fill="#000"/>
<path d="M73.06 314.59L74.31 313.34L75.56 314.59L74.31 315.84Z" fill="#000"/>
<path d="M72.97 308.04L74.22 306.79L75.47 308.04L74.22 309.29Z" fill="#000"/>
<path d="M73.60 311.91L74.85 310.66L76.10 311.91L74.85 313.16Z" fill="#000"/>
<line x1="81.30" y1="338.95" x2="81.30" y2="344.15" stroke="#666" stroke-width="0.75"/>
<rect x="79.30" y="339.90" width="4.00" height="2.84" fill="#22458c"/>
<path d="M79.55 344.15L80.80 342.90L82.05 344.15L80.80 345.40Z" fill="#000"/>
<path d="M80.67 338.95L81.92 337.70L83.17 338.95L81.92 340.20Z" fill="#000"/>
<path d="M80.72 341.90L81.97 340.65L83.22 341.90L81.97 343.15Z" fill="#000"/>
<path d="M79.74 341.63L80.99 340.38L82.24 341.63L80.99 342.88Z" fill="#000"/>
<path d="M79.64 340.61L80.89 339.36L82.14 340.61L80.89 341.86Z" fill="#000"/>
<path d="M80.36 342.16L81.61 340.91L82.86 342.16L81.61 343.41Z" fill="#000"/>
<path d="M80.90 340.95L82.15 339.70L83.40 340.95L82.15 342.20Z" fill="#000"/>
<path d="M80.79 340.97L82.04 339.72L83.29 340.97L82.04 342.22Z" fill="#000"/>
<line x1="90.40" y1="329.49" x2="90.40" y2="332.33" stroke="#666" stroke-width="0.75"/>
<rect x="88.40" y="329.49" width="4.00" height="2.84" fill="#b0112e"/>
<path d="M89.88 332.33L91.13 331.08L92.38 332.33L91.13 333.58Z" fill="#000"/>
<path d="M88.43 329.49L89.68 328.24L90.93 329.49L89.68 330.74Z" fill="#000"/>
<path d="M89.92 330.54L91.17 329.29L92.42 330.54L91.17 331.79Z" fill="#000"/>
<path d="M89.52 329.72L90.77 328.47L92.02 329.72L90.77 330.97Z" fill="#000"/>
<path d="M88.30 329.53L89.55 328.28L90.80 329.53L89.55 330.78Z" fill="#000"/>
<path d="M90.02 330.05L91.27 328.80L92.52 330.05L91.27 331.30Z" fill="#000"/>
<line x1="95.90" y1="332.57" x2="95.90" y2="343.21" stroke="#666" stroke-width="0.75"/>
<rect x="93.90" y="333.04" width="4.00" height="10.17" fill="#22458c"/>
<path d="M94.76 343.21L96.01 341.96L97.26 343.21L96.01 344.46Z" fill="#000"/>
<path d="M94.23 332.57L95.48 331.32L96.73 332.57L95.48 333.82Z" fill="#000"/>
<path d="M94.93 340.28L96.18 339.03L97.43 340.28L96.18 341.53Z" fill="#000"/>
<path d="M94.87 338.49L96.12 337.24L97.37 338.49L96.12 339.74Z" fill="#000"/>
<path d="M93.83 337.60L95.08 336.35L96.33 337.60L95.08 338.85Z" fill="#000"/>
<path d="M93.95 336.70L95.20 335.45L96.45 336.70L95.20 337.95Z" fill="#000"/>
<path d="M94.70 342.44L95.95 341.19L97.20 342.44L95.95 343.69Z" fill="#000"/>
<text x="62.70" y="340.10" font-size="5.3" text-anchor="middle" fill="#333" stroke="#333" stroke-width="0.18">****</text>
<text x="78.00" y="303.10" font-size="5.3" text-anchor="middle" fill="#333" stroke="#333" stroke-width="0.18">***</text>
<text x="93.20" y="328.70" font-size="5.3" text-anchor="middle" fill="#333" stroke="#333" stroke-width="0.18">**</text>
<line x1="107.80" y1="295.20" x2="107.80" y2="345.80" stroke="#000" stroke-width="1.1"/>
<line x1="107.25" y1="345.30" x2="169.50" y2="345.30" stroke="#000" stroke-width="1.1"/>
<line x1="104.80" y1="345.30" x2="107.80" y2="345.30" stroke="#000" stroke-width="0.9"/>
<line x1="104.80" y1="333.43" x2="107.80" y2="333.43" stroke="#000" stroke-width="0.9"/>
<line x1="104.80" y1="321.55" x2="107.80" y2="321.55" stroke="#000" stroke-width="0.9"/>
<line x1="104.80" y1="309.68" x2="107.80" y2="309.68" stroke="#000" stroke-width="0.9"/>
<line x1="104.80" y1="297.80" x2="107.80" y2="297.80" stroke="#000" stroke-width="0.9"/>
<line x1="116.50" y1="345.30" x2="116.50" y2="347.80" stroke="#000" stroke-width="0.9"/>
<text x="116.50" y="357.00" font-size="6.5" text-anchor="middle" fill="#222" stroke="#222" stroke-width="0.18">d0</text>
<line x1="131.50" y1="345.30" x2="131.50" y2="347.80" stroke="#000" stroke-width="0.9"/>
<text x="131.50" y="357.00" font-size="6.5" text-anchor="middle" fill="#222" stroke="#222" stroke-width="0.18">d1</text>
<line x1="146.60" y1="345.30" x2="146.60" y2="347.80" stroke="#000" stroke-width="0.9"/>
<text x="146.60" y="357.00" font-size="6.5" text-anchor="middle" fill="#222" stroke="#222" stroke-width="0.18">d4</text>
<line x1="161.70" y1="345.30" x2="161.70" y2="347.80" stroke="#000" stroke-width="0.9"/>
<text x="161.70" y="357.00" font-size="6.5" text-anchor="middle" fill="#222" stroke="#222" stroke-width="0.18">d7</text>
<line x1="116.15" y1="344.82" x2="120.65" y2="344.82" stroke="#000" stroke-width="1.3"/>
<line x1="128.70" y1="332.00" x2="128.70" y2="340.55" stroke="#666" stroke-width="0.75"/>
<rect x="126.70" y="332.48" width="4.00" height="7.36" fill="#b0112e"/>
<line x1="126.70" y1="336.75" x2="130.70" y2="336.75" stroke="#000" stroke-width="0.9"/>
<path d="M126.65 340.55L127.90 339.30L129.15 340.55L127.90 341.80Z" fill="#000"/>
<path d="M126.90 332.00L128.15 330.75L129.40 332.00L128.15 333.25Z" fill="#000"/>
<path d="M126.59 335.27L127.84 334.02L129.09 335.27L127.84 336.52Z" fill="#000"/>
<path d="M127.80 332.60L129.05 331.35L130.30 332.60L129.05 333.85Z" fill="#000"/>
<path d="M127.21 332.01L128.46 330.76L129.71 332.01L128.46 333.26Z" fill="#000"/>
<path d="M128.02 338.37L129.27 337.12L130.52 338.37L129.27 339.62Z" fill="#000"/>
<line x1="132.35" y1="344.82" x2="136.85" y2="344.82" stroke="#000" stroke-width="1.3"/>
<line x1="144.30" y1="300.18" x2="144.30" y2="321.55" stroke="#666" stroke-width="0.75"/>
<rect x="142.30" y="303.98" width="4.00" height="14.49" fill="#b0112e"/>
<line x1="142.30" y1="310.39" x2="146.30" y2="310.39" stroke="#000" stroke-width="0.9"/>
<path d="M143.23 321.55L144.48 320.30L145.73 321.55L144.48 322.80Z" fill="#000"/>
<path d="M143.91 300.18L145.16 298.93L146.41 300.18L145.16 301.43Z" fill="#000"/>
<path d="M143.42 309.85L144.67 308.60L145.92 309.85L144.67 311.10Z" fill="#000"/>
<path d="M142.77 314.20L144.02 312.95L145.27 314.20L144.02 315.45Z" fill="#000"/>
<path d="M142.83 313.04L144.08 311.79L145.33 313.04L144.08 314.29Z" fill="#000"/>
<path d="M143.29 306.90L144.54 305.65L145.79 306.90L144.54 308.15Z" fill="#000"/>
<line x1="149.50" y1="339.60" x2="149.50" y2="344.82" stroke="#666" stroke-width="0.75"/>
<rect x="147.50" y="341.74" width="4.00" height="2.38" fill="#22458c"/>
<path d="M147.55 344.82L148.80 343.57L150.05 344.82L148.80 346.07Z" fill="#000"/>
<path d="M147.81 339.60L149.06 338.35L150.31 339.60L149.06 340.85Z" fill="#000"/>
<path d="M148.75 342.92L150.00 341.67L151.25 342.92L150.00 344.17Z" fill="#000"/>
<path d="M147.40 342.42L148.65 341.17L149.90 342.42L148.65 343.67Z" fill="#000"/>
<path d="M147.98 342.28L149.23 341.03L150.48 342.28L149.23 343.53Z" fill="#000"/>
<path d="M148.11 343.63L149.36 342.38L150.61 343.63L149.36 344.88Z" fill="#000"/>
<line x1="159.20" y1="321.07" x2="159.20" y2="325.35" stroke="#666" stroke-width="0.75"/>
<rect x="157.20" y="321.55" width="4.00" height="3.80" fill="#b0112e"/>
<path d="M157.81 325.35L159.06 324.10L160.31 325.35L159.06 326.60Z" fill="#000"/>
<path d="M157.85 321.07L159.10 319.82L160.35 321.07L159.10 322.32Z" fill="#000"/>
<path d="M158.97 323.15L160.22 321.90L161.47 323.15L160.22 324.40Z" fill="#000"/>
<path d="M157.82 324.89L159.07 323.64L160.32 324.89L159.07 326.14Z" fill="#000"/>
<path d="M157.50 322.02L158.75 320.77L160.00 322.02L158.75 323.27Z" fill="#000"/>
<path d="M157.96 323.85L159.21 322.60L160.46 323.85L159.21 325.10Z" fill="#000"/>
<line x1="165.60" y1="335.09" x2="165.60" y2="345.06" stroke="#666" stroke-width="0.75"/>
<rect x="163.60" y="341.50" width="4.00" height="3.32" fill="#22458c"/>
<path d="M165.04 345.06L166.29 343.81L167.54 345.06L166.29 346.31Z" fill="#000"/>
<path d="M164.70 335.09L165.95 333.84L167.20 335.09L165.95 336.34Z" fill="#000"/>
<path d="M164.07 343.37L165.32 342.12L166.57 343.37L165.32 344.62Z" fill="#000"/>
<path d="M165.07 342.27L166.32 341.02L167.57 342.27L166.32 343.52Z" fill="#000"/>
<path d="M164.02 338.37L165.27 337.12L166.52 338.37L165.27 339.62Z" fill="#000"/>
<path d="M163.60 342.59L164.85 341.34L166.10 342.59L164.85 343.84Z" fill="#000"/>
<text x="131.50" y="331.40" font-size="5.3" text-anchor="middle" fill="#333" stroke="#333" stroke-width="0.18">***</text>
<text x="146.60" y="300.40" font-size="5.3" text-anchor="middle" fill="#333" stroke="#333" stroke-width="0.18">****</text>
<text x="162.10" y="319.80" font-size="5.3" text-anchor="middle" fill="#333" stroke="#333" stroke-width="0.18">****</text>
<text x="184.30" y="258.90" font-size="11" text-anchor="start" font-weight="bold" fill="#000" stroke="#000" stroke-width="0.18">F</text>
<text x="0.00" y="0.00" font-size="8.4" text-anchor="middle" font-weight="bold" fill="#111" transform="translate(199.12,318.20) rotate(-90) scale(0.658,1)" stroke="#111" stroke-width="0.18">% lysis of CD138+ cells</text>
<line x1="220.40" y1="291.50" x2="220.40" y2="345.70" stroke="#000" stroke-width="1.1"/>
<line x1="219.85" y1="345.20" x2="255.00" y2="345.20" stroke="#000" stroke-width="1.1"/>
<line x1="217.40" y1="345.20" x2="220.40" y2="345.20" stroke="#000" stroke-width="0.9"/>
<text x="215.50" y="347.61" font-size="6.7" text-anchor="end" fill="#222" stroke="#222" stroke-width="0.18">0</text>
<line x1="217.40" y1="335.06" x2="220.40" y2="335.06" stroke="#000" stroke-width="0.9"/>
<text x="215.50" y="337.47" font-size="6.7" text-anchor="end" fill="#222" stroke="#222" stroke-width="0.18">20</text>
<line x1="217.40" y1="324.92" x2="220.40" y2="324.92" stroke="#000" stroke-width="0.9"/>
<text x="215.50" y="327.33" font-size="6.7" text-anchor="end" fill="#222" stroke="#222" stroke-width="0.18">40</text>
<line x1="217.40" y1="314.78" x2="220.40" y2="314.78" stroke="#000" stroke-width="0.9"/>
<text x="215.50" y="317.19" font-size="6.7" text-anchor="end" fill="#222" stroke="#222" stroke-width="0.18">60</text>
<line x1="217.40" y1="304.64" x2="220.40" y2="304.64" stroke="#000" stroke-width="0.9"/>
<text x="215.50" y="307.05" font-size="6.7" text-anchor="end" fill="#222" stroke="#222" stroke-width="0.18">80</text>
<line x1="217.40" y1="294.50" x2="220.40" y2="294.50" stroke="#000" stroke-width="0.9"/>
<text x="215.50" y="296.91" font-size="6.7" text-anchor="end" fill="#222" stroke="#222" stroke-width="0.18">100</text>
<line x1="225.60" y1="345.20" x2="225.60" y2="347.70" stroke="#000" stroke-width="0.9"/>
<text x="225.60" y="357.00" font-size="6.5" text-anchor="middle" fill="#222" stroke="#222" stroke-width="0.18">1</text>
<line x1="233.70" y1="345.20" x2="233.70" y2="347.70" stroke="#000" stroke-width="0.9"/>
<text x="233.70" y="357.00" font-size="6.5" text-anchor="middle" fill="#222" stroke="#222" stroke-width="0.18">2</text>
<line x1="241.10" y1="345.20" x2="241.10" y2="347.70" stroke="#000" stroke-width="0.9"/>
<text x="241.10" y="357.00" font-size="6.5" text-anchor="middle" fill="#222" stroke="#222" stroke-width="0.18">3</text>
<line x1="248.80" y1="345.20" x2="248.80" y2="347.70" stroke="#000" stroke-width="0.9"/>
<text x="248.80" y="357.00" font-size="6.5" text-anchor="middle" fill="#222" stroke="#222" stroke-width="0.18">4</text>
<line x1="225.60" y1="319.85" x2="225.60" y2="308.70" stroke="#333" stroke-width="0.8"/>
<line x1="224.30" y1="308.70" x2="226.90" y2="308.70" stroke="#333" stroke-width="0.8"/>
<rect x="223.20" y="319.85" width="4.90" height="25.35" fill="#b0112e"/>
<line x1="233.70" y1="300.58" x2="233.70" y2="299.57" stroke="#333" stroke-width="0.8"/>
<line x1="232.40" y1="299.57" x2="235.00" y2="299.57" stroke="#333" stroke-width="0.8"/>
<rect x="231.30" y="300.58" width="4.90" height="44.62" fill="#22458c"/>
<line x1="239.60" y1="344.69" x2="242.60" y2="344.69" stroke="#333" stroke-width="0.9"/>
<text x="258.10" y="308.30" font-size="6.25" text-anchor="start" fill="#111" stroke="#111" stroke-width="0.18">1. T + H929 + AMG 701 -&gt; Isolated T (n=4) + H929low</text>
<text x="258.10" y="316.10" font-size="6.25" text-anchor="start" fill="#111" stroke="#111" stroke-width="0.18">2. T + H929 + AMG 701 (positive control)</text>
<text x="258.10" y="323.90" font-size="6.25" text-anchor="start" fill="#111" stroke="#111" stroke-width="0.18">3. T + H929 (negative control)</text>
<text x="258.10" y="331.70" font-size="6.25" text-anchor="start" fill="#111" stroke="#111" stroke-width="0.18">4. T + H929low + AMG 701</text>
<text x="265.40" y="16.90" font-size="11" text-anchor="start" font-weight="bold" fill="#000" stroke="#000" stroke-width="0.18">E</text>
<text x="344.30" y="27.00" font-size="8.2" text-anchor="start" fill="#111" stroke="#111" stroke-width="0.18">E:T = patient T:RPMI8226</text>
<text x="323.60" y="38.80" font-size="8.4" text-anchor="middle" fill="#111" stroke="#111" stroke-width="0.18">CD4</text>
<text x="391.40" y="38.80" font-size="8.4" text-anchor="middle" fill="#111" stroke="#111" stroke-width="0.18">CD8</text>
<rect x="300.00" y="45.50" width="4.70" height="2.10" fill="#b0112e"/>
<text x="307.90" y="48.40" font-size="5.25" text-anchor="start" fill="#222" stroke="#222" stroke-width="0.18">AMG 701</text>
<rect x="332.70" y="45.50" width="4.50" height="2.10" fill="#22458c"/>
<text x="339.80" y="48.40" font-size="5.25" text-anchor="start" fill="#222" stroke="#222" stroke-width="0.18">ctrl</text>
<rect x="368.00" y="45.50" width="4.70" height="2.10" fill="#b0112e"/>
<text x="375.90" y="48.40" font-size="5.25" text-anchor="start" fill="#222" stroke="#222" stroke-width="0.18">AMG 701</text>
<rect x="400.70" y="45.50" width="4.50" height="2.10" fill="#22458c"/>
<text x="407.80" y="48.40" font-size="5.25" text-anchor="start" fill="#222" stroke="#222" stroke-width="0.18">ctrl</text>
<rect x="460.60" y="45.50" width="4.70" height="2.10" fill="#b0112e"/>
<text x="468.50" y="48.40" font-size="5.25" text-anchor="start" fill="#222" stroke="#222" stroke-width="0.18">AMG 701</text>
<rect x="493.30" y="45.50" width="4.50" height="2.10" fill="#22458c"/>
<text x="500.40" y="48.40" font-size="5.25" text-anchor="start" fill="#222" stroke="#222" stroke-width="0.18">ctrl</text>
<text x="0.00" y="0.00" font-size="8.4" text-anchor="middle" font-weight="bold" fill="#111" transform="translate(272.42,76.40) rotate(-90) scale(0.659,1)" stroke="#111" stroke-width="0.18">% CM+EM in T subset</text>
<line x1="293.60" y1="52.80" x2="293.60" y2="99.90" stroke="#000" stroke-width="1.1"/>
<line x1="293.05" y1="99.40" x2="353.00" y2="99.40" stroke="#000" stroke-width="1.1"/>
<line x1="290.60" y1="99.40" x2="293.60" y2="99.40" stroke="#000" stroke-width="0.9"/>
<text x="288.70" y="101.81" font-size="6.7" text-anchor="end" fill="#222" stroke="#222" stroke-width="0.18">0</text>
<line x1="290.60" y1="89.62" x2="293.60" y2="89.62" stroke="#000" stroke-width="0.9"/>
<text x="288.70" y="92.04" font-size="6.7" text-anchor="end" fill="#222" stroke="#222" stroke-width="0.18">25</text>
<line x1="290.60" y1="79.85" x2="293.60" y2="79.85" stroke="#000" stroke-width="0.9"/>
<text x="288.70" y="82.26" font-size="6.7" text-anchor="end" fill="#222" stroke="#222" stroke-width="0.18">50</text>
<line x1="290.60" y1="70.08" x2="293.60" y2="70.08" stroke="#000" stroke-width="0.9"/>
<text x="288.70" y="72.49" font-size="6.7" text-anchor="end" fill="#222" stroke="#222" stroke-width="0.18">75</text>
<line x1="290.60" y1="60.30" x2="293.60" y2="60.30" stroke="#000" stroke-width="0.9"/>
<text x="288.70" y="62.71" font-size="6.7" text-anchor="end" fill="#222" stroke="#222" stroke-width="0.18">100</text>
<line x1="300.30" y1="99.40" x2="300.30" y2="101.90" stroke="#000" stroke-width="0.9"/>
<text x="300.30" y="111.00" font-size="6.5" text-anchor="middle" fill="#222" stroke="#222" stroke-width="0.18">d0</text>
<line x1="315.50" y1="99.40" x2="315.50" y2="101.90" stroke="#000" stroke-width="0.9"/>
<text x="315.50" y="111.00" font-size="6.5" text-anchor="middle" fill="#222" stroke="#222" stroke-width="0.18">d1</text>
<line x1="330.30" y1="99.40" x2="330.30" y2="101.90" stroke="#000" stroke-width="0.9"/>
<text x="330.30" y="111.00" font-size="6.5" text-anchor="middle" fill="#222" stroke="#222" stroke-width="0.18">d4</text>
<line x1="345.80" y1="99.40" x2="345.80" y2="101.90" stroke="#000" stroke-width="0.9"/>
<text x="345.80" y="111.00" font-size="6.5" text-anchor="middle" fill="#222" stroke="#222" stroke-width="0.18">d7</text>
<rect x="300.90" y="70.31" width="4.60" height="1.40" fill="#22458c"/>
<rect x="310.60" y="69.77" width="4.60" height="1.40" fill="#b0112e"/>
<rect x="316.30" y="69.77" width="4.60" height="1.40" fill="#22458c"/>
<path d="M317.38 70.47L318.48 69.37L319.58 70.47L318.48 71.57Z" fill="#000"/>
<path d="M318.13 70.47L319.23 69.37L320.33 70.47L319.23 71.57Z" fill="#000"/>
<path d="M317.75 70.51L318.85 69.41L319.95 70.51L318.85 71.61Z" fill="#000"/>
<path d="M318.47 70.47L319.57 69.37L320.67 70.47L319.57 71.57Z" fill="#000"/>
<path d="M316.99 70.47L318.09 69.37L319.19 70.47L318.09 71.57Z" fill="#000"/>
<line x1="327.90" y1="66.56" x2="327.90" y2="68.12" stroke="#666" stroke-width="0.75"/>
<rect x="325.60" y="66.56" width="4.60" height="1.56" fill="#b0112e"/>
<path d="M327.13 68.12L328.33 66.92L329.53 68.12L328.33 69.32Z" fill="#000"/>
<path d="M325.88 66.56L327.08 65.36L328.28 66.56L327.08 67.76Z" fill="#000"/>
<path d="M327.69 67.35L328.89 66.15L330.09 67.35L328.89 68.55Z" fill="#000"/>
<path d="M326.54 66.60L327.74 65.40L328.94 66.60L327.74 67.80Z" fill="#000"/>
<path d="M326.90 66.88L328.10 65.68L329.30 66.88L328.10 68.08Z" fill="#000"/>
<rect x="331.30" y="70.00" width="4.60" height="1.40" fill="#22458c"/>
<path d="M331.66 70.70L332.86 69.50L334.06 70.70L332.86 71.90Z" fill="#000"/>
<path d="M332.18 70.70L333.38 69.50L334.58 70.70L333.38 71.90Z" fill="#000"/>
<path d="M331.59 70.48L332.79 69.28L333.99 70.48L332.79 71.68Z" fill="#000"/>
<rect x="340.90" y="63.59" width="4.60" height="1.40" fill="#b0112e"/>
<rect x="346.40" y="72.19" width="4.60" height="1.40" fill="#22458c"/>
<path d="M346.87 72.89L347.87 71.89L348.87 72.89L347.87 73.89Z" fill="#000"/>
<path d="M346.81 72.89L347.81 71.89L348.81 72.89L347.81 73.89Z" fill="#000"/>
<path d="M348.59 72.89L349.59 71.89L350.59 72.89L349.59 73.89Z" fill="#000"/>
<text x="330.80" y="64.80" font-size="5.3" text-anchor="middle" fill="#333" stroke="#333" stroke-width="0.18">****</text>
<text x="345.80" y="61.60" font-size="5.3" text-anchor="middle" fill="#333" stroke="#333" stroke-width="0.18">****</text>
<line x1="362.00" y1="53.00" x2="362.00" y2="100.10" stroke="#000" stroke-width="1.1"/>
<line x1="361.45" y1="99.60" x2="420.90" y2="99.60" stroke="#000" stroke-width="1.1"/>
<line x1="359.00" y1="99.60" x2="362.00" y2="99.60" stroke="#000" stroke-width="0.9"/>
<line x1="359.00" y1="89.80" x2="362.00" y2="89.80" stroke="#000" stroke-width="0.9"/>
<line x1="359.00" y1="80.00" x2="362.00" y2="80.00" stroke="#000" stroke-width="0.9"/>
<line x1="359.00" y1="70.20" x2="362.00" y2="70.20" stroke="#000" stroke-width="0.9"/>
<line x1="359.00" y1="60.40" x2="362.00" y2="60.40" stroke="#000" stroke-width="0.9"/>
<line x1="368.40" y1="99.60" x2="368.40" y2="102.10" stroke="#000" stroke-width="0.9"/>
<text x="368.40" y="111.00" font-size="6.5" text-anchor="middle" fill="#222" stroke="#222" stroke-width="0.18">d0</text>
<line x1="383.50" y1="99.60" x2="383.50" y2="102.10" stroke="#000" stroke-width="0.9"/>
<text x="383.50" y="111.00" font-size="6.5" text-anchor="middle" fill="#222" stroke="#222" stroke-width="0.18">d1</text>
<line x1="398.80" y1="99.60" x2="398.80" y2="102.10" stroke="#000" stroke-width="0.9"/>
<text x="398.80" y="111.00" font-size="6.5" text-anchor="middle" fill="#222" stroke="#222" stroke-width="0.18">d4</text>
<line x1="413.50" y1="99.60" x2="413.50" y2="102.10" stroke="#000" stroke-width="0.9"/>
<text x="413.50" y="111.00" font-size="6.5" text-anchor="middle" fill="#222" stroke="#222" stroke-width="0.18">d7</text>
<rect x="368.90" y="85.10" width="4.60" height="1.40" fill="#22458c"/>
<rect x="379.00" y="84.51" width="4.60" height="1.40" fill="#b0112e"/>
<line x1="386.80" y1="82.51" x2="386.80" y2="86.27" stroke="#666" stroke-width="0.75"/>
<rect x="384.50" y="84.90" width="4.60" height="1.76" fill="#22458c"/>
<path d="M386.28 86.27L387.38 85.17L388.48 86.27L387.38 87.37Z" fill="#000"/>
<path d="M385.62 82.51L386.72 81.41L387.82 82.51L386.72 83.61Z" fill="#000"/>
<path d="M386.48 86.36L387.58 85.26L388.68 86.36L387.58 87.46Z" fill="#000"/>
<path d="M385.08 85.66L386.18 84.56L387.28 85.66L386.18 86.76Z" fill="#000"/>
<path d="M385.95 83.09L387.05 81.99L388.15 83.09L387.05 84.19Z" fill="#000"/>
<line x1="396.00" y1="78.43" x2="396.00" y2="83.61" stroke="#666" stroke-width="0.75"/>
<rect x="393.70" y="78.43" width="4.60" height="5.17" fill="#b0112e"/>
<path d="M395.21 83.61L396.41 82.41L397.61 83.61L396.41 84.81Z" fill="#000"/>
<path d="M395.54 78.43L396.74 77.23L397.94 78.43L396.74 79.63Z" fill="#000"/>
<path d="M394.97 80.68L396.17 79.48L397.37 80.68L396.17 81.88Z" fill="#000"/>
<path d="M394.73 80.56L395.93 79.36L397.13 80.56L395.93 81.76Z" fill="#000"/>
<path d="M395.61 78.60L396.81 77.40L398.01 78.60L396.81 79.80Z" fill="#000"/>
<line x1="402.10" y1="79.29" x2="402.10" y2="87.21" stroke="#666" stroke-width="0.75"/>
<rect x="399.80" y="85.49" width="4.60" height="1.57" fill="#22458c"/>
<path d="M400.20 87.21L401.40 86.01L402.60 87.21L401.40 88.41Z" fill="#000"/>
<path d="M400.64 79.29L401.84 78.09L403.04 79.29L401.84 80.49Z" fill="#000"/>
<path d="M400.31 83.30L401.51 82.10L402.71 83.30L401.51 84.50Z" fill="#000"/>
<path d="M400.22 84.42L401.42 83.22L402.62 84.42L401.42 85.62Z" fill="#000"/>
<line x1="411.30" y1="72.16" x2="411.30" y2="74.12" stroke="#666" stroke-width="0.75"/>
<rect x="409.00" y="72.16" width="4.60" height="1.96" fill="#b0112e"/>
<path d="M409.23 74.12L410.43 72.92L411.63 74.12L410.43 75.32Z" fill="#000"/>
<path d="M410.10 72.16L411.30 70.96L412.50 72.16L411.30 73.36Z" fill="#000"/>
<path d="M410.91 73.88L412.11 72.68L413.31 73.88L412.11 75.08Z" fill="#000"/>
<path d="M409.97 73.28L411.17 72.08L412.37 73.28L411.17 74.48Z" fill="#000"/>
<line x1="417.20" y1="79.69" x2="417.20" y2="92.19" stroke="#666" stroke-width="0.75"/>
<rect x="414.90" y="89.02" width="4.60" height="3.14" fill="#22458c"/>
<path d="M416.78 92.19L417.98 90.99L419.18 92.19L417.98 93.39Z" fill="#000"/>
<path d="M415.33 79.69L416.53 78.49L417.73 79.69L416.53 80.89Z" fill="#000"/>
<path d="M415.99 85.77L417.19 84.57L418.39 85.77L417.19 86.97Z" fill="#000"/>
<path d="M415.35 85.45L416.55 84.25L417.75 85.45L416.55 86.65Z" fill="#000"/>
<text x="398.80" y="77.00" font-size="5.3" text-anchor="middle" fill="#333" stroke="#333" stroke-width="0.18">***</text>
<text x="414.50" y="69.60" font-size="5.3" text-anchor="middle" fill="#333" stroke="#333" stroke-width="0.18">****</text>
<text x="0.00" y="0.00" font-size="8.4" text-anchor="middle" font-weight="bold" fill="#111" transform="translate(435.82,76.30) rotate(-90) scale(0.697,1)" stroke="#111" stroke-width="0.18">CD8/ CD4 ratio</text>
<line x1="453.10" y1="50.00" x2="453.10" y2="99.90" stroke="#000" stroke-width="1.1"/>
<line x1="452.55" y1="99.40" x2="512.70" y2="99.40" stroke="#000" stroke-width="1.1"/>
<line x1="450.10" y1="99.40" x2="453.10" y2="99.40" stroke="#000" stroke-width="0.9"/>
<text x="448.20" y="101.81" font-size="6.7" text-anchor="end" fill="#222" stroke="#222" stroke-width="0.18">0.0</text>
<line x1="450.10" y1="90.04" x2="453.10" y2="90.04" stroke="#000" stroke-width="0.9"/>
<text x="448.20" y="92.45" font-size="6.7" text-anchor="end" fill="#222" stroke="#222" stroke-width="0.18">0.5</text>
<line x1="450.10" y1="80.68" x2="453.10" y2="80.68" stroke="#000" stroke-width="0.9"/>
<text x="448.20" y="83.09" font-size="6.7" text-anchor="end" fill="#222" stroke="#222" stroke-width="0.18">1.0</text>
<line x1="450.10" y1="71.32" x2="453.10" y2="71.32" stroke="#000" stroke-width="0.9"/>
<text x="448.20" y="73.73" font-size="6.7" text-anchor="end" fill="#222" stroke="#222" stroke-width="0.18">1.5</text>
<line x1="450.10" y1="61.96" x2="453.10" y2="61.96" stroke="#000" stroke-width="0.9"/>
<text x="448.20" y="64.37" font-size="6.7" text-anchor="end" fill="#222" stroke="#222" stroke-width="0.18">2.0</text>
<line x1="450.10" y1="52.60" x2="453.10" y2="52.60" stroke="#000" stroke-width="0.9"/>
<text x="448.20" y="55.01" font-size="6.7" text-anchor="end" fill="#222" stroke="#222" stroke-width="0.18">2.5</text>
<line x1="460.60" y1="99.40" x2="460.60" y2="101.90" stroke="#000" stroke-width="0.9"/>
<text x="460.60" y="111.00" font-size="6.5" text-anchor="middle" fill="#222" stroke="#222" stroke-width="0.18">d0</text>
<line x1="475.70" y1="99.40" x2="475.70" y2="101.90" stroke="#000" stroke-width="0.9"/>
<text x="475.70" y="111.00" font-size="6.5" text-anchor="middle" fill="#222" stroke="#222" stroke-width="0.18">d1</text>
<line x1="491.00" y1="99.40" x2="491.00" y2="101.90" stroke="#000" stroke-width="0.9"/>
<text x="491.00" y="111.00" font-size="6.5" text-anchor="middle" fill="#222" stroke="#222" stroke-width="0.18">d4</text>
<line x1="505.70" y1="99.40" x2="505.70" y2="101.90" stroke="#000" stroke-width="0.9"/>
<text x="505.70" y="111.00" font-size="6.5" text-anchor="middle" fill="#222" stroke="#222" stroke-width="0.18">d7</text>
<rect x="461.20" y="91.59" width="4.60" height="1.40" fill="#22458c"/>
<rect x="470.40" y="91.77" width="4.60" height="1.40" fill="#b0112e"/>
<rect x="476.50" y="92.34" width="4.60" height="1.40" fill="#22458c"/>
<line x1="487.80" y1="86.30" x2="487.80" y2="91.16" stroke="#666" stroke-width="0.75"/>
<rect x="485.50" y="86.30" width="4.60" height="4.87" fill="#b0112e"/>
<line x1="485.50" y1="89.10" x2="490.10" y2="89.10" stroke="#000" stroke-width="0.9"/>
<path d="M486.64 91.16L487.74 90.06L488.84 91.16L487.74 92.26Z" fill="#000"/>
<path d="M486.99 86.30L488.09 85.20L489.19 86.30L488.09 87.40Z" fill="#000"/>
<path d="M486.19 90.22L487.29 89.12L488.39 90.22L487.29 91.32Z" fill="#000"/>
<path d="M486.20 86.67L487.30 85.57L488.40 86.67L487.30 87.77Z" fill="#000"/>
<rect x="491.30" y="91.96" width="4.60" height="1.40" fill="#22458c"/>
<line x1="503.10" y1="63.08" x2="503.10" y2="84.24" stroke="#666" stroke-width="0.75"/>
<rect x="500.80" y="65.70" width="4.60" height="18.53" fill="#b0112e"/>
<line x1="500.80" y1="75.06" x2="505.40" y2="75.06" stroke="#000" stroke-width="0.9"/>
<path d="M502.19 84.24L503.29 83.14L504.39 84.24L503.29 85.34Z" fill="#000"/>
<path d="M501.79 63.08L502.89 61.98L503.99 63.08L502.89 64.18Z" fill="#000"/>
<path d="M502.21 72.82L503.31 71.72L504.41 72.82L503.31 73.92Z" fill="#000"/>
<path d="M502.12 71.03L503.22 69.93L504.32 71.03L503.22 72.13Z" fill="#000"/>
<rect x="506.90" y="89.10" width="4.60" height="1.50" fill="#22458c"/>
<path d="M508.49 90.04L509.59 88.94L510.69 90.04L509.59 91.14Z" fill="#000"/>
<path d="M508.52 90.04L509.62 88.94L510.72 90.04L509.62 91.14Z" fill="#000"/>
<path d="M507.59 90.04L508.69 88.94L509.79 90.04L508.69 91.14Z" fill="#000"/>
<text x="491.00" y="85.60" font-size="5.3" text-anchor="middle" fill="#333" stroke="#333" stroke-width="0.18">****</text>
<text x="505.70" y="62.10" font-size="5.3" text-anchor="middle" fill="#333" stroke="#333" stroke-width="0.18">**</text>
<text x="365.20" y="156.90" font-size="8.4" text-anchor="middle" fill="#111" stroke="#111" stroke-width="0.18">CD4</text>
<text x="437.90" y="156.80" font-size="8.4" text-anchor="middle" fill="#111" stroke="#111" stroke-width="0.18">CD8</text>
<rect x="342.00" y="163.50" width="4.70" height="2.10" fill="#b0112e"/>
<text x="349.90" y="166.40" font-size="5.25" text-anchor="start" fill="#222" stroke="#222" stroke-width="0.18">AMG 701</text>
<rect x="374.70" y="163.50" width="4.50" height="2.10" fill="#22458c"/>
<text x="381.80" y="166.40" font-size="5.25" text-anchor="start" fill="#222" stroke="#222" stroke-width="0.18">ctrl</text>
<rect x="413.90" y="163.50" width="4.70" height="2.10" fill="#b0112e"/>
<text x="421.80" y="166.40" font-size="5.25" text-anchor="start" fill="#222" stroke="#222" stroke-width="0.18">AMG 701</text>
<rect x="446.60" y="163.50" width="4.50" height="2.10" fill="#22458c"/>
<text x="453.70" y="166.40" font-size="5.25" text-anchor="start" fill="#222" stroke="#222" stroke-width="0.18">ctrl</text>
<text x="0.00" y="0.00" font-size="8.4" text-anchor="middle" font-weight="bold" fill="#111" transform="translate(317.72,195.70) rotate(-90) scale(0.675,1)" stroke="#111" stroke-width="0.18">% Tcm in T subsets</text>
<line x1="335.30" y1="170.90" x2="335.30" y2="221.50" stroke="#000" stroke-width="1.1"/>
<line x1="334.75" y1="221.00" x2="396.60" y2="221.00" stroke="#000" stroke-width="1.1"/>
<line x1="332.30" y1="221.00" x2="335.30" y2="221.00" stroke="#000" stroke-width="0.9"/>
<text x="330.40" y="223.41" font-size="6.7" text-anchor="end" fill="#222" stroke="#222" stroke-width="0.18">0</text>
<line x1="332.30" y1="205.23" x2="335.30" y2="205.23" stroke="#000" stroke-width="0.9"/>
<text x="330.40" y="207.65" font-size="6.7" text-anchor="end" fill="#222" stroke="#222" stroke-width="0.18">5</text>
<line x1="332.30" y1="189.47" x2="335.30" y2="189.47" stroke="#000" stroke-width="0.9"/>
<text x="330.40" y="191.88" font-size="6.7" text-anchor="end" fill="#222" stroke="#222" stroke-width="0.18">10</text>
<line x1="332.30" y1="173.70" x2="335.30" y2="173.70" stroke="#000" stroke-width="0.9"/>
<text x="330.40" y="176.11" font-size="6.7" text-anchor="end" fill="#222" stroke="#222" stroke-width="0.18">15</text>
<line x1="343.80" y1="221.00" x2="343.80" y2="223.50" stroke="#000" stroke-width="0.9"/>
<text x="343.80" y="232.70" font-size="6.5" text-anchor="middle" fill="#222" stroke="#222" stroke-width="0.18">d0</text>
<line x1="357.70" y1="221.00" x2="357.70" y2="223.50" stroke="#000" stroke-width="0.9"/>
<text x="357.70" y="232.70" font-size="6.5" text-anchor="middle" fill="#222" stroke="#222" stroke-width="0.18">d1</text>
<line x1="372.40" y1="221.00" x2="372.40" y2="223.50" stroke="#000" stroke-width="0.9"/>
<text x="372.40" y="232.70" font-size="6.5" text-anchor="middle" fill="#222" stroke="#222" stroke-width="0.18">d4</text>
<line x1="388.00" y1="221.00" x2="388.00" y2="223.50" stroke="#000" stroke-width="0.9"/>
<text x="388.00" y="232.70" font-size="6.5" text-anchor="middle" fill="#222" stroke="#222" stroke-width="0.18">d7</text>
<line x1="341.95" y1="220.37" x2="346.45" y2="220.37" stroke="#000" stroke-width="1.3"/>
<line x1="354.90" y1="217.53" x2="354.90" y2="218.16" stroke="#666" stroke-width="0.75"/>
<rect x="352.90" y="217.15" width="4.00" height="1.40" fill="#b0112e"/>
<path d="M353.40 218.16L354.65 216.91L355.90 218.16L354.65 219.41Z" fill="#000"/>
<path d="M353.93 217.53L355.18 216.28L356.43 217.53L355.18 218.78Z" fill="#000"/>
<path d="M352.86 218.03L354.11 216.78L355.36 218.03L354.11 219.28Z" fill="#000"/>
<path d="M352.91 217.85L354.16 216.60L355.41 217.85L354.16 219.10Z" fill="#000"/>
<line x1="358.15" y1="220.37" x2="362.65" y2="220.37" stroke="#000" stroke-width="1.3"/>
<line x1="370.00" y1="176.54" x2="370.00" y2="192.62" stroke="#666" stroke-width="0.75"/>
<rect x="368.00" y="181.90" width="4.00" height="6.94" fill="#b0112e"/>
<line x1="368.00" y1="185.37" x2="372.00" y2="185.37" stroke="#000" stroke-width="0.9"/>
<path d="M369.58 192.62L370.83 191.37L372.08 192.62L370.83 193.87Z" fill="#000"/>
<path d="M369.16 176.54L370.41 175.29L371.66 176.54L370.41 177.79Z" fill="#000"/>
<path d="M368.69 184.22L369.94 182.97L371.19 184.22L369.94 185.47Z" fill="#000"/>
<path d="M368.48 181.37L369.73 180.12L370.98 181.37L369.73 182.62Z" fill="#000"/>
<path d="M368.26 180.53L369.51 179.28L370.76 180.53L369.51 181.78Z" fill="#000"/>
<path d="M368.94 187.30L370.19 186.05L371.44 187.30L370.19 188.55Z" fill="#000"/>
<path d="M369.51 186.13L370.76 184.88L372.01 186.13L370.76 187.38Z" fill="#000"/>
<line x1="375.90" y1="205.55" x2="375.90" y2="221.00" stroke="#666" stroke-width="0.75"/>
<rect x="373.90" y="210.91" width="4.00" height="8.20" fill="#22458c"/>
<path d="M374.64 221.00L375.89 219.75L377.14 221.00L375.89 222.25Z" fill="#000"/>
<path d="M374.26 205.55L375.51 204.30L376.76 205.55L375.51 206.80Z" fill="#000"/>
<path d="M374.53 211.99L375.78 210.74L377.03 211.99L375.78 213.24Z" fill="#000"/>
<path d="M374.46 220.72L375.71 219.47L376.96 220.72L375.71 221.97Z" fill="#000"/>
<path d="M374.59 217.15L375.84 215.90L377.09 217.15L375.84 218.40Z" fill="#000"/>
<path d="M375.46 207.81L376.71 206.56L377.96 207.81L376.71 209.06Z" fill="#000"/>
<path d="M375.07 214.20L376.32 212.95L377.57 214.20L376.32 215.45Z" fill="#000"/>
<line x1="385.40" y1="197.03" x2="385.40" y2="209.65" stroke="#666" stroke-width="0.75"/>
<rect x="383.40" y="197.35" width="4.00" height="11.04" fill="#b0112e"/>
<line x1="383.40" y1="203.03" x2="387.40" y2="203.03" stroke="#000" stroke-width="0.9"/>
<path d="M384.76 209.65L386.01 208.40L387.26 209.65L386.01 210.90Z" fill="#000"/>
<path d="M384.87 197.03L386.12 195.78L387.37 197.03L386.12 198.28Z" fill="#000"/>
<path d="M383.86 207.31L385.11 206.06L386.36 207.31L385.11 208.56Z" fill="#000"/>
<path d="M383.44 206.58L384.69 205.33L385.94 206.58L384.69 207.83Z" fill="#000"/>
<path d="M385.01 207.71L386.26 206.46L387.51 207.71L386.26 208.96Z" fill="#000"/>
<path d="M384.86 201.14L386.11 199.89L387.36 201.14L386.11 202.39Z" fill="#000"/>
<path d="M384.08 207.68L385.33 206.43L386.58 207.68L385.33 208.93Z" fill="#000"/>
<line x1="391.40" y1="214.69" x2="391.40" y2="219.11" stroke="#666" stroke-width="0.75"/>
<rect x="389.40" y="217.62" width="4.00" height="1.40" fill="#22458c"/>
<path d="M391.33 219.11L392.58 217.86L393.83 219.11L392.58 220.36Z" fill="#000"/>
<path d="M390.58 214.69L391.83 213.44L393.08 214.69L391.83 215.94Z" fill="#000"/>
<path d="M390.49 218.24L391.74 216.99L392.99 218.24L391.74 219.49Z" fill="#000"/>
<path d="M390.60 218.69L391.85 217.44L393.10 218.69L391.85 219.94Z" fill="#000"/>
<path d="M390.11 215.32L391.36 214.07L392.61 215.32L391.36 216.57Z" fill="#000"/>
<text x="358.00" y="217.20" font-size="5.3" text-anchor="middle" fill="#333" stroke="#333" stroke-width="0.18">****</text>
<text x="373.30" y="176.70" font-size="5.3" text-anchor="middle" fill="#333" stroke="#333" stroke-width="0.18">****</text>
<text x="388.50" y="196.70" font-size="5.3" text-anchor="middle" fill="#333" stroke="#333" stroke-width="0.18">***</text>
<line x1="407.80" y1="171.10" x2="407.80" y2="221.90" stroke="#000" stroke-width="1.1"/>
<line x1="407.25" y1="221.40" x2="467.50" y2="221.40" stroke="#000" stroke-width="1.1"/>
<line x1="404.80" y1="221.40" x2="407.80" y2="221.40" stroke="#000" stroke-width="0.9"/>
<line x1="404.80" y1="209.38" x2="407.80" y2="209.38" stroke="#000" stroke-width="0.9"/>
<line x1="404.80" y1="197.35" x2="407.80" y2="197.35" stroke="#000" stroke-width="0.9"/>
<line x1="404.80" y1="185.33" x2="407.80" y2="185.33" stroke="#000" stroke-width="0.9"/>
<line x1="404.80" y1="173.30" x2="407.80" y2="173.30" stroke="#000" stroke-width="0.9"/>
<line x1="414.70" y1="221.40" x2="414.70" y2="223.90" stroke="#000" stroke-width="0.9"/>
<text x="414.70" y="232.20" font-size="6.5" text-anchor="middle" fill="#222" stroke="#222" stroke-width="0.18">d0</text>
<line x1="429.70" y1="221.40" x2="429.70" y2="223.90" stroke="#000" stroke-width="0.9"/>
<text x="429.70" y="232.20" font-size="6.5" text-anchor="middle" fill="#222" stroke="#222" stroke-width="0.18">d1</text>
<line x1="444.60" y1="221.40" x2="444.60" y2="223.90" stroke="#000" stroke-width="0.9"/>
<text x="444.60" y="232.20" font-size="6.5" text-anchor="middle" fill="#222" stroke="#222" stroke-width="0.18">d4</text>
<line x1="460.30" y1="221.40" x2="460.30" y2="223.90" stroke="#000" stroke-width="0.9"/>
<text x="460.30" y="232.20" font-size="6.5" text-anchor="middle" fill="#222" stroke="#222" stroke-width="0.18">d7</text>
<line x1="415.15" y1="220.92" x2="419.65" y2="220.92" stroke="#000" stroke-width="1.3"/>
<line x1="426.60" y1="215.39" x2="426.60" y2="219.00" stroke="#666" stroke-width="0.75"/>
<rect x="424.60" y="215.63" width="4.00" height="3.13" fill="#b0112e"/>
<path d="M426.14 219.00L427.39 217.75L428.64 219.00L427.39 220.25Z" fill="#000"/>
<path d="M424.96 215.39L426.21 214.14L427.46 215.39L426.21 216.64Z" fill="#000"/>
<path d="M425.98 216.93L427.23 215.68L428.48 216.93L427.23 218.18Z" fill="#000"/>
<path d="M425.21 215.89L426.46 214.64L427.71 215.89L426.46 217.14Z" fill="#000"/>
<path d="M425.67 217.11L426.92 215.86L428.17 217.11L426.92 218.36Z" fill="#000"/>
<line x1="430.45" y1="220.92" x2="434.95" y2="220.92" stroke="#000" stroke-width="1.3"/>
<line x1="442.30" y1="184.84" x2="442.30" y2="195.43" stroke="#666" stroke-width="0.75"/>
<rect x="440.30" y="188.93" width="4.00" height="5.77" fill="#b0112e"/>
<path d="M441.47 195.43L442.72 194.18L443.97 195.43L442.72 196.68Z" fill="#000"/>
<path d="M441.22 184.84L442.47 183.59L443.72 184.84L442.47 186.09Z" fill="#000"/>
<path d="M440.34 191.26L441.59 190.01L442.84 191.26L441.59 192.51Z" fill="#000"/>
<path d="M440.96 189.34L442.21 188.09L443.46 189.34L442.21 190.59Z" fill="#000"/>
<path d="M441.90 187.37L443.15 186.12L444.40 187.37L443.15 188.62Z" fill="#000"/>
<path d="M441.15 189.88L442.40 188.63L443.65 189.88L442.40 191.13Z" fill="#000"/>
<line x1="448.50" y1="213.22" x2="448.50" y2="220.92" stroke="#666" stroke-width="0.75"/>
<rect x="446.50" y="215.63" width="4.00" height="5.05" fill="#22458c"/>
<path d="M447.88 220.92L449.13 219.67L450.38 220.92L449.13 222.17Z" fill="#000"/>
<path d="M446.64 213.22L447.89 211.97L449.14 213.22L447.89 214.47Z" fill="#000"/>
<path d="M446.96 220.24L448.21 218.99L449.46 220.24L448.21 221.49Z" fill="#000"/>
<path d="M446.95 220.13L448.20 218.88L449.45 220.13L448.20 221.38Z" fill="#000"/>
<path d="M446.79 220.63L448.04 219.38L449.29 220.63L448.04 221.88Z" fill="#000"/>
<path d="M446.35 219.00L447.60 217.75L448.85 219.00L447.60 220.25Z" fill="#000"/>
<line x1="457.90" y1="197.59" x2="457.90" y2="203.36" stroke="#666" stroke-width="0.75"/>
<rect x="455.90" y="199.75" width="4.00" height="3.13" fill="#b0112e"/>
<path d="M455.81 203.36L457.06 202.11L458.31 203.36L457.06 204.61Z" fill="#000"/>
<path d="M456.05 197.59L457.30 196.34L458.55 197.59L457.30 198.84Z" fill="#000"/>
<path d="M457.49 200.20L458.74 198.95L459.99 200.20L458.74 201.45Z" fill="#000"/>
<path d="M457.22 199.86L458.47 198.61L459.72 199.86L458.47 201.11Z" fill="#000"/>
<path d="M455.79 200.42L457.04 199.17L458.29 200.42L457.04 201.67Z" fill="#000"/>
<line x1="461.15" y1="220.20" x2="465.65" y2="220.20" stroke="#000" stroke-width="1.3"/>
<text x="429.70" y="214.60" font-size="5.3" text-anchor="middle" fill="#333" stroke="#333" stroke-width="0.18">***</text>
<text x="445.40" y="185.60" font-size="5.3" text-anchor="middle" fill="#333" stroke="#333" stroke-width="0.18">****</text>
<text x="460.30" y="197.40" font-size="5.3" text-anchor="middle" fill="#333" stroke="#333" stroke-width="0.18">****</text>
<text x="7.30" y="382.70" font-size="11" text-anchor="start" font-weight="bold" fill="#000" stroke="#000" stroke-width="0.18">D</text>
<text x="165.20" y="393.00" font-size="8.2" text-anchor="start" fill="#111" stroke="#111" stroke-width="0.18">E:T = patient T:H929</text>
<text x="99.50" y="410.30" font-size="8.15" text-anchor="start" fill="#111" stroke="#111" stroke-width="0.18">CD8 at d7</text>
<text x="66.10" y="422.00" font-size="8.3" text-anchor="middle" fill="#111" stroke="#111" stroke-width="0.18">AMG 701</text>
<text x="158.30" y="422.10" font-size="8.1" text-anchor="middle" fill="#111" stroke="#111" stroke-width="0.18">ctrl</text>
<line x1="24.70" y1="427.30" x2="107.90" y2="427.30" stroke="#000" stroke-width="1.2"/>
<line x1="122.30" y1="427.20" x2="205.80" y2="427.20" stroke="#000" stroke-width="1.2"/>
<text x="0.00" y="0.00" font-size="8.4" text-anchor="middle" font-weight="bold" fill="#111" transform="translate(243.82,443.20) rotate(-90) scale(0.663,1)" stroke="#111" stroke-width="0.18">% Tcm in T subsets</text>
<text x="291.50" y="405.20" font-size="8.4" text-anchor="middle" fill="#111" stroke="#111" stroke-width="0.18">CD4</text>
<text x="360.50" y="405.20" font-size="8.4" text-anchor="middle" fill="#111" stroke="#111" stroke-width="0.18">CD8</text>
<rect x="268.10" y="411.70" width="4.70" height="2.10" fill="#b0112e"/>
<text x="276.00" y="414.60" font-size="5.25" text-anchor="start" fill="#222" stroke="#222" stroke-width="0.18">AMG 701</text>
<rect x="300.80" y="411.70" width="4.50" height="2.10" fill="#22458c"/>
<text x="307.90" y="414.60" font-size="5.25" text-anchor="start" fill="#222" stroke="#222" stroke-width="0.18">ctrl</text>
<rect x="337.20" y="411.70" width="4.70" height="2.10" fill="#b0112e"/>
<text x="345.10" y="414.60" font-size="5.25" text-anchor="start" fill="#222" stroke="#222" stroke-width="0.18">AMG 701</text>
<rect x="369.90" y="411.70" width="4.50" height="2.10" fill="#22458c"/>
<text x="377.00" y="414.60" font-size="5.25" text-anchor="start" fill="#222" stroke="#222" stroke-width="0.18">ctrl</text>
<line x1="261.40" y1="419.00" x2="261.40" y2="469.90" stroke="#000" stroke-width="1.1"/>
<line x1="260.85" y1="469.40" x2="321.80" y2="469.40" stroke="#000" stroke-width="1.1"/>
<line x1="258.40" y1="469.40" x2="261.40" y2="469.40" stroke="#000" stroke-width="0.9"/>
<text x="256.50" y="471.81" font-size="6.7" text-anchor="end" fill="#222" stroke="#222" stroke-width="0.18">0</text>
<line x1="258.40" y1="457.40" x2="261.40" y2="457.40" stroke="#000" stroke-width="0.9"/>
<text x="256.50" y="459.81" font-size="6.7" text-anchor="end" fill="#222" stroke="#222" stroke-width="0.18">5</text>
<line x1="258.40" y1="445.40" x2="261.40" y2="445.40" stroke="#000" stroke-width="0.9"/>
<text x="256.50" y="447.81" font-size="6.7" text-anchor="end" fill="#222" stroke="#222" stroke-width="0.18">10</text>
<line x1="258.40" y1="433.40" x2="261.40" y2="433.40" stroke="#000" stroke-width="0.9"/>
<text x="256.50" y="435.81" font-size="6.7" text-anchor="end" fill="#222" stroke="#222" stroke-width="0.18">15</text>
<line x1="258.40" y1="421.40" x2="261.40" y2="421.40" stroke="#000" stroke-width="0.9"/>
<text x="256.50" y="423.81" font-size="6.7" text-anchor="end" fill="#222" stroke="#222" stroke-width="0.18">20</text>
<line x1="268.10" y1="469.40" x2="268.10" y2="471.90" stroke="#000" stroke-width="0.9"/>
<text x="268.10" y="481.40" font-size="6.5" text-anchor="middle" fill="#222" stroke="#222" stroke-width="0.18">d0</text>
<line x1="283.70" y1="469.40" x2="283.70" y2="471.90" stroke="#000" stroke-width="0.9"/>
<text x="283.70" y="481.40" font-size="6.5" text-anchor="middle" fill="#222" stroke="#222" stroke-width="0.18">d1</text>
<line x1="298.90" y1="469.40" x2="298.90" y2="471.90" stroke="#000" stroke-width="0.9"/>
<text x="298.90" y="481.40" font-size="6.5" text-anchor="middle" fill="#222" stroke="#222" stroke-width="0.18">d4</text>
<line x1="314.10" y1="469.40" x2="314.10" y2="471.90" stroke="#000" stroke-width="0.9"/>
<text x="314.10" y="481.40" font-size="6.5" text-anchor="middle" fill="#222" stroke="#222" stroke-width="0.18">d7</text>
<line x1="271.20" y1="460.40" x2="271.20" y2="468.44" stroke="#666" stroke-width="0.75"/>
<rect x="269.20" y="461.96" width="4.00" height="6.48" fill="#22458c"/>
<path d="M270.31 468.44L271.56 467.19L272.81 468.44L271.56 469.69Z" fill="#000"/>
<path d="M270.05 460.40L271.30 459.15L272.55 460.40L271.30 461.65Z" fill="#000"/>
<path d="M270.35 463.45L271.60 462.20L272.85 463.45L271.60 464.70Z" fill="#000"/>
<path d="M269.85 466.58L271.10 465.33L272.35 466.58L271.10 467.83Z" fill="#000"/>
<path d="M269.93 462.64L271.18 461.39L272.43 462.64L271.18 463.89Z" fill="#000"/>
<path d="M269.41 464.59L270.66 463.34L271.91 464.59L270.66 465.84Z" fill="#000"/>
<path d="M269.45 467.33L270.70 466.08L271.95 467.33L270.70 468.58Z" fill="#000"/>
<line x1="280.70" y1="457.88" x2="280.70" y2="466.52" stroke="#666" stroke-width="0.75"/>
<rect x="278.70" y="458.84" width="4.00" height="6.00" fill="#b0112e"/>
<path d="M279.02 466.52L280.27 465.27L281.52 466.52L280.27 467.77Z" fill="#000"/>
<path d="M279.99 457.88L281.24 456.63L282.49 457.88L281.24 459.13Z" fill="#000"/>
<path d="M278.86 462.39L280.11 461.14L281.36 462.39L280.11 463.64Z" fill="#000"/>
<path d="M279.59 458.76L280.84 457.51L282.09 458.76L280.84 460.01Z" fill="#000"/>
<path d="M279.27 459.75L280.52 458.50L281.77 459.75L280.52 461.00Z" fill="#000"/>
<path d="M279.79 459.30L281.04 458.05L282.29 459.30L281.04 460.55Z" fill="#000"/>
<path d="M279.93 458.96L281.18 457.71L282.43 458.96L281.18 460.21Z" fill="#000"/>
<line x1="286.10" y1="458.60" x2="286.10" y2="467.96" stroke="#666" stroke-width="0.75"/>
<rect x="284.10" y="460.40" width="4.00" height="7.56" fill="#22458c"/>
<path d="M285.52 467.96L286.77 466.71L288.02 467.96L286.77 469.21Z" fill="#000"/>
<path d="M285.14 458.60L286.39 457.35L287.64 458.60L286.39 459.85Z" fill="#000"/>
<path d="M284.42 464.31L285.67 463.06L286.92 464.31L285.67 465.56Z" fill="#000"/>
<path d="M284.46 460.39L285.71 459.14L286.96 460.39L285.71 461.64Z" fill="#000"/>
<path d="M283.96 463.84L285.21 462.59L286.46 463.84L285.21 465.09Z" fill="#000"/>
<path d="M284.86 461.32L286.11 460.07L287.36 461.32L286.11 462.57Z" fill="#000"/>
<path d="M284.23 461.00L285.48 459.75L286.73 461.00L285.48 462.25Z" fill="#000"/>
<line x1="296.30" y1="430.04" x2="296.30" y2="459.80" stroke="#666" stroke-width="0.75"/>
<rect x="294.30" y="436.28" width="4.00" height="23.52" fill="#b0112e"/>
<line x1="294.30" y1="455.24" x2="298.30" y2="455.24" stroke="#000" stroke-width="0.9"/>
<path d="M294.35 459.80L295.60 458.55L296.85 459.80L295.60 461.05Z" fill="#000"/>
<path d="M294.85 430.04L296.10 428.79L297.35 430.04L296.10 431.29Z" fill="#000"/>
<path d="M295.03 455.12L296.28 453.87L297.53 455.12L296.28 456.37Z" fill="#000"/>
<path d="M294.60 432.69L295.85 431.44L297.10 432.69L295.85 433.94Z" fill="#000"/>
<path d="M295.13 434.93L296.38 433.68L297.63 434.93L296.38 436.18Z" fill="#000"/>
<path d="M294.97 441.85L296.22 440.60L297.47 441.85L296.22 443.10Z" fill="#000"/>
<line x1="301.90" y1="460.28" x2="301.90" y2="466.52" stroke="#666" stroke-width="0.75"/>
<rect x="299.90" y="461.00" width="4.00" height="5.52" fill="#22458c"/>
<path d="M300.02 466.52L301.27 465.27L302.52 466.52L301.27 467.77Z" fill="#000"/>
<path d="M300.90 460.28L302.15 459.03L303.40 460.28L302.15 461.53Z" fill="#000"/>
<path d="M300.40 462.62L301.65 461.37L302.90 462.62L301.65 463.87Z" fill="#000"/>
<path d="M301.26 463.48L302.51 462.23L303.76 463.48L302.51 464.73Z" fill="#000"/>
<path d="M300.24 465.77L301.49 464.52L302.74 465.77L301.49 467.02Z" fill="#000"/>
<path d="M301.26 463.25L302.51 462.00L303.76 463.25L302.51 464.50Z" fill="#000"/>
<line x1="311.00" y1="459.32" x2="311.00" y2="463.88" stroke="#666" stroke-width="0.75"/>
<rect x="309.00" y="459.80" width="4.00" height="4.08" fill="#b0112e"/>
<path d="M310.00 463.88L311.25 462.63L312.50 463.88L311.25 465.13Z" fill="#000"/>
<path d="M308.93 459.32L310.18 458.07L311.43 459.32L310.18 460.57Z" fill="#000"/>
<path d="M310.64 461.47L311.89 460.22L313.14 461.47L311.89 462.72Z" fill="#000"/>
<path d="M310.12 460.76L311.37 459.51L312.62 460.76L311.37 462.01Z" fill="#000"/>
<path d="M308.94 463.31L310.19 462.06L311.44 463.31L310.19 464.56Z" fill="#000"/>
<line x1="317.50" y1="462.44" x2="317.50" y2="468.92" stroke="#666" stroke-width="0.75"/>
<rect x="315.50" y="462.92" width="4.00" height="5.76" fill="#22458c"/>
<path d="M317.08 468.92L318.33 467.67L319.58 468.92L318.33 470.17Z" fill="#000"/>
<path d="M316.86 462.44L318.11 461.19L319.36 462.44L318.11 463.69Z" fill="#000"/>
<path d="M316.30 466.32L317.55 465.07L318.80 466.32L317.55 467.57Z" fill="#000"/>
<path d="M315.60 467.42L316.85 466.17L318.10 467.42L316.85 468.67Z" fill="#000"/>
<path d="M316.12 463.95L317.37 462.70L318.62 463.95L317.37 465.20Z" fill="#000"/>
<path d="M316.28 465.58L317.53 464.33L318.78 465.58L317.53 466.83Z" fill="#000"/>
<text x="298.30" y="430.00" font-size="5.3" text-anchor="middle" fill="#333" stroke="#333" stroke-width="0.18">**</text>
<text x="314.10" y="457.80" font-size="5.3" text-anchor="middle" fill="#333" stroke="#333" stroke-width="0.18">**</text>
<line x1="330.10" y1="419.40" x2="330.10" y2="469.90" stroke="#000" stroke-width="1.1"/>
<line x1="329.55" y1="469.40" x2="389.80" y2="469.40" stroke="#000" stroke-width="1.1"/>
<line x1="327.10" y1="469.40" x2="330.10" y2="469.40" stroke="#000" stroke-width="0.9"/>
<line x1="327.10" y1="457.40" x2="330.10" y2="457.40" stroke="#000" stroke-width="0.9"/>
<line x1="327.10" y1="445.40" x2="330.10" y2="445.40" stroke="#000" stroke-width="0.9"/>
<line x1="327.10" y1="433.40" x2="330.10" y2="433.40" stroke="#000" stroke-width="0.9"/>
<line x1="327.10" y1="421.40" x2="330.10" y2="421.40" stroke="#000" stroke-width="0.9"/>
<line x1="337.80" y1="469.40" x2="337.80" y2="471.90" stroke="#000" stroke-width="0.9"/>
<text x="337.80" y="481.40" font-size="6.5" text-anchor="middle" fill="#222" stroke="#222" stroke-width="0.18">d0</text>
<line x1="352.00" y1="469.40" x2="352.00" y2="471.90" stroke="#000" stroke-width="0.9"/>
<text x="352.00" y="481.40" font-size="6.5" text-anchor="middle" fill="#222" stroke="#222" stroke-width="0.18">d1</text>
<line x1="367.60" y1="469.40" x2="367.60" y2="471.90" stroke="#000" stroke-width="0.9"/>
<text x="367.60" y="481.40" font-size="6.5" text-anchor="middle" fill="#222" stroke="#222" stroke-width="0.18">d4</text>
<line x1="382.80" y1="469.40" x2="382.80" y2="471.90" stroke="#000" stroke-width="0.9"/>
<text x="382.80" y="481.40" font-size="6.5" text-anchor="middle" fill="#222" stroke="#222" stroke-width="0.18">d7</text>
<line x1="340.20" y1="458.60" x2="340.20" y2="468.92" stroke="#666" stroke-width="0.75"/>
<rect x="338.20" y="458.84" width="4.00" height="10.08" fill="#22458c"/>
<path d="M338.53 468.92L339.78 467.67L341.03 468.92L339.78 470.17Z" fill="#000"/>
<path d="M339.06 458.60L340.31 457.35L341.56 458.60L340.31 459.85Z" fill="#000"/>
<path d="M339.28 468.62L340.53 467.37L341.78 468.62L340.53 469.87Z" fill="#000"/>
<path d="M339.67 467.09L340.92 465.84L342.17 467.09L340.92 468.34Z" fill="#000"/>
<path d="M338.79 468.90L340.04 467.65L341.29 468.90L340.04 470.15Z" fill="#000"/>
<line x1="350.00" y1="443.48" x2="350.00" y2="456.92" stroke="#666" stroke-width="0.75"/>
<rect x="348.00" y="447.80" width="4.00" height="9.12" fill="#b0112e"/>
<path d="M348.16 456.92L349.41 455.67L350.66 456.92L349.41 458.17Z" fill="#000"/>
<path d="M348.85 443.48L350.10 442.23L351.35 443.48L350.10 444.73Z" fill="#000"/>
<path d="M349.41 447.78L350.66 446.53L351.91 447.78L350.66 449.03Z" fill="#000"/>
<path d="M348.82 452.49L350.07 451.24L351.32 452.49L350.07 453.74Z" fill="#000"/>
<path d="M347.92 449.32L349.17 448.07L350.42 449.32L349.17 450.57Z" fill="#000"/>
<path d="M348.30 456.03L349.55 454.78L350.80 456.03L349.55 457.28Z" fill="#000"/>
<line x1="355.40" y1="458.12" x2="355.40" y2="468.92" stroke="#666" stroke-width="0.75"/>
<rect x="353.40" y="458.36" width="4.00" height="10.56" fill="#22458c"/>
<path d="M354.14 468.92L355.39 467.67L356.64 468.92L355.39 470.17Z" fill="#000"/>
<path d="M354.28 458.12L355.53 456.87L356.78 458.12L355.53 459.37Z" fill="#000"/>
<path d="M354.62 459.72L355.87 458.47L357.12 459.72L355.87 460.97Z" fill="#000"/>
<path d="M354.31 466.53L355.56 465.28L356.81 466.53L355.56 467.78Z" fill="#000"/>
<path d="M354.76 461.18L356.01 459.93L357.26 461.18L356.01 462.43Z" fill="#000"/>
<line x1="364.90" y1="426.44" x2="364.90" y2="443.00" stroke="#666" stroke-width="0.75"/>
<rect x="362.90" y="437.00" width="4.00" height="3.60" fill="#b0112e"/>
<path d="M363.59 443.00L364.84 441.75L366.09 443.00L364.84 444.25Z" fill="#000"/>
<path d="M362.99 426.44L364.24 425.19L365.49 426.44L364.24 427.69Z" fill="#000"/>
<path d="M363.51 438.96L364.76 437.71L366.01 438.96L364.76 440.21Z" fill="#000"/>
<path d="M363.59 431.04L364.84 429.79L366.09 431.04L364.84 432.29Z" fill="#000"/>
<path d="M364.42 441.53L365.67 440.28L366.92 441.53L365.67 442.78Z" fill="#000"/>
<path d="M364.36 438.48L365.61 437.23L366.86 438.48L365.61 439.73Z" fill="#000"/>
<line x1="370.60" y1="455.24" x2="370.60" y2="467.00" stroke="#666" stroke-width="0.75"/>
<rect x="368.60" y="455.72" width="4.00" height="11.28" fill="#22458c"/>
<path d="M370.11 467.00L371.36 465.75L372.61 467.00L371.36 468.25Z" fill="#000"/>
<path d="M370.07 455.24L371.32 453.99L372.57 455.24L371.32 456.49Z" fill="#000"/>
<path d="M369.30 457.52L370.55 456.27L371.80 457.52L370.55 458.77Z" fill="#000"/>
<path d="M369.37 466.98L370.62 465.73L371.87 466.98L370.62 468.23Z" fill="#000"/>
<path d="M368.65 463.38L369.90 462.13L371.15 463.38L369.90 464.63Z" fill="#000"/>
<path d="M369.95 458.93L371.20 457.68L372.45 458.93L371.20 460.18Z" fill="#000"/>
<line x1="379.70" y1="450.20" x2="379.70" y2="458.84" stroke="#666" stroke-width="0.75"/>
<rect x="377.70" y="454.28" width="4.00" height="4.56" fill="#b0112e"/>
<path d="M378.17 458.84L379.42 457.59L380.67 458.84L379.42 460.09Z" fill="#000"/>
<path d="M377.62 450.20L378.87 448.95L380.12 450.20L378.87 451.45Z" fill="#000"/>
<path d="M379.30 456.00L380.55 454.75L381.80 456.00L380.55 457.25Z" fill="#000"/>
<path d="M378.29 458.28L379.54 457.03L380.79 458.28L379.54 459.53Z" fill="#000"/>
<path d="M378.98 451.08L380.23 449.83L381.48 451.08L380.23 452.33Z" fill="#000"/>
<line x1="385.80" y1="461.72" x2="385.80" y2="468.92" stroke="#666" stroke-width="0.75"/>
<rect x="383.80" y="461.96" width="4.00" height="6.72" fill="#22458c"/>
<path d="M385.18 468.92L386.43 467.67L387.68 468.92L386.43 470.17Z" fill="#000"/>
<path d="M384.21 461.72L385.46 460.47L386.71 461.72L385.46 462.97Z" fill="#000"/>
<path d="M385.17 467.85L386.42 466.60L387.67 467.85L386.42 469.10Z" fill="#000"/>
<path d="M384.94 465.76L386.19 464.51L387.44 465.76L386.19 467.01Z" fill="#000"/>
<path d="M384.49 464.47L385.74 463.22L386.99 464.47L385.74 465.72Z" fill="#000"/>
<path d="M383.77 463.14L385.02 461.89L386.27 463.14L385.02 464.39Z" fill="#000"/>
<text x="352.40" y="442.80" font-size="5.3" text-anchor="middle" fill="#333" stroke="#333" stroke-width="0.18">****</text>
<text x="368.20" y="426.00" font-size="5.3" text-anchor="middle" fill="#333" stroke="#333" stroke-width="0.18">****</text>
<text x="383.20" y="449.90" font-size="5.3" text-anchor="middle" fill="#333" stroke="#333" stroke-width="0.18">****</text>
<defs><filter id="bl1" x="-50%" y="-50%" width="200%" height="200%"><feGaussianBlur stdDeviation="0.6"/></filter><filter id="bl2" x="-50%" y="-50%" width="200%" height="200%"><feGaussianBlur stdDeviation="1.6"/></filter></defs>
<rect x="23" y="430.4" width="35.3" height="36.700000000000045" fill="none" stroke="#c8c8c8" stroke-width="0.7"/>
<line x1="35.30" y1="449.60" x2="35.30" y2="467.10" stroke="#c8c8c8" stroke-width="0.7"/>
<line x1="23.00" y1="449.60" x2="35.30" y2="449.60" stroke="#c8c8c8" stroke-width="0.7"/>
<circle cx="37.07" cy="437.21" r="0.35" fill="#888" fill-opacity="0.7"/>
<circle cx="36.06" cy="436.52" r="0.35" fill="#888" fill-opacity="0.7"/>
<circle cx="48.04" cy="443.10" r="0.35" fill="#888" fill-opacity="0.7"/>
<circle cx="43.52" cy="444.06" r="0.35" fill="#888" fill-opacity="0.7"/>
<circle cx="43.22" cy="445.83" r="0.35" fill="#888" fill-opacity="0.7"/>
<circle cx="45.76" cy="434.23" r="0.35" fill="#888" fill-opacity="0.7"/>
<circle cx="45.07" cy="439.63" r="0.35" fill="#888" fill-opacity="0.7"/>
<circle cx="44.57" cy="435.44" r="0.35" fill="#888" fill-opacity="0.7"/>
<circle cx="47.12" cy="435.02" r="0.35" fill="#888" fill-opacity="0.7"/>
<circle cx="40.79" cy="435.83" r="0.35" fill="#888" fill-opacity="0.7"/>
<circle cx="40.27" cy="434.89" r="0.35" fill="#888" fill-opacity="0.7"/>
<circle cx="48.05" cy="442.65" r="0.35" fill="#888" fill-opacity="0.7"/>
<circle cx="36.49" cy="441.21" r="0.35" fill="#888" fill-opacity="0.7"/>
<circle cx="37.25" cy="442.30" r="0.35" fill="#888" fill-opacity="0.7"/>
<circle cx="42.52" cy="440.62" r="0.35" fill="#888" fill-opacity="0.7"/>
<circle cx="48.19" cy="444.46" r="0.35" fill="#888" fill-opacity="0.7"/>
<circle cx="46.92" cy="436.70" r="0.35" fill="#888" fill-opacity="0.7"/>
<circle cx="37.51" cy="441.34" r="0.35" fill="#888" fill-opacity="0.7"/>
<circle cx="44.55" cy="446.29" r="0.35" fill="#888" fill-opacity="0.7"/>
<circle cx="50.11" cy="435.00" r="0.35" fill="#888" fill-opacity="0.7"/>
<circle cx="42.58" cy="443.37" r="0.35" fill="#888" fill-opacity="0.7"/>
<circle cx="42.70" cy="447.46" r="0.35" fill="#888" fill-opacity="0.7"/>
<circle cx="36.21" cy="438.62" r="0.35" fill="#888" fill-opacity="0.7"/>
<circle cx="49.49" cy="447.17" r="0.35" fill="#888" fill-opacity="0.7"/>
<circle cx="44.09" cy="436.03" r="0.35" fill="#888" fill-opacity="0.7"/>
<circle cx="45.47" cy="437.10" r="0.35" fill="#888" fill-opacity="0.7"/>
<circle cx="47.14" cy="437.48" r="0.35" fill="#888" fill-opacity="0.7"/>
<circle cx="39.07" cy="441.40" r="0.35" fill="#888" fill-opacity="0.7"/>
<circle cx="48.34" cy="439.84" r="0.35" fill="#888" fill-opacity="0.7"/>
<circle cx="45.49" cy="441.13" r="0.35" fill="#888" fill-opacity="0.7"/>
<circle cx="44.39" cy="432.10" r="0.35" fill="#888" fill-opacity="0.7"/>
<circle cx="41.96" cy="445.98" r="0.35" fill="#888" fill-opacity="0.7"/>
<circle cx="44.19" cy="444.53" r="0.35" fill="#888" fill-opacity="0.7"/>
<circle cx="51.27" cy="432.60" r="0.35" fill="#888" fill-opacity="0.7"/>
<circle cx="47.65" cy="439.83" r="0.35" fill="#888" fill-opacity="0.7"/>
<circle cx="36.04" cy="435.50" r="0.35" fill="#888" fill-opacity="0.7"/>
<circle cx="43.89" cy="439.38" r="0.35" fill="#888" fill-opacity="0.7"/>
<circle cx="49.93" cy="437.68" r="0.35" fill="#888" fill-opacity="0.7"/>
<circle cx="48.60" cy="438.58" r="0.35" fill="#888" fill-opacity="0.7"/>
<circle cx="51.09" cy="447.63" r="0.35" fill="#888" fill-opacity="0.7"/>
<circle cx="38.59" cy="445.08" r="0.35" fill="#888" fill-opacity="0.7"/>
<circle cx="37.81" cy="437.37" r="0.35" fill="#888" fill-opacity="0.7"/>
<circle cx="50.17" cy="438.94" r="0.35" fill="#888" fill-opacity="0.7"/>
<circle cx="36.33" cy="432.08" r="0.35" fill="#888" fill-opacity="0.7"/>
<circle cx="51.79" cy="445.74" r="0.35" fill="#888" fill-opacity="0.7"/>
<circle cx="51.43" cy="437.45" r="0.35" fill="#888" fill-opacity="0.7"/>
<circle cx="40.88" cy="442.97" r="0.35" fill="#888" fill-opacity="0.7"/>
<circle cx="36.79" cy="441.59" r="0.35" fill="#888" fill-opacity="0.7"/>
<circle cx="38.46" cy="434.98" r="0.35" fill="#888" fill-opacity="0.7"/>
<circle cx="48.10" cy="435.81" r="0.35" fill="#888" fill-opacity="0.7"/>
<circle cx="51.82" cy="442.71" r="0.35" fill="#888" fill-opacity="0.7"/>
<circle cx="45.60" cy="442.28" r="0.35" fill="#888" fill-opacity="0.7"/>
<circle cx="39.83" cy="447.32" r="0.35" fill="#888" fill-opacity="0.7"/>
<circle cx="36.64" cy="446.52" r="0.35" fill="#888" fill-opacity="0.7"/>
<circle cx="44.53" cy="441.63" r="0.35" fill="#888" fill-opacity="0.7"/>
<circle cx="44.70" cy="438.21" r="0.35" fill="#888" fill-opacity="0.7"/>
<circle cx="38.66" cy="437.63" r="0.35" fill="#888" fill-opacity="0.7"/>
<circle cx="46.24" cy="436.98" r="0.35" fill="#888" fill-opacity="0.7"/>
<circle cx="48.73" cy="443.09" r="0.35" fill="#888" fill-opacity="0.7"/>
<circle cx="36.48" cy="433.49" r="0.35" fill="#888" fill-opacity="0.7"/>
<circle cx="49.55" cy="440.55" r="0.35" fill="#888" fill-opacity="0.7"/>
<circle cx="38.13" cy="440.47" r="0.35" fill="#888" fill-opacity="0.7"/>
<circle cx="44.79" cy="443.33" r="0.35" fill="#888" fill-opacity="0.7"/>
<circle cx="43.63" cy="446.89" r="0.35" fill="#888" fill-opacity="0.7"/>
<circle cx="36.24" cy="446.20" r="0.35" fill="#888" fill-opacity="0.7"/>
<circle cx="47.31" cy="438.03" r="0.35" fill="#888" fill-opacity="0.7"/>
<circle cx="37.63" cy="434.31" r="0.35" fill="#888" fill-opacity="0.7"/>
<circle cx="47.25" cy="442.66" r="0.35" fill="#888" fill-opacity="0.7"/>
<circle cx="44.48" cy="433.33" r="0.35" fill="#888" fill-opacity="0.7"/>
<circle cx="37.62" cy="439.78" r="0.35" fill="#888" fill-opacity="0.7"/>
<circle cx="48.10" cy="457.74" r="0.35" fill="#aaa" fill-opacity="0.6"/>
<circle cx="42.26" cy="452.38" r="0.35" fill="#aaa" fill-opacity="0.6"/>
<circle cx="46.67" cy="461.63" r="0.35" fill="#aaa" fill-opacity="0.6"/>
<circle cx="42.56" cy="460.21" r="0.35" fill="#aaa" fill-opacity="0.6"/>
<circle cx="36.10" cy="456.33" r="0.35" fill="#aaa" fill-opacity="0.6"/>
<circle cx="38.83" cy="455.93" r="0.35" fill="#aaa" fill-opacity="0.6"/>
<circle cx="45.59" cy="460.27" r="0.35" fill="#aaa" fill-opacity="0.6"/>
<circle cx="44.13" cy="460.43" r="0.35" fill="#aaa" fill-opacity="0.6"/>
<circle cx="40.89" cy="451.54" r="0.35" fill="#aaa" fill-opacity="0.6"/>
<circle cx="43.17" cy="458.58" r="0.35" fill="#aaa" fill-opacity="0.6"/>
<circle cx="47.18" cy="450.44" r="0.35" fill="#aaa" fill-opacity="0.6"/>
<circle cx="39.60" cy="453.05" r="0.35" fill="#aaa" fill-opacity="0.6"/>
<circle cx="43.28" cy="460.34" r="0.35" fill="#aaa" fill-opacity="0.6"/>
<circle cx="39.97" cy="450.55" r="0.35" fill="#aaa" fill-opacity="0.6"/>
<circle cx="50.32" cy="460.43" r="0.35" fill="#aaa" fill-opacity="0.6"/>
<circle cx="48.22" cy="450.46" r="0.35" fill="#aaa" fill-opacity="0.6"/>
<circle cx="39.80" cy="452.12" r="0.35" fill="#aaa" fill-opacity="0.6"/>
<circle cx="50.60" cy="451.50" r="0.35" fill="#aaa" fill-opacity="0.6"/>
<circle cx="37.60" cy="452.65" r="0.35" fill="#aaa" fill-opacity="0.6"/>
<circle cx="48.55" cy="452.38" r="0.35" fill="#aaa" fill-opacity="0.6"/>
<circle cx="51.73" cy="453.70" r="0.35" fill="#aaa" fill-opacity="0.6"/>
<circle cx="46.23" cy="452.30" r="0.35" fill="#aaa" fill-opacity="0.6"/>
<circle cx="40.32" cy="460.38" r="0.35" fill="#aaa" fill-opacity="0.6"/>
<circle cx="51.96" cy="452.91" r="0.35" fill="#aaa" fill-opacity="0.6"/>
<circle cx="41.27" cy="450.69" r="0.35" fill="#aaa" fill-opacity="0.6"/>
<circle cx="38.71" cy="454.61" r="0.35" fill="#aaa" fill-opacity="0.6"/>
<circle cx="44.10" cy="456.87" r="0.35" fill="#aaa" fill-opacity="0.6"/>
<circle cx="41.27" cy="451.90" r="0.35" fill="#aaa" fill-opacity="0.6"/>
<circle cx="44.67" cy="454.19" r="0.35" fill="#aaa" fill-opacity="0.6"/>
<circle cx="41.19" cy="461.68" r="0.35" fill="#aaa" fill-opacity="0.6"/>
<circle cx="45.19" cy="450.18" r="0.35" fill="#aaa" fill-opacity="0.6"/>
<circle cx="51.29" cy="461.64" r="0.35" fill="#aaa" fill-opacity="0.6"/>
<circle cx="41.93" cy="461.76" r="0.35" fill="#aaa" fill-opacity="0.6"/>
<circle cx="37.23" cy="461.02" r="0.35" fill="#aaa" fill-opacity="0.6"/>
<circle cx="38.29" cy="460.37" r="0.35" fill="#aaa" fill-opacity="0.6"/>
<circle cx="46.68" cy="461.50" r="0.35" fill="#aaa" fill-opacity="0.6"/>
<circle cx="40.49" cy="457.85" r="0.35" fill="#aaa" fill-opacity="0.6"/>
<circle cx="51.02" cy="451.55" r="0.35" fill="#aaa" fill-opacity="0.6"/>
<circle cx="38.55" cy="456.68" r="0.35" fill="#aaa" fill-opacity="0.6"/>
<circle cx="37.71" cy="450.65" r="0.35" fill="#aaa" fill-opacity="0.6"/>
<circle cx="35.76" cy="454.16" r="0.35" fill="#aaa" fill-opacity="0.6"/>
<circle cx="46.22" cy="455.59" r="0.35" fill="#aaa" fill-opacity="0.6"/>
<circle cx="45.47" cy="450.32" r="0.35" fill="#aaa" fill-opacity="0.6"/>
<circle cx="37.17" cy="456.79" r="0.35" fill="#aaa" fill-opacity="0.6"/>
<circle cx="38.09" cy="450.15" r="0.35" fill="#aaa" fill-opacity="0.6"/>
<circle cx="24.64" cy="458.53" r="0.35" fill="#999" fill-opacity="0.6"/>
<circle cx="28.20" cy="444.68" r="0.35" fill="#999" fill-opacity="0.6"/>
<circle cx="29.46" cy="453.08" r="0.35" fill="#999" fill-opacity="0.6"/>
<circle cx="29.80" cy="453.46" r="0.35" fill="#999" fill-opacity="0.6"/>
<circle cx="29.06" cy="457.05" r="0.35" fill="#999" fill-opacity="0.6"/>
<circle cx="26.41" cy="442.11" r="0.35" fill="#999" fill-opacity="0.6"/>
<circle cx="30.28" cy="442.58" r="0.35" fill="#999" fill-opacity="0.6"/>
<circle cx="27.90" cy="461.81" r="0.35" fill="#999" fill-opacity="0.6"/>
<circle cx="26.45" cy="445.75" r="0.35" fill="#999" fill-opacity="0.6"/>
<circle cx="26.68" cy="444.45" r="0.35" fill="#999" fill-opacity="0.6"/>
<circle cx="29.25" cy="446.56" r="0.35" fill="#999" fill-opacity="0.6"/>
<circle cx="24.51" cy="453.10" r="0.35" fill="#999" fill-opacity="0.6"/>
<circle cx="25.81" cy="443.94" r="0.35" fill="#999" fill-opacity="0.6"/>
<circle cx="24.12" cy="458.45" r="0.35" fill="#999" fill-opacity="0.6"/>
<circle cx="26.64" cy="453.20" r="0.35" fill="#999" fill-opacity="0.6"/>
<circle cx="27.36" cy="459.12" r="0.35" fill="#999" fill-opacity="0.6"/>
<circle cx="24.47" cy="453.95" r="0.35" fill="#999" fill-opacity="0.6"/>
<circle cx="29.81" cy="446.20" r="0.35" fill="#999" fill-opacity="0.6"/>
<circle cx="27.04" cy="447.40" r="0.35" fill="#999" fill-opacity="0.6"/>
<circle cx="26.27" cy="460.80" r="0.35" fill="#999" fill-opacity="0.6"/>
<ellipse cx="42" cy="441.5" rx="6" ry="4.5" fill="#555" fill-opacity="0.55" filter="url(#bl2)"/>
<ellipse cx="40.6" cy="440.6" rx="3.3" ry="2.2" fill="#000" fill-opacity="1" filter="url(#bl1)"/>
<rect x="30.6" y="436.5" width="2.9" height="26.5" fill="#111" filter="url(#bl1)"/>
<circle cx="30.87" cy="434.91" r="0.4" fill="#555" fill-opacity="0.7"/>
<circle cx="32.46" cy="436.51" r="0.4" fill="#555" fill-opacity="0.7"/>
<circle cx="31.60" cy="443.29" r="0.4" fill="#555" fill-opacity="0.7"/>
<circle cx="33.42" cy="437.37" r="0.4" fill="#555" fill-opacity="0.7"/>
<circle cx="35.72" cy="434.46" r="0.4" fill="#555" fill-opacity="0.7"/>
<circle cx="28.08" cy="454.93" r="0.4" fill="#555" fill-opacity="0.7"/>
<circle cx="35.86" cy="461.29" r="0.4" fill="#555" fill-opacity="0.7"/>
<circle cx="34.51" cy="437.14" r="0.4" fill="#555" fill-opacity="0.7"/>
<circle cx="29.18" cy="442.00" r="0.4" fill="#555" fill-opacity="0.7"/>
<circle cx="29.52" cy="437.79" r="0.4" fill="#555" fill-opacity="0.7"/>
<circle cx="30.09" cy="444.83" r="0.4" fill="#555" fill-opacity="0.7"/>
<circle cx="30.25" cy="459.46" r="0.4" fill="#555" fill-opacity="0.7"/>
<circle cx="34.59" cy="436.57" r="0.4" fill="#555" fill-opacity="0.7"/>
<circle cx="31.93" cy="456.81" r="0.4" fill="#555" fill-opacity="0.7"/>
<circle cx="27.80" cy="464.11" r="0.4" fill="#555" fill-opacity="0.7"/>
<circle cx="32.32" cy="447.24" r="0.4" fill="#555" fill-opacity="0.7"/>
<circle cx="30.94" cy="462.68" r="0.4" fill="#555" fill-opacity="0.7"/>
<circle cx="32.00" cy="446.93" r="0.4" fill="#555" fill-opacity="0.7"/>
<circle cx="35.60" cy="438.23" r="0.4" fill="#555" fill-opacity="0.7"/>
<circle cx="31.45" cy="463.50" r="0.4" fill="#555" fill-opacity="0.7"/>
<circle cx="34.63" cy="458.47" r="0.4" fill="#555" fill-opacity="0.7"/>
<circle cx="34.74" cy="437.02" r="0.4" fill="#555" fill-opacity="0.7"/>
<circle cx="33.22" cy="449.19" r="0.4" fill="#555" fill-opacity="0.7"/>
<circle cx="35.99" cy="465.15" r="0.4" fill="#555" fill-opacity="0.7"/>
<circle cx="30.86" cy="459.48" r="0.4" fill="#555" fill-opacity="0.7"/>
<circle cx="30.59" cy="445.85" r="0.4" fill="#555" fill-opacity="0.7"/>
<circle cx="33.61" cy="462.02" r="0.4" fill="#555" fill-opacity="0.7"/>
<circle cx="34.15" cy="438.55" r="0.4" fill="#555" fill-opacity="0.7"/>
<circle cx="28.06" cy="464.08" r="0.4" fill="#555" fill-opacity="0.7"/>
<circle cx="32.07" cy="451.67" r="0.4" fill="#555" fill-opacity="0.7"/>
<circle cx="33.47" cy="464.07" r="0.4" fill="#555" fill-opacity="0.7"/>
<circle cx="33.68" cy="452.95" r="0.4" fill="#555" fill-opacity="0.7"/>
<circle cx="31.37" cy="455.43" r="0.4" fill="#555" fill-opacity="0.7"/>
<circle cx="33.74" cy="451.21" r="0.4" fill="#555" fill-opacity="0.7"/>
<circle cx="35.71" cy="444.51" r="0.4" fill="#555" fill-opacity="0.7"/>
<circle cx="35.12" cy="465.91" r="0.4" fill="#555" fill-opacity="0.7"/>
<circle cx="33.77" cy="445.73" r="0.4" fill="#555" fill-opacity="0.7"/>
<circle cx="32.00" cy="444.66" r="0.4" fill="#555" fill-opacity="0.7"/>
<circle cx="34.32" cy="458.10" r="0.4" fill="#555" fill-opacity="0.7"/>
<circle cx="29.02" cy="444.79" r="0.4" fill="#555" fill-opacity="0.7"/>
<circle cx="33.97" cy="437.51" r="0.4" fill="#555" fill-opacity="0.7"/>
<circle cx="33.88" cy="451.01" r="0.4" fill="#555" fill-opacity="0.7"/>
<circle cx="28.91" cy="444.34" r="0.4" fill="#555" fill-opacity="0.7"/>
<circle cx="35.13" cy="435.77" r="0.4" fill="#555" fill-opacity="0.7"/>
<circle cx="31.55" cy="465.56" r="0.4" fill="#555" fill-opacity="0.7"/>
<circle cx="29.96" cy="458.83" r="0.4" fill="#555" fill-opacity="0.7"/>
<circle cx="30.96" cy="463.66" r="0.4" fill="#555" fill-opacity="0.7"/>
<circle cx="35.47" cy="457.39" r="0.4" fill="#555" fill-opacity="0.7"/>
<circle cx="29.24" cy="463.71" r="0.4" fill="#555" fill-opacity="0.7"/>
<circle cx="30.42" cy="459.32" r="0.4" fill="#555" fill-opacity="0.7"/>
<circle cx="33.15" cy="452.91" r="0.4" fill="#555" fill-opacity="0.7"/>
<circle cx="30.84" cy="457.98" r="0.4" fill="#555" fill-opacity="0.7"/>
<circle cx="35.83" cy="461.56" r="0.4" fill="#555" fill-opacity="0.7"/>
<circle cx="34.55" cy="440.77" r="0.4" fill="#555" fill-opacity="0.7"/>
<circle cx="29.59" cy="457.33" r="0.4" fill="#555" fill-opacity="0.7"/>
<circle cx="31.40" cy="462.38" r="0.4" fill="#555" fill-opacity="0.7"/>
<circle cx="31.76" cy="464.82" r="0.4" fill="#555" fill-opacity="0.7"/>
<circle cx="27.62" cy="463.62" r="0.4" fill="#555" fill-opacity="0.7"/>
<circle cx="29.98" cy="457.33" r="0.4" fill="#555" fill-opacity="0.7"/>
<circle cx="32.52" cy="453.59" r="0.4" fill="#555" fill-opacity="0.7"/>
<circle cx="31.27" cy="458.05" r="0.4" fill="#555" fill-opacity="0.7"/>
<circle cx="34.82" cy="444.19" r="0.4" fill="#555" fill-opacity="0.7"/>
<circle cx="33.62" cy="450.20" r="0.4" fill="#555" fill-opacity="0.7"/>
<circle cx="33.18" cy="449.52" r="0.4" fill="#555" fill-opacity="0.7"/>
<circle cx="33.28" cy="437.71" r="0.4" fill="#555" fill-opacity="0.7"/>
<circle cx="30.95" cy="460.99" r="0.4" fill="#555" fill-opacity="0.7"/>
<circle cx="29.00" cy="456.37" r="0.4" fill="#555" fill-opacity="0.7"/>
<circle cx="31.38" cy="448.37" r="0.4" fill="#555" fill-opacity="0.7"/>
<circle cx="29.71" cy="456.78" r="0.4" fill="#555" fill-opacity="0.7"/>
<circle cx="28.89" cy="443.80" r="0.4" fill="#555" fill-opacity="0.7"/>
<rect x="35.3" y="430.8" width="22.2" height="18.8" fill="none" stroke="#000" stroke-width="1.1"/>
<text x="28.10" y="435.34" font-size="5.1" text-anchor="middle" fill="#000" stroke="#000" stroke-width="0.12">30.8</text>
<text x="49.90" y="435.34" font-size="5.1" text-anchor="middle" fill="#000" stroke="#000" stroke-width="0.12">34.8</text>
<text x="26.90" y="465.44" font-size="5.1" text-anchor="middle" fill="#000" stroke="#000" stroke-width="0.12">30.3</text>
<text x="48.60" y="465.44" font-size="5.1" text-anchor="middle" fill="#000" stroke="#000" stroke-width="0.12">4.05</text>
<line x1="57.50" y1="440.60" x2="62.40" y2="440.60" stroke="#000" stroke-width="1.2"/>
<path d="M62.10 438.50L66.10 440.60L62.10 442.70Z" fill="#000"/>
<text x="0.00" y="0.00" font-size="8.0" text-anchor="middle" font-weight="bold" fill="#111" transform="translate(22.08,443.00) rotate(-90) scale(0.683,1)" stroke="#111" stroke-width="0.3">CD62L</text>
<line x1="18.80" y1="473.25" x2="18.80" y2="458.70" stroke="#000" stroke-width="1.2"/>
<path d="M16.70 459.00L18.80 455.00L20.90 459.00Z" fill="#000"/>
<line x1="18.35" y1="472.80" x2="30.10" y2="472.80" stroke="#000" stroke-width="1.2"/>
<path d="M29.80 470.70L33.80 472.80L29.80 474.90Z" fill="#000"/>
<text x="0.00" y="0.00" font-size="8.2" text-anchor="start" font-weight="bold" fill="#111" transform="translate(37.60,474.75) scale(0.619,1)" stroke="#111" stroke-width="0.3">CD45RA</text>
<rect x="74.5" y="430.4" width="35.2" height="36.60000000000002" fill="none" stroke="#c8c8c8" stroke-width="0.7"/>
<line x1="88.50" y1="449.40" x2="88.50" y2="467.00" stroke="#c8c8c8" stroke-width="0.7"/>
<line x1="74.50" y1="449.40" x2="88.50" y2="449.40" stroke="#c8c8c8" stroke-width="0.7"/>
<circle cx="83.52" cy="448.89" r="0.4" fill="#888" fill-opacity="0.6"/>
<circle cx="79.17" cy="450.60" r="0.4" fill="#888" fill-opacity="0.6"/>
<circle cx="84.06" cy="447.83" r="0.4" fill="#888" fill-opacity="0.6"/>
<circle cx="85.76" cy="444.12" r="0.4" fill="#888" fill-opacity="0.6"/>
<circle cx="85.39" cy="448.13" r="0.4" fill="#888" fill-opacity="0.6"/>
<circle cx="80.06" cy="448.49" r="0.4" fill="#888" fill-opacity="0.6"/>
<circle cx="83.77" cy="449.83" r="0.4" fill="#888" fill-opacity="0.6"/>
<circle cx="85.65" cy="447.93" r="0.4" fill="#888" fill-opacity="0.6"/>
<circle cx="83.87" cy="451.14" r="0.4" fill="#888" fill-opacity="0.6"/>
<circle cx="80.43" cy="441.98" r="0.4" fill="#888" fill-opacity="0.6"/>
<circle cx="84.23" cy="448.09" r="0.4" fill="#888" fill-opacity="0.6"/>
<circle cx="86.71" cy="448.60" r="0.4" fill="#888" fill-opacity="0.6"/>
<circle cx="83.32" cy="450.82" r="0.4" fill="#888" fill-opacity="0.6"/>
<circle cx="80.03" cy="442.90" r="0.4" fill="#888" fill-opacity="0.6"/>
<circle cx="86.83" cy="448.57" r="0.4" fill="#888" fill-opacity="0.6"/>
<circle cx="84.10" cy="446.27" r="0.4" fill="#888" fill-opacity="0.6"/>
<circle cx="79.51" cy="444.60" r="0.4" fill="#888" fill-opacity="0.6"/>
<circle cx="80.71" cy="443.00" r="0.4" fill="#888" fill-opacity="0.6"/>
<circle cx="82.79" cy="441.25" r="0.4" fill="#888" fill-opacity="0.6"/>
<circle cx="85.55" cy="441.70" r="0.4" fill="#888" fill-opacity="0.6"/>
<circle cx="79.02" cy="446.10" r="0.4" fill="#888" fill-opacity="0.6"/>
<circle cx="81.14" cy="442.63" r="0.4" fill="#888" fill-opacity="0.6"/>
<circle cx="84.80" cy="447.65" r="0.4" fill="#888" fill-opacity="0.6"/>
<circle cx="85.80" cy="451.64" r="0.4" fill="#888" fill-opacity="0.6"/>
<circle cx="81.20" cy="446.43" r="0.4" fill="#888" fill-opacity="0.6"/>
<circle cx="81.72" cy="442.96" r="0.4" fill="#888" fill-opacity="0.6"/>
<circle cx="81.16" cy="444.22" r="0.4" fill="#888" fill-opacity="0.6"/>
<circle cx="82.79" cy="448.24" r="0.4" fill="#888" fill-opacity="0.6"/>
<circle cx="86.82" cy="450.60" r="0.4" fill="#888" fill-opacity="0.6"/>
<circle cx="79.55" cy="442.92" r="0.4" fill="#888" fill-opacity="0.6"/>
<circle cx="86.39" cy="451.12" r="0.4" fill="#888" fill-opacity="0.6"/>
<circle cx="83.30" cy="442.68" r="0.4" fill="#888" fill-opacity="0.6"/>
<circle cx="79.54" cy="440.39" r="0.4" fill="#888" fill-opacity="0.6"/>
<circle cx="86.56" cy="449.27" r="0.4" fill="#888" fill-opacity="0.6"/>
<circle cx="83.55" cy="447.57" r="0.4" fill="#888" fill-opacity="0.6"/>
<ellipse cx="82.7" cy="445.8" rx="3" ry="4" fill="#999" fill-opacity="0.35" filter="url(#bl2)"/>
<circle cx="95.55" cy="457.65" r="0.35" fill="#888" fill-opacity="0.6"/>
<circle cx="99.87" cy="439.19" r="0.35" fill="#888" fill-opacity="0.6"/>
<circle cx="97.82" cy="441.12" r="0.35" fill="#888" fill-opacity="0.6"/>
<circle cx="90.64" cy="454.50" r="0.35" fill="#888" fill-opacity="0.6"/>
<circle cx="103.81" cy="448.43" r="0.35" fill="#888" fill-opacity="0.6"/>
<circle cx="98.96" cy="440.71" r="0.35" fill="#888" fill-opacity="0.6"/>
<circle cx="91.26" cy="443.77" r="0.35" fill="#888" fill-opacity="0.6"/>
<circle cx="90.98" cy="453.49" r="0.35" fill="#888" fill-opacity="0.6"/>
<circle cx="92.24" cy="447.33" r="0.35" fill="#888" fill-opacity="0.6"/>
<circle cx="90.75" cy="441.90" r="0.35" fill="#888" fill-opacity="0.6"/>
<circle cx="94.78" cy="448.20" r="0.35" fill="#888" fill-opacity="0.6"/>
<circle cx="94.13" cy="449.01" r="0.35" fill="#888" fill-opacity="0.6"/>
<circle cx="98.45" cy="441.22" r="0.35" fill="#888" fill-opacity="0.6"/>
<circle cx="97.83" cy="439.99" r="0.35" fill="#888" fill-opacity="0.6"/>
<circle cx="99.18" cy="454.24" r="0.35" fill="#888" fill-opacity="0.6"/>
<circle cx="103.11" cy="455.54" r="0.35" fill="#888" fill-opacity="0.6"/>
<circle cx="98.26" cy="456.88" r="0.35" fill="#888" fill-opacity="0.6"/>
<circle cx="99.78" cy="451.22" r="0.35" fill="#888" fill-opacity="0.6"/>
<circle cx="90.78" cy="438.86" r="0.35" fill="#888" fill-opacity="0.6"/>
<circle cx="93.60" cy="455.88" r="0.35" fill="#888" fill-opacity="0.6"/>
<circle cx="102.61" cy="454.45" r="0.35" fill="#888" fill-opacity="0.6"/>
<circle cx="96.79" cy="441.89" r="0.35" fill="#888" fill-opacity="0.6"/>
<circle cx="95.23" cy="456.79" r="0.35" fill="#888" fill-opacity="0.6"/>
<circle cx="93.34" cy="455.56" r="0.35" fill="#888" fill-opacity="0.6"/>
<circle cx="98.57" cy="448.79" r="0.35" fill="#888" fill-opacity="0.6"/>
<circle cx="93.61" cy="443.45" r="0.35" fill="#888" fill-opacity="0.6"/>
<circle cx="93.50" cy="454.29" r="0.35" fill="#888" fill-opacity="0.6"/>
<circle cx="90.50" cy="445.48" r="0.35" fill="#888" fill-opacity="0.6"/>
<circle cx="99.14" cy="443.46" r="0.35" fill="#888" fill-opacity="0.6"/>
<circle cx="92.45" cy="458.00" r="0.35" fill="#888" fill-opacity="0.6"/>
<circle cx="94.31" cy="457.73" r="0.35" fill="#888" fill-opacity="0.6"/>
<circle cx="97.92" cy="452.32" r="0.35" fill="#888" fill-opacity="0.6"/>
<circle cx="95.42" cy="448.94" r="0.35" fill="#888" fill-opacity="0.6"/>
<circle cx="95.89" cy="454.34" r="0.35" fill="#888" fill-opacity="0.6"/>
<circle cx="91.57" cy="446.00" r="0.35" fill="#888" fill-opacity="0.6"/>
<circle cx="99.26" cy="455.87" r="0.35" fill="#888" fill-opacity="0.6"/>
<circle cx="91.06" cy="456.99" r="0.35" fill="#888" fill-opacity="0.6"/>
<circle cx="91.45" cy="444.28" r="0.35" fill="#888" fill-opacity="0.6"/>
<circle cx="95.45" cy="441.96" r="0.35" fill="#888" fill-opacity="0.6"/>
<circle cx="102.18" cy="439.72" r="0.35" fill="#888" fill-opacity="0.6"/>
<ellipse cx="96" cy="449" rx="5" ry="5.5" fill="#555" fill-opacity="0.5" filter="url(#bl2)"/>
<ellipse cx="98.2" cy="445.6" rx="2.0" ry="1.8" fill="#000" fill-opacity="0.95" filter="url(#bl1)"/>
<ellipse cx="94.2" cy="452.6" rx="3.1" ry="2.6" fill="#000" fill-opacity="1" filter="url(#bl1)" transform="rotate(-40 94.2 452.6)"/>
<ellipse cx="96.2" cy="449.2" rx="1.6" ry="2.6" fill="#111" fill-opacity="0.9" filter="url(#bl1)" transform="rotate(35 96.2 449.2)"/>
<rect x="88.5" y="430.4" width="20.8" height="19" fill="none" stroke="#000" stroke-width="1.1"/>
<text x="98.70" y="437.14" font-size="5.1" text-anchor="middle" fill="#000" stroke="#000" stroke-width="0.12">25.2</text>
<text x="98.70" y="465.74" font-size="5.1" text-anchor="middle" fill="#000" stroke="#000" stroke-width="0.12">71.3</text>
<text x="0.00" y="0.00" font-size="8.0" text-anchor="middle" font-weight="bold" fill="#111" transform="translate(73.88,443.60) rotate(-90) scale(0.645,1)" stroke="#111" stroke-width="0.3">CD95</text>
<line x1="71.70" y1="473.25" x2="71.70" y2="458.70" stroke="#000" stroke-width="1.2"/>
<path d="M69.60 459.00L71.70 455.00L73.80 459.00Z" fill="#000"/>
<line x1="71.25" y1="472.80" x2="81.50" y2="472.80" stroke="#000" stroke-width="1.2"/>
<path d="M81.20 470.70L85.20 472.80L81.20 474.90Z" fill="#000"/>
<text x="0.00" y="0.00" font-size="8.2" text-anchor="start" font-weight="bold" fill="#111" transform="translate(90.10,475.05) scale(0.611,1)" stroke="#111" stroke-width="0.3">CD27</text>
<rect x="121.1" y="430.3" width="34.400000000000006" height="36.80000000000001" fill="none" stroke="#c8c8c8" stroke-width="0.7"/>
<line x1="132.90" y1="449.40" x2="132.90" y2="467.10" stroke="#c8c8c8" stroke-width="0.7"/>
<line x1="121.10" y1="449.40" x2="132.90" y2="449.40" stroke="#c8c8c8" stroke-width="0.7"/>
<circle cx="137.55" cy="433.50" r="0.35" fill="#888" fill-opacity="0.6"/>
<circle cx="138.13" cy="445.15" r="0.35" fill="#888" fill-opacity="0.6"/>
<circle cx="137.32" cy="444.21" r="0.35" fill="#888" fill-opacity="0.6"/>
<circle cx="139.35" cy="439.22" r="0.35" fill="#888" fill-opacity="0.6"/>
<circle cx="145.10" cy="433.04" r="0.35" fill="#888" fill-opacity="0.6"/>
<circle cx="147.67" cy="442.04" r="0.35" fill="#888" fill-opacity="0.6"/>
<circle cx="137.75" cy="434.87" r="0.35" fill="#888" fill-opacity="0.6"/>
<circle cx="141.67" cy="444.96" r="0.35" fill="#888" fill-opacity="0.6"/>
<circle cx="148.75" cy="433.41" r="0.35" fill="#888" fill-opacity="0.6"/>
<circle cx="139.25" cy="446.96" r="0.35" fill="#888" fill-opacity="0.6"/>
<circle cx="137.99" cy="444.06" r="0.35" fill="#888" fill-opacity="0.6"/>
<circle cx="143.64" cy="443.11" r="0.35" fill="#888" fill-opacity="0.6"/>
<circle cx="144.36" cy="433.74" r="0.35" fill="#888" fill-opacity="0.6"/>
<circle cx="149.82" cy="444.68" r="0.35" fill="#888" fill-opacity="0.6"/>
<circle cx="147.70" cy="443.02" r="0.35" fill="#888" fill-opacity="0.6"/>
<circle cx="148.32" cy="440.33" r="0.35" fill="#888" fill-opacity="0.6"/>
<circle cx="135.01" cy="436.70" r="0.35" fill="#888" fill-opacity="0.6"/>
<circle cx="137.95" cy="447.67" r="0.35" fill="#888" fill-opacity="0.6"/>
<circle cx="136.99" cy="432.63" r="0.35" fill="#888" fill-opacity="0.6"/>
<circle cx="148.20" cy="444.88" r="0.35" fill="#888" fill-opacity="0.6"/>
<circle cx="143.35" cy="438.10" r="0.35" fill="#888" fill-opacity="0.6"/>
<circle cx="136.52" cy="440.33" r="0.35" fill="#888" fill-opacity="0.6"/>
<circle cx="146.17" cy="445.16" r="0.35" fill="#888" fill-opacity="0.6"/>
<circle cx="134.69" cy="440.14" r="0.35" fill="#888" fill-opacity="0.6"/>
<circle cx="133.94" cy="447.03" r="0.35" fill="#888" fill-opacity="0.6"/>
<circle cx="145.87" cy="432.85" r="0.35" fill="#888" fill-opacity="0.6"/>
<circle cx="149.37" cy="434.97" r="0.35" fill="#888" fill-opacity="0.6"/>
<circle cx="143.99" cy="437.70" r="0.35" fill="#888" fill-opacity="0.6"/>
<circle cx="134.54" cy="442.46" r="0.35" fill="#888" fill-opacity="0.6"/>
<circle cx="146.22" cy="434.60" r="0.35" fill="#888" fill-opacity="0.6"/>
<circle cx="148.71" cy="439.94" r="0.35" fill="#888" fill-opacity="0.6"/>
<circle cx="133.97" cy="434.81" r="0.35" fill="#888" fill-opacity="0.6"/>
<circle cx="133.68" cy="447.29" r="0.35" fill="#888" fill-opacity="0.6"/>
<circle cx="139.77" cy="435.13" r="0.35" fill="#888" fill-opacity="0.6"/>
<circle cx="133.76" cy="441.41" r="0.35" fill="#888" fill-opacity="0.6"/>
<circle cx="136.74" cy="437.94" r="0.35" fill="#888" fill-opacity="0.6"/>
<circle cx="141.09" cy="435.90" r="0.35" fill="#888" fill-opacity="0.6"/>
<circle cx="144.52" cy="440.70" r="0.35" fill="#888" fill-opacity="0.6"/>
<circle cx="139.00" cy="447.52" r="0.35" fill="#888" fill-opacity="0.6"/>
<circle cx="141.51" cy="442.25" r="0.35" fill="#888" fill-opacity="0.6"/>
<circle cx="135.46" cy="438.18" r="0.35" fill="#888" fill-opacity="0.6"/>
<circle cx="148.90" cy="447.84" r="0.35" fill="#888" fill-opacity="0.6"/>
<circle cx="137.10" cy="446.68" r="0.35" fill="#888" fill-opacity="0.6"/>
<circle cx="139.37" cy="443.34" r="0.35" fill="#888" fill-opacity="0.6"/>
<circle cx="140.80" cy="445.10" r="0.35" fill="#888" fill-opacity="0.6"/>
<circle cx="142.86" cy="432.99" r="0.35" fill="#888" fill-opacity="0.6"/>
<circle cx="148.52" cy="436.23" r="0.35" fill="#888" fill-opacity="0.6"/>
<circle cx="146.06" cy="441.97" r="0.35" fill="#888" fill-opacity="0.6"/>
<circle cx="140.54" cy="433.22" r="0.35" fill="#888" fill-opacity="0.6"/>
<circle cx="149.96" cy="434.84" r="0.35" fill="#888" fill-opacity="0.6"/>
<circle cx="146.35" cy="452.82" r="0.35" fill="#aaa" fill-opacity="0.5"/>
<circle cx="138.55" cy="450.35" r="0.35" fill="#aaa" fill-opacity="0.5"/>
<circle cx="137.18" cy="458.88" r="0.35" fill="#aaa" fill-opacity="0.5"/>
<circle cx="140.78" cy="450.90" r="0.35" fill="#aaa" fill-opacity="0.5"/>
<circle cx="133.77" cy="461.24" r="0.35" fill="#aaa" fill-opacity="0.5"/>
<circle cx="134.67" cy="455.88" r="0.35" fill="#aaa" fill-opacity="0.5"/>
<circle cx="142.00" cy="454.41" r="0.35" fill="#aaa" fill-opacity="0.5"/>
<circle cx="137.62" cy="454.03" r="0.35" fill="#aaa" fill-opacity="0.5"/>
<circle cx="140.74" cy="455.30" r="0.35" fill="#aaa" fill-opacity="0.5"/>
<circle cx="148.35" cy="460.82" r="0.35" fill="#aaa" fill-opacity="0.5"/>
<circle cx="134.54" cy="453.30" r="0.35" fill="#aaa" fill-opacity="0.5"/>
<circle cx="133.90" cy="456.12" r="0.35" fill="#aaa" fill-opacity="0.5"/>
<circle cx="144.42" cy="456.07" r="0.35" fill="#aaa" fill-opacity="0.5"/>
<circle cx="134.96" cy="453.86" r="0.35" fill="#aaa" fill-opacity="0.5"/>
<circle cx="136.43" cy="458.94" r="0.35" fill="#aaa" fill-opacity="0.5"/>
<circle cx="146.90" cy="457.47" r="0.35" fill="#aaa" fill-opacity="0.5"/>
<circle cx="142.09" cy="460.82" r="0.35" fill="#aaa" fill-opacity="0.5"/>
<circle cx="143.67" cy="452.41" r="0.35" fill="#aaa" fill-opacity="0.5"/>
<circle cx="148.49" cy="457.42" r="0.35" fill="#aaa" fill-opacity="0.5"/>
<circle cx="148.11" cy="454.42" r="0.35" fill="#aaa" fill-opacity="0.5"/>
<circle cx="142.57" cy="457.70" r="0.35" fill="#aaa" fill-opacity="0.5"/>
<circle cx="142.45" cy="450.96" r="0.35" fill="#aaa" fill-opacity="0.5"/>
<circle cx="136.77" cy="454.29" r="0.35" fill="#aaa" fill-opacity="0.5"/>
<circle cx="133.84" cy="450.37" r="0.35" fill="#aaa" fill-opacity="0.5"/>
<circle cx="144.85" cy="460.16" r="0.35" fill="#aaa" fill-opacity="0.5"/>
<circle cx="145.85" cy="454.84" r="0.35" fill="#aaa" fill-opacity="0.5"/>
<circle cx="147.84" cy="454.92" r="0.35" fill="#aaa" fill-opacity="0.5"/>
<circle cx="134.51" cy="453.63" r="0.35" fill="#aaa" fill-opacity="0.5"/>
<circle cx="148.13" cy="460.59" r="0.35" fill="#aaa" fill-opacity="0.5"/>
<circle cx="147.09" cy="454.63" r="0.35" fill="#aaa" fill-opacity="0.5"/>
<circle cx="136.34" cy="454.95" r="0.35" fill="#aaa" fill-opacity="0.5"/>
<circle cx="142.19" cy="454.19" r="0.35" fill="#aaa" fill-opacity="0.5"/>
<circle cx="135.30" cy="451.33" r="0.35" fill="#aaa" fill-opacity="0.5"/>
<circle cx="144.10" cy="450.37" r="0.35" fill="#aaa" fill-opacity="0.5"/>
<circle cx="137.22" cy="452.88" r="0.35" fill="#aaa" fill-opacity="0.5"/>
<ellipse cx="137.6" cy="440.2" rx="2.3" ry="2.1" fill="#000" fill-opacity="1" filter="url(#bl1)"/>
<ellipse cx="138.5" cy="440.5" rx="4" ry="3.5" fill="#666" fill-opacity="0.4" filter="url(#bl2)"/>
<rect x="129.3" y="436.5" width="1.9" height="29" fill="#444" filter="url(#bl1)"/>
<rect x="128.8" y="456" width="2.8" height="9.8" fill="#000" filter="url(#bl1)"/>
<circle cx="127.85" cy="439.27" r="0.4" fill="#666" fill-opacity="0.7"/>
<circle cx="127.92" cy="450.66" r="0.4" fill="#666" fill-opacity="0.7"/>
<circle cx="128.75" cy="447.07" r="0.4" fill="#666" fill-opacity="0.7"/>
<circle cx="132.61" cy="450.43" r="0.4" fill="#666" fill-opacity="0.7"/>
<circle cx="127.64" cy="443.83" r="0.4" fill="#666" fill-opacity="0.7"/>
<circle cx="130.49" cy="436.43" r="0.4" fill="#666" fill-opacity="0.7"/>
<circle cx="132.02" cy="446.79" r="0.4" fill="#666" fill-opacity="0.7"/>
<circle cx="129.44" cy="446.88" r="0.4" fill="#666" fill-opacity="0.7"/>
<circle cx="128.88" cy="446.06" r="0.4" fill="#666" fill-opacity="0.7"/>
<circle cx="131.41" cy="456.81" r="0.4" fill="#666" fill-opacity="0.7"/>
<circle cx="131.49" cy="462.93" r="0.4" fill="#666" fill-opacity="0.7"/>
<circle cx="129.71" cy="453.52" r="0.4" fill="#666" fill-opacity="0.7"/>
<circle cx="131.92" cy="454.72" r="0.4" fill="#666" fill-opacity="0.7"/>
<circle cx="128.00" cy="464.03" r="0.4" fill="#666" fill-opacity="0.7"/>
<circle cx="131.95" cy="434.77" r="0.4" fill="#666" fill-opacity="0.7"/>
<circle cx="129.71" cy="435.86" r="0.4" fill="#666" fill-opacity="0.7"/>
<circle cx="132.53" cy="447.55" r="0.4" fill="#666" fill-opacity="0.7"/>
<circle cx="130.66" cy="449.39" r="0.4" fill="#666" fill-opacity="0.7"/>
<circle cx="132.63" cy="460.72" r="0.4" fill="#666" fill-opacity="0.7"/>
<circle cx="129.56" cy="450.72" r="0.4" fill="#666" fill-opacity="0.7"/>
<circle cx="132.60" cy="456.05" r="0.4" fill="#666" fill-opacity="0.7"/>
<circle cx="131.55" cy="463.68" r="0.4" fill="#666" fill-opacity="0.7"/>
<circle cx="129.57" cy="456.59" r="0.4" fill="#666" fill-opacity="0.7"/>
<circle cx="129.95" cy="440.67" r="0.4" fill="#666" fill-opacity="0.7"/>
<circle cx="130.20" cy="454.27" r="0.4" fill="#666" fill-opacity="0.7"/>
<circle cx="132.74" cy="448.07" r="0.4" fill="#666" fill-opacity="0.7"/>
<circle cx="128.96" cy="464.57" r="0.4" fill="#666" fill-opacity="0.7"/>
<circle cx="132.05" cy="461.97" r="0.4" fill="#666" fill-opacity="0.7"/>
<circle cx="128.02" cy="457.93" r="0.4" fill="#666" fill-opacity="0.7"/>
<circle cx="130.30" cy="438.23" r="0.4" fill="#666" fill-opacity="0.7"/>
<circle cx="128.88" cy="464.54" r="0.4" fill="#666" fill-opacity="0.7"/>
<circle cx="129.55" cy="451.00" r="0.4" fill="#666" fill-opacity="0.7"/>
<circle cx="132.19" cy="438.49" r="0.4" fill="#666" fill-opacity="0.7"/>
<circle cx="130.83" cy="436.34" r="0.4" fill="#666" fill-opacity="0.7"/>
<circle cx="130.98" cy="456.92" r="0.4" fill="#666" fill-opacity="0.7"/>
<rect x="132.9" y="430.6" width="22.1" height="18.8" fill="none" stroke="#000" stroke-width="1.1"/>
<text x="125.80" y="436.54" font-size="5.1" text-anchor="middle" fill="#000" stroke="#000" stroke-width="0.12">14.2</text>
<text x="147.80" y="436.54" font-size="5.1" text-anchor="middle" fill="#000" stroke="#000" stroke-width="0.12">52.0</text>
<text x="125.30" y="465.64" font-size="5.1" text-anchor="middle" fill="#000" stroke="#000" stroke-width="0.12">28.4</text>
<text x="147.10" y="465.64" font-size="5.1" text-anchor="middle" fill="#000" stroke="#000" stroke-width="0.12">5.42</text>
<line x1="155.00" y1="440.60" x2="160.00" y2="440.60" stroke="#000" stroke-width="1.2"/>
<path d="M159.70 438.50L163.70 440.60L159.70 442.70Z" fill="#000"/>
<text x="0.00" y="0.00" font-size="8.0" text-anchor="middle" font-weight="bold" fill="#111" transform="translate(120.28,443.00) rotate(-90) scale(0.683,1)" stroke="#111" stroke-width="0.3">CD62L</text>
<line x1="116.50" y1="472.75" x2="116.50" y2="458.50" stroke="#000" stroke-width="1.2"/>
<path d="M114.40 458.80L116.50 454.80L118.60 458.80Z" fill="#000"/>
<line x1="116.05" y1="472.30" x2="127.30" y2="472.30" stroke="#000" stroke-width="1.2"/>
<path d="M127.00 470.20L131.00 472.30L127.00 474.40Z" fill="#000"/>
<text x="0.00" y="0.00" font-size="8.2" text-anchor="start" font-weight="bold" fill="#111" transform="translate(135.40,474.75) scale(0.634,1)" stroke="#111" stroke-width="0.3">CD45RA</text>
<rect x="172.6" y="430.5" width="34.900000000000006" height="36.30000000000001" fill="none" stroke="#c8c8c8" stroke-width="0.7"/>
<line x1="186.80" y1="448.90" x2="186.80" y2="466.80" stroke="#c8c8c8" stroke-width="0.7"/>
<line x1="172.60" y1="448.90" x2="186.80" y2="448.90" stroke="#c8c8c8" stroke-width="0.7"/>
<circle cx="184.55" cy="455.58" r="0.4" fill="#888" fill-opacity="0.6"/>
<circle cx="184.23" cy="454.46" r="0.4" fill="#888" fill-opacity="0.6"/>
<circle cx="185.98" cy="453.29" r="0.4" fill="#888" fill-opacity="0.6"/>
<circle cx="185.21" cy="447.55" r="0.4" fill="#888" fill-opacity="0.6"/>
<circle cx="183.77" cy="451.26" r="0.4" fill="#888" fill-opacity="0.6"/>
<circle cx="179.09" cy="450.03" r="0.4" fill="#888" fill-opacity="0.6"/>
<circle cx="179.27" cy="455.40" r="0.4" fill="#888" fill-opacity="0.6"/>
<circle cx="183.65" cy="448.24" r="0.4" fill="#888" fill-opacity="0.6"/>
<circle cx="182.56" cy="446.35" r="0.4" fill="#888" fill-opacity="0.6"/>
<circle cx="177.19" cy="454.52" r="0.4" fill="#888" fill-opacity="0.6"/>
<circle cx="184.66" cy="448.79" r="0.4" fill="#888" fill-opacity="0.6"/>
<circle cx="178.75" cy="448.95" r="0.4" fill="#888" fill-opacity="0.6"/>
<circle cx="176.19" cy="453.84" r="0.4" fill="#888" fill-opacity="0.6"/>
<circle cx="185.30" cy="452.60" r="0.4" fill="#888" fill-opacity="0.6"/>
<circle cx="176.62" cy="449.97" r="0.4" fill="#888" fill-opacity="0.6"/>
<circle cx="185.89" cy="445.57" r="0.4" fill="#888" fill-opacity="0.6"/>
<circle cx="182.82" cy="450.84" r="0.4" fill="#888" fill-opacity="0.6"/>
<circle cx="183.93" cy="452.52" r="0.4" fill="#888" fill-opacity="0.6"/>
<circle cx="179.45" cy="448.96" r="0.4" fill="#888" fill-opacity="0.6"/>
<circle cx="178.50" cy="446.32" r="0.4" fill="#888" fill-opacity="0.6"/>
<circle cx="184.28" cy="450.55" r="0.4" fill="#888" fill-opacity="0.6"/>
<circle cx="184.91" cy="451.90" r="0.4" fill="#888" fill-opacity="0.6"/>
<circle cx="176.10" cy="451.98" r="0.4" fill="#888" fill-opacity="0.6"/>
<circle cx="179.15" cy="449.17" r="0.4" fill="#888" fill-opacity="0.6"/>
<circle cx="176.78" cy="454.71" r="0.4" fill="#888" fill-opacity="0.6"/>
<circle cx="182.30" cy="449.48" r="0.4" fill="#888" fill-opacity="0.6"/>
<circle cx="185.24" cy="453.07" r="0.4" fill="#888" fill-opacity="0.6"/>
<circle cx="179.75" cy="448.53" r="0.4" fill="#888" fill-opacity="0.6"/>
<circle cx="178.74" cy="448.73" r="0.4" fill="#888" fill-opacity="0.6"/>
<circle cx="185.41" cy="446.36" r="0.4" fill="#888" fill-opacity="0.6"/>
<circle cx="176.06" cy="445.31" r="0.4" fill="#888" fill-opacity="0.6"/>
<circle cx="183.94" cy="455.05" r="0.4" fill="#888" fill-opacity="0.6"/>
<circle cx="176.53" cy="449.50" r="0.4" fill="#888" fill-opacity="0.6"/>
<circle cx="176.99" cy="449.99" r="0.4" fill="#888" fill-opacity="0.6"/>
<circle cx="185.59" cy="447.50" r="0.4" fill="#888" fill-opacity="0.6"/>
<ellipse cx="181.5" cy="450.8" rx="4" ry="3" fill="#999" fill-opacity="0.4" filter="url(#bl2)"/>
<circle cx="191.57" cy="445.43" r="0.35" fill="#999" fill-opacity="0.5"/>
<circle cx="188.67" cy="457.25" r="0.35" fill="#999" fill-opacity="0.5"/>
<circle cx="191.44" cy="446.33" r="0.35" fill="#999" fill-opacity="0.5"/>
<circle cx="201.16" cy="448.95" r="0.35" fill="#999" fill-opacity="0.5"/>
<circle cx="194.75" cy="443.32" r="0.35" fill="#999" fill-opacity="0.5"/>
<circle cx="191.42" cy="447.87" r="0.35" fill="#999" fill-opacity="0.5"/>
<circle cx="188.56" cy="445.40" r="0.35" fill="#999" fill-opacity="0.5"/>
<circle cx="193.96" cy="456.32" r="0.35" fill="#999" fill-opacity="0.5"/>
<circle cx="196.97" cy="444.29" r="0.35" fill="#999" fill-opacity="0.5"/>
<circle cx="196.45" cy="459.73" r="0.35" fill="#999" fill-opacity="0.5"/>
<circle cx="197.49" cy="452.35" r="0.35" fill="#999" fill-opacity="0.5"/>
<circle cx="188.48" cy="442.40" r="0.35" fill="#999" fill-opacity="0.5"/>
<circle cx="190.01" cy="449.81" r="0.35" fill="#999" fill-opacity="0.5"/>
<circle cx="192.70" cy="459.21" r="0.35" fill="#999" fill-opacity="0.5"/>
<circle cx="189.80" cy="451.56" r="0.35" fill="#999" fill-opacity="0.5"/>
<circle cx="191.26" cy="444.93" r="0.35" fill="#999" fill-opacity="0.5"/>
<circle cx="201.88" cy="456.02" r="0.35" fill="#999" fill-opacity="0.5"/>
<circle cx="187.65" cy="441.36" r="0.35" fill="#999" fill-opacity="0.5"/>
<circle cx="192.33" cy="444.92" r="0.35" fill="#999" fill-opacity="0.5"/>
<circle cx="200.02" cy="441.62" r="0.35" fill="#999" fill-opacity="0.5"/>
<circle cx="192.85" cy="451.66" r="0.35" fill="#999" fill-opacity="0.5"/>
<circle cx="189.18" cy="450.14" r="0.35" fill="#999" fill-opacity="0.5"/>
<circle cx="194.53" cy="447.12" r="0.35" fill="#999" fill-opacity="0.5"/>
<circle cx="199.23" cy="449.02" r="0.35" fill="#999" fill-opacity="0.5"/>
<circle cx="199.11" cy="445.67" r="0.35" fill="#999" fill-opacity="0.5"/>
<circle cx="193.85" cy="454.08" r="0.35" fill="#999" fill-opacity="0.5"/>
<circle cx="188.63" cy="443.82" r="0.35" fill="#999" fill-opacity="0.5"/>
<circle cx="191.67" cy="456.63" r="0.35" fill="#999" fill-opacity="0.5"/>
<circle cx="188.67" cy="449.35" r="0.35" fill="#999" fill-opacity="0.5"/>
<circle cx="189.63" cy="450.44" r="0.35" fill="#999" fill-opacity="0.5"/>
<ellipse cx="191" cy="453.5" rx="3.5" ry="4" fill="#555" fill-opacity="0.4" filter="url(#bl2)"/>
<ellipse cx="190.8" cy="454.9" rx="2.6" ry="2.8" fill="#000" fill-opacity="1" filter="url(#bl1)"/>
<ellipse cx="190" cy="447.5" rx="2.5" ry="1.5" fill="#777" fill-opacity="0.5" filter="url(#bl2)"/>
<rect x="186.8" y="430.5" width="20.7" height="18.4" fill="none" stroke="#000" stroke-width="1.1"/>
<text x="196.90" y="437.34" font-size="5.1" text-anchor="middle" fill="#000" stroke="#000" stroke-width="0.12">3.61</text>
<text x="196.90" y="465.94" font-size="5.1" text-anchor="middle" fill="#000" stroke="#000" stroke-width="0.12">89.7</text>
<text x="210.30" y="443.20" font-size="5.8" text-anchor="start" fill="#333" stroke="#333" stroke-width="0.18">Tcm</text>
<text x="0.00" y="0.00" font-size="8.0" text-anchor="middle" font-weight="bold" fill="#111" transform="translate(170.28,444.30) rotate(-90) scale(0.645,1)" stroke="#111" stroke-width="0.3">CD95</text>
<line x1="168.90" y1="473.45" x2="168.90" y2="458.00" stroke="#000" stroke-width="1.2"/>
<path d="M166.80 458.30L168.90 454.30L171.00 458.30Z" fill="#000"/>
<line x1="168.45" y1="473.00" x2="179.90" y2="473.00" stroke="#000" stroke-width="1.2"/>
<path d="M179.60 470.90L183.60 473.00L179.60 475.10Z" fill="#000"/>
<text x="0.00" y="0.00" font-size="8.2" text-anchor="start" font-weight="bold" fill="#111" transform="translate(187.20,473.75) scale(0.615,1)" stroke="#111" stroke-width="0.3">CD27</text>
</svg></body></html>
